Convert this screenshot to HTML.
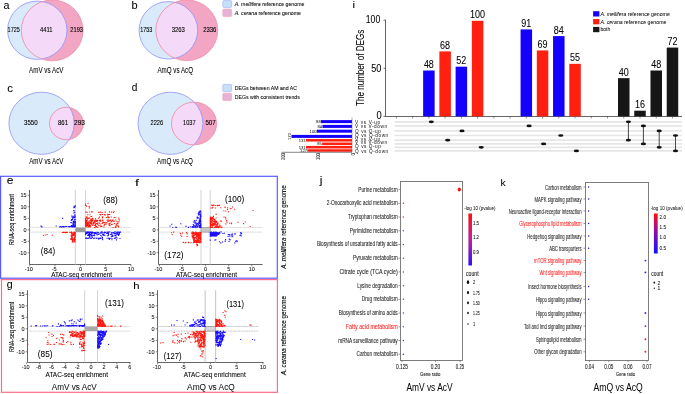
<!DOCTYPE html>
<html><head><meta charset="utf-8"><style>
html,body{margin:0;padding:0;background:#fff;}
svg{display:block;font-family:"Liberation Sans",sans-serif;will-change:transform;}
</style></head><body>
<svg width="685" height="394" viewBox="0 0 685 394">
<rect width="685" height="394" fill="#fff"/>
<clipPath id="ca"><ellipse cx="37.3" cy="30.25" rx="29.7" ry="29.15"/></clipPath>
<ellipse cx="37.3" cy="30.25" rx="29.7" ry="29.15" fill="#d9ebfb"/>
<ellipse cx="52.2" cy="30.4" rx="30.9" ry="30.4" fill="#f2a6c4"/>
<ellipse cx="52.2" cy="30.4" rx="30.9" ry="30.4" fill="#f4daf8" clip-path="url(#ca)"/>
<ellipse cx="37.3" cy="30.25" rx="29.7" ry="29.15" fill="none" stroke="#9090f8" stroke-width="0.8"/>
<ellipse cx="52.2" cy="30.4" rx="30.9" ry="30.4" fill="none" stroke="#f08ca4" stroke-width="0.8"/>
<clipPath id="cb"><ellipse cx="168.4" cy="30.3" rx="29.3" ry="28.7"/></clipPath>
<ellipse cx="168.4" cy="30.3" rx="29.3" ry="28.7" fill="#d9ebfb"/>
<ellipse cx="186.8" cy="30.3" rx="31.0" ry="30.3" fill="#f2a6c4"/>
<ellipse cx="186.8" cy="30.3" rx="31.0" ry="30.3" fill="#f4daf8" clip-path="url(#cb)"/>
<ellipse cx="168.4" cy="30.3" rx="29.3" ry="28.7" fill="none" stroke="#9090f8" stroke-width="0.8"/>
<ellipse cx="186.8" cy="30.3" rx="31.0" ry="30.3" fill="none" stroke="#f08ca4" stroke-width="0.8"/>
<clipPath id="cc"><ellipse cx="41.55" cy="123.3" rx="32.65" ry="31.1"/></clipPath>
<ellipse cx="41.55" cy="123.3" rx="32.65" ry="31.1" fill="#d9ebfb"/>
<ellipse cx="66.4" cy="123.5" rx="16.9" ry="16.25" fill="#f2a6c4"/>
<ellipse cx="66.4" cy="123.5" rx="16.9" ry="16.25" fill="#f4daf8" clip-path="url(#cc)"/>
<ellipse cx="41.55" cy="123.3" rx="32.65" ry="31.1" fill="none" stroke="#9090f8" stroke-width="0.8"/>
<ellipse cx="66.4" cy="123.5" rx="16.9" ry="16.25" fill="none" stroke="#f08ca4" stroke-width="0.8"/>
<clipPath id="cd"><ellipse cx="170.45" cy="123.3" rx="32.45" ry="31.1"/></clipPath>
<ellipse cx="170.45" cy="123.3" rx="32.45" ry="31.1" fill="#d9ebfb"/>
<ellipse cx="194.05" cy="123.5" rx="22.55" ry="21.4" fill="#f2a6c4"/>
<ellipse cx="194.05" cy="123.5" rx="22.55" ry="21.4" fill="#f4daf8" clip-path="url(#cd)"/>
<ellipse cx="170.45" cy="123.3" rx="32.45" ry="31.1" fill="none" stroke="#9090f8" stroke-width="0.8"/>
<ellipse cx="194.05" cy="123.5" rx="22.55" ry="21.4" fill="none" stroke="#f08ca4" stroke-width="0.8"/>
<text x="3.40" y="9.40" font-size="11.5" textLength="6.00" lengthAdjust="spacingAndGlyphs" fill="#000" stroke="#000" stroke-width="0.06" >a</text>
<text x="131.50" y="9.00" font-size="10" textLength="6.10" lengthAdjust="spacingAndGlyphs" fill="#000" stroke="#000" stroke-width="0.06" >b</text>
<text x="7.30" y="91.60" font-size="10.4" textLength="5.70" lengthAdjust="spacingAndGlyphs" fill="#000" stroke="#000" stroke-width="0.06" >c</text>
<text x="131.80" y="91.30" font-size="10" textLength="5.60" lengthAdjust="spacingAndGlyphs" fill="#000" stroke="#000" stroke-width="0.06" >d</text>
<text x="7.60" y="31.80" font-size="8.0" textLength="12.20" lengthAdjust="spacingAndGlyphs" fill="#000" stroke="#000" stroke-width="0.12" >1725</text>
<text x="39.90" y="31.80" font-size="8.0" textLength="12.60" lengthAdjust="spacingAndGlyphs" fill="#000" stroke="#000" stroke-width="0.12" >4411</text>
<text x="70.30" y="31.80" font-size="8.0" textLength="12.70" lengthAdjust="spacingAndGlyphs" fill="#000" stroke="#000" stroke-width="0.12" >2193</text>
<text x="140.20" y="31.90" font-size="8.0" textLength="12.20" lengthAdjust="spacingAndGlyphs" fill="#000" stroke="#000" stroke-width="0.12" >1753</text>
<text x="171.70" y="31.90" font-size="8.0" textLength="13.20" lengthAdjust="spacingAndGlyphs" fill="#000" stroke="#000" stroke-width="0.12" >3263</text>
<text x="203.20" y="31.90" font-size="8.0" textLength="13.20" lengthAdjust="spacingAndGlyphs" fill="#000" stroke="#000" stroke-width="0.12" >2336</text>
<text x="24.00" y="124.90" font-size="8.0" textLength="13.70" lengthAdjust="spacingAndGlyphs" fill="#000" stroke="#000" stroke-width="0.12" >3550</text>
<text x="58.00" y="124.90" font-size="8.0" textLength="10.00" lengthAdjust="spacingAndGlyphs" fill="#000" stroke="#000" stroke-width="0.12" >861</text>
<text x="74.00" y="124.90" font-size="8.0" textLength="11.00" lengthAdjust="spacingAndGlyphs" fill="#000" stroke="#000" stroke-width="0.12" >293</text>
<text x="150.50" y="124.90" font-size="8.0" textLength="12.50" lengthAdjust="spacingAndGlyphs" fill="#000" stroke="#000" stroke-width="0.12" >2226</text>
<text x="183.00" y="124.90" font-size="8.0" textLength="12.50" lengthAdjust="spacingAndGlyphs" fill="#000" stroke="#000" stroke-width="0.12" >1037</text>
<text x="205.40" y="124.90" font-size="8.0" textLength="10.30" lengthAdjust="spacingAndGlyphs" fill="#000" stroke="#000" stroke-width="0.12" >507</text>
<text x="29.00" y="73.00" font-size="9.0" textLength="34.50" lengthAdjust="spacingAndGlyphs" fill="#000" stroke="#000" stroke-width="0.06" >AmV vs AcV</text>
<text x="157.40" y="73.00" font-size="9.0" textLength="35.60" lengthAdjust="spacingAndGlyphs" fill="#000" stroke="#000" stroke-width="0.06" >AmQ vs AcQ</text>
<text x="29.20" y="164.20" font-size="9.0" textLength="34.30" lengthAdjust="spacingAndGlyphs" fill="#000" stroke="#000" stroke-width="0.06" >AmV vs AcV</text>
<text x="157.00" y="164.20" font-size="9.0" textLength="35.80" lengthAdjust="spacingAndGlyphs" fill="#000" stroke="#000" stroke-width="0.06" >AmQ vs AcQ</text>
<rect x="222.8" y="0.6" width="8.799999999999983" height="6.800000000000001" rx="1" fill="#c6e0f8" stroke="#a9b6f8" stroke-width="0.7"/>
<rect x="222.8" y="9.1" width="8.799999999999983" height="7.500000000000002" rx="1" fill="#e7b1d4" stroke="#f0a8c0" stroke-width="0.7"/>
<text x="234.70" y="6.30" font-size="6.2" textLength="69.70" lengthAdjust="spacingAndGlyphs" fill="#000" stroke="#000" stroke-width="0.07" ><tspan font-style="italic">A. mellifera</tspan> reference genome</text>
<text x="234.70" y="14.90" font-size="6.2" textLength="66.30" lengthAdjust="spacingAndGlyphs" fill="#000" stroke="#000" stroke-width="0.07" ><tspan font-style="italic">A. cerana</tspan> reference genome</text>
<rect x="222.8" y="84.4" width="8.799999999999983" height="7.199999999999989" rx="1" fill="#c6e0f8" stroke="#a9b6f8" stroke-width="0.7"/>
<rect x="222.8" y="93.3" width="8.799999999999983" height="7.1000000000000085" rx="1" fill="#e7b1d4" stroke="#f0a8c0" stroke-width="0.7"/>
<text x="234.70" y="89.60" font-size="6.2" textLength="62.30" lengthAdjust="spacingAndGlyphs" fill="#000" stroke="#000" stroke-width="0.07" >DEGs between AM and AC</text>
<text x="234.70" y="99.20" font-size="6.2" textLength="65.10" lengthAdjust="spacingAndGlyphs" fill="#000" stroke="#000" stroke-width="0.07" >DEGs with consistent trends</text>
<text x="352.50" y="7.50" font-size="9.4" textLength="2.60" lengthAdjust="spacingAndGlyphs" fill="#000" stroke="#000" stroke-width="0.06" >i</text>
<line x1="385.5" y1="19.8" x2="385.5" y2="116.4" stroke="#555" stroke-width="0.9"/>
<line x1="385.5" y1="116.5" x2="682" y2="116.5" stroke="#555" stroke-width="0.9"/>
<line x1="383.5" y1="116.40" x2="386" y2="116.40" stroke="#555" stroke-width="0.8"/>
<line x1="383.5" y1="68.30" x2="386" y2="68.30" stroke="#555" stroke-width="0.8"/>
<line x1="383.5" y1="20.20" x2="386" y2="20.20" stroke="#555" stroke-width="0.8"/>
<text x="365.80" y="23.40" font-size="10" textLength="14.40" lengthAdjust="spacingAndGlyphs" fill="#000" stroke="#000" stroke-width="0.06" >100</text>
<text x="371.30" y="71.80" font-size="10" textLength="10.10" lengthAdjust="spacingAndGlyphs" fill="#000" stroke="#000" stroke-width="0.06" >50</text>
<text x="376.40" y="118.60" font-size="10" textLength="5.20" lengthAdjust="spacingAndGlyphs" fill="#000" stroke="#000" stroke-width="0.06" >0</text>
<text transform="translate(363.60,106.00) rotate(-90)" x="0" y="0" font-size="10" textLength="76.30" lengthAdjust="spacingAndGlyphs" fill="#000" stroke="#000" stroke-width="0.06">The number of DEGs</text>
<line x1="396.40" y1="116.4" x2="396.40" y2="118.4" stroke="#555" stroke-width="0.7"/>
<line x1="412.64" y1="116.4" x2="412.64" y2="118.4" stroke="#555" stroke-width="0.7"/>
<line x1="428.88" y1="116.4" x2="428.88" y2="118.4" stroke="#555" stroke-width="0.7"/>
<line x1="445.12" y1="116.4" x2="445.12" y2="118.4" stroke="#555" stroke-width="0.7"/>
<line x1="461.36" y1="116.4" x2="461.36" y2="118.4" stroke="#555" stroke-width="0.7"/>
<line x1="477.60" y1="116.4" x2="477.60" y2="118.4" stroke="#555" stroke-width="0.7"/>
<line x1="493.84" y1="116.4" x2="493.84" y2="118.4" stroke="#555" stroke-width="0.7"/>
<line x1="510.08" y1="116.4" x2="510.08" y2="118.4" stroke="#555" stroke-width="0.7"/>
<line x1="526.32" y1="116.4" x2="526.32" y2="118.4" stroke="#555" stroke-width="0.7"/>
<line x1="542.56" y1="116.4" x2="542.56" y2="118.4" stroke="#555" stroke-width="0.7"/>
<line x1="558.80" y1="116.4" x2="558.80" y2="118.4" stroke="#555" stroke-width="0.7"/>
<line x1="575.04" y1="116.4" x2="575.04" y2="118.4" stroke="#555" stroke-width="0.7"/>
<line x1="591.28" y1="116.4" x2="591.28" y2="118.4" stroke="#555" stroke-width="0.7"/>
<line x1="607.52" y1="116.4" x2="607.52" y2="118.4" stroke="#555" stroke-width="0.7"/>
<line x1="623.76" y1="116.4" x2="623.76" y2="118.4" stroke="#555" stroke-width="0.7"/>
<line x1="640.00" y1="116.4" x2="640.00" y2="118.4" stroke="#555" stroke-width="0.7"/>
<line x1="656.24" y1="116.4" x2="656.24" y2="118.4" stroke="#555" stroke-width="0.7"/>
<line x1="672.48" y1="116.4" x2="672.48" y2="118.4" stroke="#555" stroke-width="0.7"/>
<rect x="423.13" y="70.51" width="11.5" height="45.89" fill="#1400ff"/>
<text x="423.88" y="68.11" font-size="10" textLength="10.00" lengthAdjust="spacingAndGlyphs" fill="#000" stroke="#000" stroke-width="0.06" >48</text>
<rect x="439.37" y="51.39" width="11.5" height="65.01" fill="#ff2010"/>
<text x="440.12" y="48.99" font-size="10" textLength="10.00" lengthAdjust="spacingAndGlyphs" fill="#000" stroke="#000" stroke-width="0.06" >68</text>
<rect x="455.61" y="66.69" width="11.5" height="49.71" fill="#1400ff"/>
<text x="456.36" y="64.29" font-size="10" textLength="10.00" lengthAdjust="spacingAndGlyphs" fill="#000" stroke="#000" stroke-width="0.06" >52</text>
<rect x="471.85" y="20.80" width="11.5" height="95.60" fill="#ff2010"/>
<text x="470.10" y="18.40" font-size="10" textLength="15.00" lengthAdjust="spacingAndGlyphs" fill="#000" stroke="#000" stroke-width="0.06" >100</text>
<rect x="520.57" y="29.40" width="11.5" height="87.00" fill="#1400ff"/>
<text x="521.32" y="27.00" font-size="10" textLength="10.00" lengthAdjust="spacingAndGlyphs" fill="#000" stroke="#000" stroke-width="0.06" >91</text>
<rect x="536.81" y="50.44" width="11.5" height="65.96" fill="#ff2010"/>
<text x="537.56" y="48.04" font-size="10" textLength="10.00" lengthAdjust="spacingAndGlyphs" fill="#000" stroke="#000" stroke-width="0.06" >69</text>
<rect x="553.05" y="36.10" width="11.5" height="80.30" fill="#1400ff"/>
<text x="553.80" y="33.70" font-size="10" textLength="10.00" lengthAdjust="spacingAndGlyphs" fill="#000" stroke="#000" stroke-width="0.06" >84</text>
<rect x="569.29" y="63.82" width="11.5" height="52.58" fill="#ff2010"/>
<text x="570.04" y="61.42" font-size="10" textLength="10.00" lengthAdjust="spacingAndGlyphs" fill="#000" stroke="#000" stroke-width="0.06" >55</text>
<rect x="618.01" y="78.16" width="11.5" height="38.24" fill="#161616"/>
<text x="618.76" y="75.76" font-size="10" textLength="10.00" lengthAdjust="spacingAndGlyphs" fill="#000" stroke="#000" stroke-width="0.06" >40</text>
<rect x="634.25" y="110.70" width="11.5" height="5.70" fill="#161616"/>
<text x="635.00" y="108.30" font-size="10" textLength="10.00" lengthAdjust="spacingAndGlyphs" fill="#000" stroke="#000" stroke-width="0.06" >16</text>
<rect x="650.49" y="70.51" width="11.5" height="45.89" fill="#161616"/>
<text x="651.24" y="68.11" font-size="10" textLength="10.00" lengthAdjust="spacingAndGlyphs" fill="#000" stroke="#000" stroke-width="0.06" >48</text>
<rect x="666.73" y="47.57" width="11.5" height="68.83" fill="#161616"/>
<text x="667.48" y="45.17" font-size="10" textLength="10.00" lengthAdjust="spacingAndGlyphs" fill="#000" stroke="#000" stroke-width="0.06" >72</text>
<rect x="593.1" y="11.20" width="6.3" height="5.3" fill="#1400ff"/>
<rect x="593.1" y="19.05" width="6.3" height="5.3" fill="#ff2010"/>
<rect x="593.1" y="26.90" width="6.3" height="5.3" fill="#161616"/>
<text x="600.40" y="15.90" font-size="5.4" textLength="69.40" lengthAdjust="spacingAndGlyphs" fill="#000" stroke="#000" stroke-width="0.03" ><tspan font-style="italic">A. mellifera</tspan> reference genome</text>
<text x="600.40" y="23.50" font-size="5.4" textLength="66.00" lengthAdjust="spacingAndGlyphs" fill="#000" stroke="#000" stroke-width="0.03" ><tspan font-style="italic">A. cerana</tspan> reference genome</text>
<text x="600.40" y="31.40" font-size="5.4" textLength="10.00" lengthAdjust="spacingAndGlyphs" fill="#000" stroke="#000" stroke-width="0.03" >both</text>
<line x1="394.5" y1="121.8" x2="682" y2="121.8" stroke="#e6e6e6" stroke-width="1.7"/>
<line x1="394.5" y1="125.9" x2="682" y2="125.9" stroke="#e6e6e6" stroke-width="1.7"/>
<line x1="394.5" y1="130.9" x2="682" y2="130.9" stroke="#e6e6e6" stroke-width="1.7"/>
<line x1="394.5" y1="135.5" x2="682" y2="135.5" stroke="#e6e6e6" stroke-width="1.7"/>
<line x1="394.5" y1="140.2" x2="682" y2="140.2" stroke="#e6e6e6" stroke-width="1.7"/>
<line x1="394.5" y1="143.9" x2="682" y2="143.9" stroke="#e6e6e6" stroke-width="1.7"/>
<line x1="394.5" y1="147.3" x2="682" y2="147.3" stroke="#e6e6e6" stroke-width="1.7"/>
<line x1="394.5" y1="150.9" x2="682" y2="150.9" stroke="#e6e6e6" stroke-width="1.7"/>
<ellipse cx="431.3" cy="121.8" rx="2.6" ry="1.35" fill="#111"/>
<ellipse cx="447.7" cy="140.2" rx="2.6" ry="1.35" fill="#111"/>
<ellipse cx="462.0" cy="130.9" rx="2.6" ry="1.35" fill="#111"/>
<ellipse cx="481.2" cy="147.3" rx="2.6" ry="1.35" fill="#111"/>
<ellipse cx="529.1" cy="125.9" rx="2.6" ry="1.35" fill="#111"/>
<ellipse cx="543.6" cy="143.9" rx="2.6" ry="1.35" fill="#111"/>
<ellipse cx="560.8" cy="135.5" rx="2.6" ry="1.35" fill="#111"/>
<ellipse cx="576.4" cy="150.9" rx="2.6" ry="1.35" fill="#111"/>
<line x1="628.4" y1="121.8" x2="628.4" y2="140.2" stroke="#333" stroke-width="0.9"/>
<ellipse cx="628.4" cy="121.8" rx="2.6" ry="1.35" fill="#111"/>
<ellipse cx="628.4" cy="140.2" rx="2.6" ry="1.35" fill="#111"/>
<line x1="643.4" y1="125.9" x2="643.4" y2="143.9" stroke="#333" stroke-width="0.9"/>
<ellipse cx="643.4" cy="125.9" rx="2.6" ry="1.35" fill="#111"/>
<ellipse cx="643.4" cy="143.9" rx="2.6" ry="1.35" fill="#111"/>
<line x1="659.2" y1="130.9" x2="659.2" y2="147.3" stroke="#333" stroke-width="0.9"/>
<ellipse cx="659.2" cy="130.9" rx="2.6" ry="1.35" fill="#111"/>
<ellipse cx="659.2" cy="147.3" rx="2.6" ry="1.35" fill="#111"/>
<line x1="675.5" y1="135.5" x2="675.5" y2="150.9" stroke="#333" stroke-width="0.9"/>
<ellipse cx="675.5" cy="135.5" rx="2.6" ry="1.35" fill="#111"/>
<ellipse cx="675.5" cy="150.9" rx="2.6" ry="1.35" fill="#111"/>
<rect x="321.02" y="120.10" width="30.98" height="3.0" fill="#1400ff"/>
<text x="316.12" y="123.20" font-size="4.4" textLength="4.60" lengthAdjust="spacingAndGlyphs" fill="#222" stroke="#222" stroke-width="0.03" >88</text>
<rect x="322.43" y="124.90" width="29.57" height="3.0" fill="#1400ff"/>
<text x="317.53" y="128.00" font-size="4.4" textLength="4.60" lengthAdjust="spacingAndGlyphs" fill="#222" stroke="#222" stroke-width="0.03" >84</text>
<rect x="316.80" y="129.70" width="35.20" height="3.0" fill="#1400ff"/>
<text x="309.60" y="132.80" font-size="4.4" textLength="6.90" lengthAdjust="spacingAndGlyphs" fill="#222" stroke="#222" stroke-width="0.03" >100</text>
<rect x="291.46" y="134.90" width="60.54" height="3.0" fill="#1400ff"/>
<text transform="translate(291.06,139.70) rotate(-90)" x="0" y="0" font-size="4.4" textLength="6.50" lengthAdjust="spacingAndGlyphs" fill="#222" stroke="#222" stroke-width="0.03">172</text>
<rect x="305.89" y="139.05" width="46.11" height="2.5" fill="#ff2010"/>
<text x="298.69" y="141.90" font-size="4.4" textLength="6.90" lengthAdjust="spacingAndGlyphs" fill="#222" stroke="#222" stroke-width="0.03" >131</text>
<rect x="322.08" y="142.55" width="29.92" height="2.5" fill="#ff2010"/>
<text x="317.18" y="145.40" font-size="4.4" textLength="4.60" lengthAdjust="spacingAndGlyphs" fill="#222" stroke="#222" stroke-width="0.03" >85</text>
<rect x="305.89" y="145.95" width="46.11" height="2.5" fill="#ff2010"/>
<text x="298.69" y="148.80" font-size="4.4" textLength="6.90" lengthAdjust="spacingAndGlyphs" fill="#222" stroke="#222" stroke-width="0.03" >131</text>
<rect x="307.30" y="149.25" width="44.70" height="2.5" fill="#ff2010"/>
<text x="300.10" y="152.10" font-size="4.4" textLength="6.90" lengthAdjust="spacingAndGlyphs" fill="#222" stroke="#222" stroke-width="0.03" >127</text>
<line x1="281.5" y1="152.3" x2="352" y2="152.3" stroke="#555" stroke-width="0.7"/>
<line x1="352" y1="117.5" x2="352" y2="152.3" stroke="#555" stroke-width="0.5"/>
<text transform="translate(284.50,160.10) rotate(-90)" x="0" y="0" font-size="4.6" textLength="6.90" lengthAdjust="spacingAndGlyphs" fill="#222" stroke="#222" stroke-width="0.03">200</text>
<text transform="translate(319.70,160.10) rotate(-90)" x="0" y="0" font-size="4.6" textLength="6.90" lengthAdjust="spacingAndGlyphs" fill="#222" stroke="#222" stroke-width="0.03">100</text>
<text transform="translate(354.90,155.50) rotate(-90)" x="0" y="0" font-size="4.6" textLength="2.30" lengthAdjust="spacingAndGlyphs" fill="#222" stroke="#222" stroke-width="0.03">0</text>
<text x="355.1" y="124.1" font-size="4.7" textLength="25.1" lengthAdjust="spacing" fill="#111">V vs V-up</text>
<text x="355.1" y="127.7" font-size="4.7" textLength="32.0" lengthAdjust="spacing" fill="#111">V vs V-down</text>
<text x="355.1" y="132.6" font-size="4.7" textLength="25.7" lengthAdjust="spacing" fill="#111">Q vs Q-up</text>
<text x="355.1" y="136.7" font-size="4.7" textLength="33.1" lengthAdjust="spacing" fill="#111">Q vs Q-down</text>
<text x="355.1" y="140.8" font-size="4.7" textLength="25.1" lengthAdjust="spacing" fill="#111">V vs V-up</text>
<text x="355.1" y="144.2" font-size="4.7" textLength="32.0" lengthAdjust="spacing" fill="#111">V vs V-down</text>
<text x="355.1" y="148.1" font-size="4.7" textLength="25.7" lengthAdjust="spacing" fill="#111">Q vs Q-up</text>
<text x="355.1" y="152.5" font-size="4.7" textLength="33.1" lengthAdjust="spacing" fill="#111">Q vs Q-down</text>
<rect x="0.6" y="176.3" width="276.7" height="101.9" fill="none" stroke="#5a5aff" stroke-width="1.2"/>
<rect x="1.5" y="279.6" width="275.9" height="112.7" fill="none" stroke="#ff6d88" stroke-width="1.2"/>
<text x="6.80" y="184.20" font-size="11" textLength="6.70" lengthAdjust="spacingAndGlyphs" fill="#000" stroke="#000" stroke-width="0.06" >e</text>
<text x="135.10" y="186.30" font-size="9.5" textLength="4.00" lengthAdjust="spacingAndGlyphs" fill="#000" stroke="#000" stroke-width="0.06" >f</text>
<text x="6.80" y="288.00" font-size="10.4" textLength="5.90" lengthAdjust="spacingAndGlyphs" fill="#000" stroke="#000" stroke-width="0.06" >g</text>
<text x="133.30" y="288.60" font-size="9.5" textLength="6.30" lengthAdjust="spacingAndGlyphs" fill="#000" stroke="#000" stroke-width="0.06" >h</text>
<line x1="29.5" y1="190.0" x2="29.5" y2="264.5" stroke="#555" stroke-width="0.9"/>
<line x1="29.5" y1="264.5" x2="131.0" y2="264.5" stroke="#555" stroke-width="0.9"/>
<line x1="27.7" y1="195.30" x2="29.5" y2="195.30" stroke="#555" stroke-width="0.7"/>
<text x="20.40" y="197.40" font-size="6.0" textLength="6.10" lengthAdjust="spacingAndGlyphs" fill="#111" stroke="#111" stroke-width="0.07" >15</text>
<line x1="27.7" y1="206.80" x2="29.5" y2="206.80" stroke="#555" stroke-width="0.7"/>
<text x="20.40" y="208.90" font-size="6.0" textLength="6.10" lengthAdjust="spacingAndGlyphs" fill="#111" stroke="#111" stroke-width="0.07" >10</text>
<line x1="27.7" y1="218.30" x2="29.5" y2="218.30" stroke="#555" stroke-width="0.7"/>
<text x="23.45" y="220.40" font-size="6.0" textLength="3.05" lengthAdjust="spacingAndGlyphs" fill="#111" stroke="#111" stroke-width="0.07" >5</text>
<line x1="27.7" y1="229.80" x2="29.5" y2="229.80" stroke="#555" stroke-width="0.7"/>
<text x="23.45" y="231.90" font-size="6.0" textLength="3.05" lengthAdjust="spacingAndGlyphs" fill="#111" stroke="#111" stroke-width="0.07" >0</text>
<line x1="27.7" y1="241.30" x2="29.5" y2="241.30" stroke="#555" stroke-width="0.7"/>
<text x="21.55" y="243.40" font-size="6.0" textLength="4.95" lengthAdjust="spacingAndGlyphs" fill="#111" stroke="#111" stroke-width="0.07" >-5</text>
<line x1="27.7" y1="252.80" x2="29.5" y2="252.80" stroke="#555" stroke-width="0.7"/>
<text x="18.50" y="254.90" font-size="6.0" textLength="8.00" lengthAdjust="spacingAndGlyphs" fill="#111" stroke="#111" stroke-width="0.07" >-10</text>
<line x1="29.80" y1="264.5" x2="29.80" y2="266.3" stroke="#555" stroke-width="0.7"/>
<text x="24.85" y="271.10" font-size="6.0" textLength="8.00" lengthAdjust="spacingAndGlyphs" fill="#111" stroke="#111" stroke-width="0.07" >-10</text>
<line x1="55.10" y1="264.5" x2="55.10" y2="266.3" stroke="#555" stroke-width="0.7"/>
<text x="51.68" y="271.10" font-size="6.0" textLength="4.95" lengthAdjust="spacingAndGlyphs" fill="#111" stroke="#111" stroke-width="0.07" >-5</text>
<line x1="80.40" y1="264.5" x2="80.40" y2="266.3" stroke="#555" stroke-width="0.7"/>
<text x="78.88" y="271.10" font-size="6.0" textLength="3.05" lengthAdjust="spacingAndGlyphs" fill="#111" stroke="#111" stroke-width="0.07" >0</text>
<line x1="105.70" y1="264.5" x2="105.70" y2="266.3" stroke="#555" stroke-width="0.7"/>
<text x="104.17" y="271.10" font-size="6.0" textLength="3.05" lengthAdjust="spacingAndGlyphs" fill="#111" stroke="#111" stroke-width="0.07" >5</text>
<line x1="131.00" y1="264.5" x2="131.00" y2="266.3" stroke="#555" stroke-width="0.7"/>
<text x="127.95" y="271.10" font-size="6.0" textLength="6.10" lengthAdjust="spacingAndGlyphs" fill="#111" stroke="#111" stroke-width="0.07" >10</text>
<line x1="75.34" y1="190.0" x2="75.34" y2="264.5" stroke="#cfcfcf" stroke-width="0.9"/>
<line x1="85.46" y1="190.0" x2="85.46" y2="264.5" stroke="#cfcfcf" stroke-width="0.9"/>
<line x1="29.5" y1="227.50" x2="131" y2="227.50" stroke="#cfcfcf" stroke-width="0.8" stroke-dasharray="2 0.6"/>
<line x1="29.5" y1="232.10" x2="131" y2="232.10" stroke="#cfcfcf" stroke-width="0.8" stroke-dasharray="2 0.6"/>
<rect x="75.34" y="227.50" width="10.12" height="4.60" fill="#9c9c9c" stroke="none" stroke-width="0.8"/>
<path fill="#ff1a10" d="M88.9 225.1h1.1v1.1h-1.1zM100.1 225.8h1.1v1.1h-1.1zM95.4 223.4h1.1v1.1h-1.1zM85.1 222.4h1.1v1.1h-1.1zM85.0 222.9h1.1v1.1h-1.1zM85.1 225.6h1.1v1.1h-1.1zM91.7 220.4h1.1v1.1h-1.1zM85.6 224.5h1.1v1.1h-1.1zM99.1 219.7h1.1v1.1h-1.1zM97.0 223.2h1.1v1.1h-1.1zM117.8 226.1h1.1v1.1h-1.1zM110.7 224.0h1.1v1.1h-1.1zM85.8 225.4h1.1v1.1h-1.1zM88.6 220.5h1.1v1.1h-1.1zM86.2 221.9h1.1v1.1h-1.1zM99.6 223.4h1.1v1.1h-1.1zM95.9 225.9h1.1v1.1h-1.1zM85.1 224.6h1.1v1.1h-1.1zM101.5 223.0h1.1v1.1h-1.1zM88.7 221.9h1.1v1.1h-1.1zM92.6 223.9h1.1v1.1h-1.1zM107.1 221.2h1.1v1.1h-1.1zM87.3 222.0h1.1v1.1h-1.1zM95.0 220.1h1.1v1.1h-1.1zM103.8 224.0h1.1v1.1h-1.1zM118.0 225.4h1.1v1.1h-1.1zM91.5 220.8h1.1v1.1h-1.1zM85.9 222.6h1.1v1.1h-1.1zM85.0 221.4h1.1v1.1h-1.1zM105.6 222.0h1.1v1.1h-1.1zM111.6 223.8h1.1v1.1h-1.1zM102.2 221.9h1.1v1.1h-1.1zM97.1 222.8h1.1v1.1h-1.1zM109.6 219.7h1.1v1.1h-1.1zM93.2 221.4h1.1v1.1h-1.1zM85.1 221.2h1.1v1.1h-1.1zM100.0 219.4h1.1v1.1h-1.1zM108.6 224.0h1.1v1.1h-1.1zM90.5 221.4h1.1v1.1h-1.1zM84.9 222.8h1.1v1.1h-1.1zM86.1 225.4h1.1v1.1h-1.1zM85.1 220.8h1.1v1.1h-1.1zM85.6 224.3h1.1v1.1h-1.1zM90.7 220.1h1.1v1.1h-1.1zM85.2 222.8h1.1v1.1h-1.1zM95.9 220.1h1.1v1.1h-1.1zM108.5 220.2h1.1v1.1h-1.1zM87.9 223.1h1.1v1.1h-1.1zM89.8 220.1h1.1v1.1h-1.1zM116.6 225.1h1.1v1.1h-1.1zM86.2 224.4h1.1v1.1h-1.1zM87.1 222.6h1.1v1.1h-1.1zM97.5 224.2h1.1v1.1h-1.1zM84.9 223.1h1.1v1.1h-1.1zM90.1 222.0h1.1v1.1h-1.1zM116.3 221.2h1.1v1.1h-1.1zM94.7 221.7h1.1v1.1h-1.1zM101.3 226.0h1.1v1.1h-1.1zM113.0 220.7h1.1v1.1h-1.1zM111.6 220.6h1.1v1.1h-1.1zM90.7 223.2h1.1v1.1h-1.1zM85.4 221.6h1.1v1.1h-1.1zM85.1 225.9h1.1v1.1h-1.1zM86.7 225.0h1.1v1.1h-1.1zM89.3 226.0h1.1v1.1h-1.1zM84.9 225.1h1.1v1.1h-1.1zM85.4 223.4h1.1v1.1h-1.1zM84.9 220.1h1.1v1.1h-1.1zM98.5 225.1h1.1v1.1h-1.1zM87.4 223.6h1.1v1.1h-1.1zM90.0 225.3h1.1v1.1h-1.1zM110.1 219.4h1.1v1.1h-1.1zM93.0 222.6h1.1v1.1h-1.1zM85.2 225.5h1.1v1.1h-1.1zM89.4 224.2h1.1v1.1h-1.1zM109.0 225.0h1.1v1.1h-1.1zM84.9 219.7h1.1v1.1h-1.1zM95.1 225.1h1.1v1.1h-1.1zM95.7 226.3h1.1v1.1h-1.1zM95.1 219.5h1.1v1.1h-1.1zM110.9 221.2h1.1v1.1h-1.1zM87.6 223.4h1.1v1.1h-1.1zM86.1 220.7h1.1v1.1h-1.1zM95.3 220.7h1.1v1.1h-1.1zM89.1 224.5h1.1v1.1h-1.1zM108.0 219.4h1.1v1.1h-1.1zM110.3 220.5h1.1v1.1h-1.1zM108.4 220.9h1.1v1.1h-1.1zM87.0 222.4h1.1v1.1h-1.1zM89.7 226.3h1.1v1.1h-1.1zM84.9 224.1h1.1v1.1h-1.1zM87.6 221.2h1.1v1.1h-1.1zM116.5 222.9h1.1v1.1h-1.1zM115.3 219.4h1.1v1.1h-1.1zM116.4 223.4h1.1v1.1h-1.1zM86.9 224.5h1.1v1.1h-1.1zM86.5 224.7h1.1v1.1h-1.1zM99.0 220.0h1.1v1.1h-1.1zM109.6 222.6h1.1v1.1h-1.1zM100.2 220.6h1.1v1.1h-1.1zM85.2 221.4h1.1v1.1h-1.1zM113.7 220.7h1.1v1.1h-1.1zM104.8 222.6h1.1v1.1h-1.1zM86.2 220.6h1.1v1.1h-1.1zM89.2 220.6h1.1v1.1h-1.1zM117.5 223.2h1.1v1.1h-1.1zM91.0 219.7h1.1v1.1h-1.1zM103.6 224.9h1.1v1.1h-1.1zM85.6 225.1h1.1v1.1h-1.1zM113.4 220.5h1.1v1.1h-1.1zM85.8 220.4h1.1v1.1h-1.1zM118.0 221.5h1.1v1.1h-1.1zM89.6 222.2h1.1v1.1h-1.1zM85.6 226.5h1.1v1.1h-1.1zM117.4 221.5h1.1v1.1h-1.1zM95.1 219.8h1.1v1.1h-1.1zM91.9 220.1h1.1v1.1h-1.1zM108.8 224.6h1.1v1.1h-1.1zM87.4 224.0h1.1v1.1h-1.1zM87.2 221.9h1.1v1.1h-1.1zM87.6 223.1h1.1v1.1h-1.1zM85.6 219.9h1.1v1.1h-1.1zM89.7 222.8h1.1v1.1h-1.1zM97.3 219.9h1.1v1.1h-1.1zM91.5 219.8h1.1v1.1h-1.1zM94.2 222.3h1.1v1.1h-1.1zM95.0 226.4h1.1v1.1h-1.1zM92.1 224.8h1.1v1.1h-1.1zM84.9 220.6h1.1v1.1h-1.1zM86.1 222.7h1.1v1.1h-1.1zM103.6 222.1h1.1v1.1h-1.1zM89.0 222.4h1.1v1.1h-1.1zM96.2 220.7h1.1v1.1h-1.1zM85.4 222.1h1.1v1.1h-1.1zM87.4 224.1h1.1v1.1h-1.1zM106.0 222.4h1.1v1.1h-1.1zM96.4 220.8h1.1v1.1h-1.1zM113.8 222.9h1.1v1.1h-1.1zM98.5 222.5h1.1v1.1h-1.1zM94.6 221.2h1.1v1.1h-1.1zM92.5 222.3h1.1v1.1h-1.1zM93.4 219.7h1.1v1.1h-1.1zM102.3 220.1h1.1v1.1h-1.1zM115.6 224.2h1.1v1.1h-1.1zM96.3 219.7h1.1v1.1h-1.1zM109.6 225.2h1.1v1.1h-1.1zM85.5 222.9h1.1v1.1h-1.1zM85.1 224.4h1.1v1.1h-1.1zM85.1 221.4h1.1v1.1h-1.1zM106.6 220.0h1.1v1.1h-1.1zM85.9 221.1h1.1v1.1h-1.1zM100.5 225.2h1.1v1.1h-1.1zM112.1 219.6h1.1v1.1h-1.1zM86.8 219.6h1.1v1.1h-1.1zM90.9 222.6h1.1v1.1h-1.1zM118.7 220.4h1.1v1.1h-1.1zM86.0 223.0h1.1v1.1h-1.1zM94.7 223.6h1.1v1.1h-1.1zM86.5 223.8h1.1v1.1h-1.1zM103.4 226.4h1.1v1.1h-1.1zM96.1 222.9h1.1v1.1h-1.1zM84.9 223.7h1.1v1.1h-1.1zM99.0 222.4h1.1v1.1h-1.1zM85.1 219.4h1.1v1.1h-1.1zM106.8 219.5h1.1v1.1h-1.1zM85.4 224.2h1.1v1.1h-1.1zM85.0 220.7h1.1v1.1h-1.1zM87.8 225.3h1.1v1.1h-1.1zM91.6 219.9h1.1v1.1h-1.1zM108.5 224.2h1.1v1.1h-1.1zM85.8 219.8h1.1v1.1h-1.1zM96.8 221.2h1.1v1.1h-1.1zM85.3 226.0h1.1v1.1h-1.1zM101.8 223.0h1.1v1.1h-1.1zM85.1 219.7h1.1v1.1h-1.1zM99.4 220.6h1.1v1.1h-1.1zM85.2 220.2h1.1v1.1h-1.1zM85.1 220.2h1.1v1.1h-1.1zM92.6 223.6h1.1v1.1h-1.1zM96.1 219.8h1.1v1.1h-1.1zM87.7 225.3h1.1v1.1h-1.1zM95.1 224.4h1.1v1.1h-1.1zM85.4 225.0h1.1v1.1h-1.1zM85.0 224.7h1.1v1.1h-1.1zM88.7 223.9h1.1v1.1h-1.1zM105.3 224.0h1.1v1.1h-1.1zM94.1 224.9h1.1v1.1h-1.1zM89.5 226.4h1.1v1.1h-1.1zM87.4 226.5h1.1v1.1h-1.1zM104.0 222.2h1.1v1.1h-1.1zM86.4 222.7h1.1v1.1h-1.1zM115.2 225.5h1.1v1.1h-1.1zM108.5 223.0h1.1v1.1h-1.1zM94.0 220.4h1.1v1.1h-1.1zM90.7 222.4h1.1v1.1h-1.1zM101.8 219.5h1.1v1.1h-1.1zM89.4 220.4h1.1v1.1h-1.1zM102.7 221.6h1.1v1.1h-1.1zM91.1 223.6h1.1v1.1h-1.1zM85.0 225.3h1.1v1.1h-1.1zM86.0 216.8h1.1v1.1h-1.1zM90.8 218.8h1.1v1.1h-1.1zM86.3 216.5h1.1v1.1h-1.1zM113.6 217.0h1.1v1.1h-1.1zM91.5 218.5h1.1v1.1h-1.1zM91.9 217.8h1.1v1.1h-1.1zM88.0 217.8h1.1v1.1h-1.1zM91.0 216.0h1.1v1.1h-1.1zM118.1 217.5h1.1v1.1h-1.1zM90.4 216.0h1.1v1.1h-1.1zM92.4 218.1h1.1v1.1h-1.1zM84.9 218.0h1.1v1.1h-1.1zM98.0 217.6h1.1v1.1h-1.1zM89.2 217.6h1.1v1.1h-1.1zM84.9 218.4h1.1v1.1h-1.1zM86.4 218.0h1.1v1.1h-1.1zM85.5 219.3h1.1v1.1h-1.1zM92.2 218.6h1.1v1.1h-1.1zM102.1 217.5h1.1v1.1h-1.1zM108.6 217.1h1.1v1.1h-1.1zM107.2 216.3h1.1v1.1h-1.1zM95.0 218.2h1.1v1.1h-1.1zM118.6 218.8h1.1v1.1h-1.1zM107.5 217.1h1.1v1.1h-1.1zM85.5 216.5h1.1v1.1h-1.1zM114.6 217.2h1.1v1.1h-1.1zM107.9 216.6h1.1v1.1h-1.1zM87.6 217.6h1.1v1.1h-1.1zM99.0 216.5h1.1v1.1h-1.1zM110.8 216.5h1.1v1.1h-1.1zM102.0 216.3h1.1v1.1h-1.1zM105.9 217.0h1.1v1.1h-1.1zM90.0 219.3h1.1v1.1h-1.1zM87.4 218.1h1.1v1.1h-1.1zM86.7 216.5h1.1v1.1h-1.1zM101.9 214.0h1.1v1.1h-1.1zM103.9 213.9h1.1v1.1h-1.1zM99.8 214.4h1.1v1.1h-1.1zM109.1 213.9h1.1v1.1h-1.1zM100.2 214.0h1.1v1.1h-1.1zM104.9 214.4h1.1v1.1h-1.1zM107.3 214.2h1.1v1.1h-1.1zM87.2 214.2h1.1v1.1h-1.1zM107.1 214.3h1.1v1.1h-1.1zM107.4 213.7h1.1v1.1h-1.1zM99.9 214.2h1.1v1.1h-1.1zM99.5 213.9h1.1v1.1h-1.1zM108.2 214.0h1.1v1.1h-1.1zM104.4 214.4h1.1v1.1h-1.1zM89.4 214.2h1.1v1.1h-1.1zM107.5 214.2h1.1v1.1h-1.1zM101.6 211.9h1.1v1.1h-1.1zM86.7 211.7h1.1v1.1h-1.1zM104.6 211.4h1.1v1.1h-1.1zM104.7 211.7h1.1v1.1h-1.1zM100.1 211.6h1.1v1.1h-1.1zM98.6 211.8h1.1v1.1h-1.1zM111.1 211.7h1.1v1.1h-1.1zM113.6 211.2h1.1v1.1h-1.1zM85.4 211.6h1.1v1.1h-1.1zM109.0 211.2h1.1v1.1h-1.1zM98.1 211.7h1.1v1.1h-1.1zM91.1 211.2h1.1v1.1h-1.1zM91.1 211.5h1.1v1.1h-1.1zM89.1 211.5h1.1v1.1h-1.1zM112.9 211.8h1.1v1.1h-1.1zM109.0 211.5h1.1v1.1h-1.1zM110.9 211.4h1.1v1.1h-1.1zM91.7 211.3h1.1v1.1h-1.1zM88.8 207.3h1.1v1.1h-1.1zM84.9 204.8h1.1v1.1h-1.1zM88.6 205.8h1.1v1.1h-1.1zM86.0 205.6h1.1v1.1h-1.1zM87.5 203.0h1.1v1.1h-1.1zM84.9 203.4h1.1v1.1h-1.1zM112.5 226.9h1.1v1.1h-1.1zM115.4 226.5h1.1v1.1h-1.1zM114.6 226.8h1.1v1.1h-1.1zM97.2 226.7h1.1v1.1h-1.1zM117.8 226.5h1.1v1.1h-1.1zM96.8 226.7h1.1v1.1h-1.1zM94.0 226.9h1.1v1.1h-1.1zM88.3 226.4h1.1v1.1h-1.1zM71.2 239.1h1.1v1.1h-1.1zM72.4 239.3h1.1v1.1h-1.1zM72.4 233.1h1.1v1.1h-1.1zM74.6 231.9h1.1v1.1h-1.1zM71.7 232.5h1.1v1.1h-1.1zM73.9 234.4h1.1v1.1h-1.1zM74.8 232.9h1.1v1.1h-1.1zM74.0 237.8h1.1v1.1h-1.1zM73.7 233.4h1.1v1.1h-1.1zM70.5 235.3h1.1v1.1h-1.1zM71.2 236.6h1.1v1.1h-1.1zM74.8 234.3h1.1v1.1h-1.1zM73.4 238.6h1.1v1.1h-1.1zM73.8 237.7h1.1v1.1h-1.1zM72.9 232.6h1.1v1.1h-1.1zM71.1 231.8h1.1v1.1h-1.1zM71.3 232.3h1.1v1.1h-1.1zM74.8 232.5h1.1v1.1h-1.1zM71.7 241.6h1.1v1.1h-1.1zM74.8 235.1h1.1v1.1h-1.1zM73.1 238.9h1.1v1.1h-1.1zM74.4 235.1h1.1v1.1h-1.1zM73.8 239.4h1.1v1.1h-1.1zM74.1 241.0h1.1v1.1h-1.1zM74.0 232.6h1.1v1.1h-1.1zM72.0 235.2h1.1v1.1h-1.1zM74.6 236.8h1.1v1.1h-1.1zM74.7 238.8h1.1v1.1h-1.1zM72.0 238.8h1.1v1.1h-1.1zM72.4 233.7h1.1v1.1h-1.1zM73.5 234.1h1.1v1.1h-1.1zM70.9 231.8h1.1v1.1h-1.1zM70.9 231.6h1.1v1.1h-1.1zM74.3 232.9h1.1v1.1h-1.1zM70.9 235.2h1.1v1.1h-1.1zM73.6 240.2h1.1v1.1h-1.1zM74.2 234.8h1.1v1.1h-1.1zM72.9 238.3h1.1v1.1h-1.1zM71.7 236.9h1.1v1.1h-1.1zM73.7 233.5h1.1v1.1h-1.1zM74.5 239.6h1.1v1.1h-1.1zM72.2 238.2h1.1v1.1h-1.1zM74.4 234.6h1.1v1.1h-1.1zM71.6 236.1h1.1v1.1h-1.1zM74.5 234.8h1.1v1.1h-1.1zM71.0 232.8h1.1v1.1h-1.1zM74.3 233.3h1.1v1.1h-1.1zM72.0 239.6h1.1v1.1h-1.1zM74.5 232.2h1.1v1.1h-1.1zM74.1 233.5h1.1v1.1h-1.1zM73.0 232.2h1.1v1.1h-1.1zM73.8 232.4h1.1v1.1h-1.1zM70.4 238.0h1.1v1.1h-1.1zM74.6 241.3h1.1v1.1h-1.1zM74.6 234.0h1.1v1.1h-1.1zM70.3 238.9h1.1v1.1h-1.1zM71.8 234.5h1.1v1.1h-1.1zM74.3 236.8h1.1v1.1h-1.1zM74.6 232.5h1.1v1.1h-1.1zM73.6 231.6h1.1v1.1h-1.1zM73.5 238.8h1.1v1.1h-1.1zM72.1 235.2h1.1v1.1h-1.1zM72.4 234.8h1.1v1.1h-1.1zM74.5 236.4h1.1v1.1h-1.1zM73.5 238.2h1.1v1.1h-1.1zM70.8 234.5h1.1v1.1h-1.1zM72.7 238.3h1.1v1.1h-1.1zM73.4 232.7h1.1v1.1h-1.1zM71.9 240.1h1.1v1.1h-1.1zM71.6 237.6h1.1v1.1h-1.1zM71.1 237.3h1.1v1.1h-1.1zM72.3 234.7h1.1v1.1h-1.1zM73.9 236.7h1.1v1.1h-1.1zM74.6 234.4h1.1v1.1h-1.1zM71.6 237.8h1.1v1.1h-1.1zM72.4 232.8h1.1v1.1h-1.1zM73.4 234.7h1.1v1.1h-1.1zM72.4 234.3h1.1v1.1h-1.1zM72.2 240.8h1.1v1.1h-1.1zM74.4 237.0h1.1v1.1h-1.1zM71.6 234.1h1.1v1.1h-1.1zM73.1 241.5h1.1v1.1h-1.1zM74.7 235.7h1.1v1.1h-1.1zM74.4 238.7h1.1v1.1h-1.1zM70.6 235.4h1.1v1.1h-1.1zM62.6 231.9h1.1v1.1h-1.1zM66.8 231.8h1.1v1.1h-1.1zM66.6 231.8h1.1v1.1h-1.1zM69.6 231.9h1.1v1.1h-1.1zM65.6 231.7h1.1v1.1h-1.1zM63.7 231.8h1.1v1.1h-1.1zM65.4 231.8h1.1v1.1h-1.1zM62.8 231.7h1.1v1.1h-1.1zM65.1 232.1h1.1v1.1h-1.1zM64.3 231.9h1.1v1.1h-1.1zM61.8 231.9h1.1v1.1h-1.1zM65.7 231.8h1.1v1.1h-1.1zM65.0 232.0h1.1v1.1h-1.1zM63.8 231.8h1.1v1.1h-1.1zM70.7 231.9h1.1v1.1h-1.1zM63.7 231.8h1.1v1.1h-1.1zM65.4 232.0h1.1v1.1h-1.1zM62.9 231.8h1.1v1.1h-1.1zM69.4 231.8h1.1v1.1h-1.1zM66.1 231.9h1.1v1.1h-1.1zM42.8 234.9h1.1v1.1h-1.1zM44.7 234.4h1.1v1.1h-1.1zM51.8 234.7h1.1v1.1h-1.1zM46.5 233.9h1.1v1.1h-1.1z"/>
<path fill="#1a10ff" d="M90.3 234.9h1.1v1.1h-1.1zM89.3 232.1h1.1v1.1h-1.1zM97.8 231.9h1.1v1.1h-1.1zM93.0 235.0h1.1v1.1h-1.1zM114.4 234.4h1.1v1.1h-1.1zM102.7 234.8h1.1v1.1h-1.1zM117.2 233.2h1.1v1.1h-1.1zM106.5 231.4h1.1v1.1h-1.1zM107.1 232.8h1.1v1.1h-1.1zM108.0 233.6h1.1v1.1h-1.1zM90.3 231.4h1.1v1.1h-1.1zM116.5 231.6h1.1v1.1h-1.1zM96.4 232.4h1.1v1.1h-1.1zM90.7 234.0h1.1v1.1h-1.1zM119.1 232.1h1.1v1.1h-1.1zM103.7 232.2h1.1v1.1h-1.1zM99.6 232.6h1.1v1.1h-1.1zM87.3 231.8h1.1v1.1h-1.1zM88.3 234.8h1.1v1.1h-1.1zM97.3 232.0h1.1v1.1h-1.1zM115.5 235.2h1.1v1.1h-1.1zM95.6 231.7h1.1v1.1h-1.1zM87.9 231.5h1.1v1.1h-1.1zM92.0 231.5h1.1v1.1h-1.1zM89.1 232.1h1.1v1.1h-1.1zM100.1 234.7h1.1v1.1h-1.1zM107.9 232.7h1.1v1.1h-1.1zM94.3 233.1h1.1v1.1h-1.1zM93.1 232.4h1.1v1.1h-1.1zM85.5 232.2h1.1v1.1h-1.1zM118.6 231.6h1.1v1.1h-1.1zM97.6 233.6h1.1v1.1h-1.1zM113.3 231.9h1.1v1.1h-1.1zM89.9 232.1h1.1v1.1h-1.1zM93.9 232.8h1.1v1.1h-1.1zM117.9 234.5h1.1v1.1h-1.1zM113.8 231.4h1.1v1.1h-1.1zM85.1 233.9h1.1v1.1h-1.1zM114.9 232.9h1.1v1.1h-1.1zM100.8 231.3h1.1v1.1h-1.1zM93.6 234.9h1.1v1.1h-1.1zM111.5 234.6h1.1v1.1h-1.1zM118.9 232.1h1.1v1.1h-1.1zM86.2 231.7h1.1v1.1h-1.1zM98.3 233.8h1.1v1.1h-1.1zM117.3 234.0h1.1v1.1h-1.1zM103.4 234.2h1.1v1.1h-1.1zM95.9 233.2h1.1v1.1h-1.1zM85.2 234.2h1.1v1.1h-1.1zM88.9 234.9h1.1v1.1h-1.1zM103.3 232.3h1.1v1.1h-1.1zM86.5 232.1h1.1v1.1h-1.1zM102.9 233.9h1.1v1.1h-1.1zM86.2 231.5h1.1v1.1h-1.1zM98.4 233.4h1.1v1.1h-1.1zM93.5 232.0h1.1v1.1h-1.1zM101.4 231.3h1.1v1.1h-1.1zM90.8 232.9h1.1v1.1h-1.1zM118.2 233.6h1.1v1.1h-1.1zM114.3 232.9h1.1v1.1h-1.1zM88.9 232.1h1.1v1.1h-1.1zM118.3 233.9h1.1v1.1h-1.1zM90.9 231.4h1.1v1.1h-1.1zM97.4 233.8h1.1v1.1h-1.1zM94.6 232.1h1.1v1.1h-1.1zM104.2 234.9h1.1v1.1h-1.1zM88.7 231.4h1.1v1.1h-1.1zM91.9 232.7h1.1v1.1h-1.1zM104.9 231.9h1.1v1.1h-1.1zM110.1 234.0h1.1v1.1h-1.1zM97.6 231.9h1.1v1.1h-1.1zM118.7 232.3h1.1v1.1h-1.1zM111.2 232.0h1.1v1.1h-1.1zM88.6 234.1h1.1v1.1h-1.1zM90.6 235.0h1.1v1.1h-1.1zM97.3 231.8h1.1v1.1h-1.1zM88.6 232.7h1.1v1.1h-1.1zM104.1 235.0h1.1v1.1h-1.1zM86.9 232.6h1.1v1.1h-1.1zM88.4 235.1h1.1v1.1h-1.1zM86.8 231.4h1.1v1.1h-1.1zM85.4 232.6h1.1v1.1h-1.1zM115.1 234.7h1.1v1.1h-1.1zM107.1 235.2h1.1v1.1h-1.1zM116.8 232.4h1.1v1.1h-1.1zM87.7 234.9h1.1v1.1h-1.1zM107.7 231.4h1.1v1.1h-1.1zM104.1 232.5h1.1v1.1h-1.1zM93.0 232.4h1.1v1.1h-1.1zM87.4 231.3h1.1v1.1h-1.1zM90.2 232.4h1.1v1.1h-1.1zM118.0 231.6h1.1v1.1h-1.1zM118.4 231.9h1.1v1.1h-1.1zM92.5 234.4h1.1v1.1h-1.1zM111.3 232.7h1.1v1.1h-1.1zM85.3 232.9h1.1v1.1h-1.1zM93.0 234.9h1.1v1.1h-1.1zM87.9 232.5h1.1v1.1h-1.1zM115.0 231.4h1.1v1.1h-1.1zM94.2 234.4h1.1v1.1h-1.1zM108.7 231.4h1.1v1.1h-1.1zM85.1 231.5h1.1v1.1h-1.1zM116.2 232.1h1.1v1.1h-1.1zM107.8 234.8h1.1v1.1h-1.1zM91.9 232.1h1.1v1.1h-1.1zM118.1 233.5h1.1v1.1h-1.1zM89.7 233.9h1.1v1.1h-1.1zM91.2 232.2h1.1v1.1h-1.1zM84.9 234.1h1.1v1.1h-1.1zM116.0 233.6h1.1v1.1h-1.1zM117.4 231.4h1.1v1.1h-1.1zM88.9 232.9h1.1v1.1h-1.1zM118.1 235.0h1.1v1.1h-1.1zM93.4 232.1h1.1v1.1h-1.1zM94.9 233.0h1.1v1.1h-1.1zM116.6 231.8h1.1v1.1h-1.1zM110.4 234.0h1.1v1.1h-1.1zM111.3 234.2h1.1v1.1h-1.1zM101.7 232.3h1.1v1.1h-1.1zM91.3 232.5h1.1v1.1h-1.1zM109.4 231.5h1.1v1.1h-1.1zM88.0 234.1h1.1v1.1h-1.1zM89.3 231.5h1.1v1.1h-1.1zM85.1 233.2h1.1v1.1h-1.1zM91.5 235.1h1.1v1.1h-1.1zM114.3 235.2h1.1v1.1h-1.1zM89.7 231.5h1.1v1.1h-1.1zM86.0 233.0h1.1v1.1h-1.1zM106.1 232.8h1.1v1.1h-1.1zM88.9 232.7h1.1v1.1h-1.1zM102.2 233.8h1.1v1.1h-1.1zM107.8 234.5h1.1v1.1h-1.1zM104.1 231.6h1.1v1.1h-1.1zM112.2 232.2h1.1v1.1h-1.1zM100.0 232.5h1.1v1.1h-1.1zM107.4 231.9h1.1v1.1h-1.1zM89.3 232.0h1.1v1.1h-1.1zM87.0 234.7h1.1v1.1h-1.1zM100.5 232.3h1.1v1.1h-1.1zM93.7 235.2h1.1v1.1h-1.1zM97.7 232.0h1.1v1.1h-1.1zM110.7 233.7h1.1v1.1h-1.1zM119.9 231.6h1.1v1.1h-1.1zM96.5 234.4h1.1v1.1h-1.1zM112.2 234.8h1.1v1.1h-1.1zM85.2 232.2h1.1v1.1h-1.1zM86.4 231.9h1.1v1.1h-1.1zM118.9 233.4h1.1v1.1h-1.1zM116.7 232.5h1.1v1.1h-1.1zM113.5 232.8h1.1v1.1h-1.1zM94.4 237.6h1.1v1.1h-1.1zM119.4 238.0h1.1v1.1h-1.1zM106.6 237.7h1.1v1.1h-1.1zM92.8 237.9h1.1v1.1h-1.1zM90.1 238.0h1.1v1.1h-1.1zM94.2 237.7h1.1v1.1h-1.1zM108.7 238.0h1.1v1.1h-1.1zM85.3 237.9h1.1v1.1h-1.1zM109.6 238.0h1.1v1.1h-1.1zM96.3 238.0h1.1v1.1h-1.1zM113.9 237.7h1.1v1.1h-1.1zM87.2 238.0h1.1v1.1h-1.1zM99.3 237.7h1.1v1.1h-1.1zM108.2 238.0h1.1v1.1h-1.1zM90.9 237.6h1.1v1.1h-1.1zM99.8 237.9h1.1v1.1h-1.1zM96.1 237.4h1.1v1.1h-1.1zM96.3 237.7h1.1v1.1h-1.1zM97.9 237.8h1.1v1.1h-1.1zM116.4 237.4h1.1v1.1h-1.1zM98.2 238.0h1.1v1.1h-1.1zM111.4 238.0h1.1v1.1h-1.1zM85.1 237.5h1.1v1.1h-1.1zM100.3 237.5h1.1v1.1h-1.1zM99.7 237.5h1.1v1.1h-1.1zM101.7 238.0h1.1v1.1h-1.1zM85.5 237.7h1.1v1.1h-1.1zM108.3 237.5h1.1v1.1h-1.1zM88.2 237.7h1.1v1.1h-1.1zM98.4 237.8h1.1v1.1h-1.1zM89.7 236.4h1.1v1.1h-1.1zM102.1 239.1h1.1v1.1h-1.1zM88.5 237.3h1.1v1.1h-1.1zM111.4 239.2h1.1v1.1h-1.1zM91.4 235.8h1.1v1.1h-1.1zM115.9 239.3h1.1v1.1h-1.1zM100.8 235.5h1.1v1.1h-1.1zM115.4 236.8h1.1v1.1h-1.1zM114.6 237.8h1.1v1.1h-1.1zM112.0 235.9h1.1v1.1h-1.1zM110.8 236.1h1.1v1.1h-1.1zM98.2 238.7h1.1v1.1h-1.1zM112.2 236.0h1.1v1.1h-1.1zM92.1 236.9h1.1v1.1h-1.1zM101.9 236.8h1.1v1.1h-1.1zM89.0 236.3h1.1v1.1h-1.1zM108.8 238.9h1.1v1.1h-1.1zM86.3 237.6h1.1v1.1h-1.1zM71.8 226.4h1.1v1.1h-1.1zM71.3 226.1h1.1v1.1h-1.1zM72.7 222.2h1.1v1.1h-1.1zM72.5 224.8h1.1v1.1h-1.1zM73.6 221.8h1.1v1.1h-1.1zM73.5 220.8h1.1v1.1h-1.1zM73.4 223.5h1.1v1.1h-1.1zM74.8 221.4h1.1v1.1h-1.1zM73.2 225.4h1.1v1.1h-1.1zM71.8 219.1h1.1v1.1h-1.1zM73.4 225.8h1.1v1.1h-1.1zM73.3 226.2h1.1v1.1h-1.1zM74.6 223.6h1.1v1.1h-1.1zM74.7 223.5h1.1v1.1h-1.1zM73.1 226.4h1.1v1.1h-1.1zM72.5 226.3h1.1v1.1h-1.1zM71.9 219.1h1.1v1.1h-1.1zM73.1 226.4h1.1v1.1h-1.1zM73.2 224.2h1.1v1.1h-1.1zM70.6 226.0h1.1v1.1h-1.1zM71.2 215.5h1.1v1.1h-1.1zM71.9 218.5h1.1v1.1h-1.1zM74.4 215.8h1.1v1.1h-1.1zM73.2 216.2h1.1v1.1h-1.1zM70.8 225.9h1.1v1.1h-1.1zM71.6 216.7h1.1v1.1h-1.1zM74.7 224.4h1.1v1.1h-1.1zM71.8 225.9h1.1v1.1h-1.1zM70.9 225.1h1.1v1.1h-1.1zM71.4 226.0h1.1v1.1h-1.1zM73.2 216.8h1.1v1.1h-1.1zM74.4 225.2h1.1v1.1h-1.1zM73.2 224.7h1.1v1.1h-1.1zM74.8 225.8h1.1v1.1h-1.1zM74.5 216.6h1.1v1.1h-1.1zM72.2 217.2h1.1v1.1h-1.1zM74.5 219.0h1.1v1.1h-1.1zM74.6 222.5h1.1v1.1h-1.1zM72.5 224.3h1.1v1.1h-1.1zM71.1 222.2h1.1v1.1h-1.1zM72.8 217.5h1.1v1.1h-1.1zM74.6 215.6h1.1v1.1h-1.1zM72.5 224.0h1.1v1.1h-1.1zM71.5 225.2h1.1v1.1h-1.1zM70.3 221.9h1.1v1.1h-1.1zM73.8 219.3h1.1v1.1h-1.1zM73.5 225.8h1.1v1.1h-1.1zM71.9 226.4h1.1v1.1h-1.1zM71.4 225.3h1.1v1.1h-1.1zM72.5 215.7h1.1v1.1h-1.1zM72.7 220.8h1.1v1.1h-1.1zM74.0 226.5h1.1v1.1h-1.1zM74.8 226.0h1.1v1.1h-1.1zM72.6 223.6h1.1v1.1h-1.1zM73.1 217.2h1.1v1.1h-1.1zM74.6 225.5h1.1v1.1h-1.1zM72.4 226.5h1.1v1.1h-1.1zM74.8 224.4h1.1v1.1h-1.1zM74.6 224.4h1.1v1.1h-1.1zM74.3 221.8h1.1v1.1h-1.1zM72.7 225.6h1.1v1.1h-1.1zM72.5 223.1h1.1v1.1h-1.1zM74.6 216.5h1.1v1.1h-1.1zM74.2 226.0h1.1v1.1h-1.1zM74.7 221.1h1.1v1.1h-1.1zM71.1 219.0h1.1v1.1h-1.1zM73.6 225.2h1.1v1.1h-1.1zM74.8 221.0h1.1v1.1h-1.1zM72.9 224.4h1.1v1.1h-1.1zM72.4 223.5h1.1v1.1h-1.1zM70.7 219.8h1.1v1.1h-1.1zM74.2 217.1h1.1v1.1h-1.1zM74.7 222.5h1.1v1.1h-1.1zM73.6 225.4h1.1v1.1h-1.1zM74.7 219.1h1.1v1.1h-1.1zM74.8 222.2h1.1v1.1h-1.1zM70.6 226.0h1.1v1.1h-1.1zM74.4 221.5h1.1v1.1h-1.1zM73.1 221.1h1.1v1.1h-1.1zM71.4 225.8h1.1v1.1h-1.1zM74.2 212.0h1.1v1.1h-1.1zM74.7 205.2h1.1v1.1h-1.1zM73.2 207.2h1.1v1.1h-1.1zM74.8 205.7h1.1v1.1h-1.1zM73.3 210.1h1.1v1.1h-1.1zM73.3 210.2h1.1v1.1h-1.1zM74.3 214.2h1.1v1.1h-1.1zM74.3 215.0h1.1v1.1h-1.1zM74.1 206.8h1.1v1.1h-1.1zM73.4 205.7h1.1v1.1h-1.1zM73.3 212.4h1.1v1.1h-1.1zM73.7 210.4h1.1v1.1h-1.1zM71.4 226.1h1.1v1.1h-1.1zM62.9 226.1h1.1v1.1h-1.1zM74.2 226.3h1.1v1.1h-1.1zM72.8 226.4h1.1v1.1h-1.1zM62.8 226.3h1.1v1.1h-1.1zM70.6 225.9h1.1v1.1h-1.1zM70.7 226.2h1.1v1.1h-1.1zM72.8 226.2h1.1v1.1h-1.1zM62.5 226.0h1.1v1.1h-1.1zM68.8 226.1h1.1v1.1h-1.1zM69.4 225.9h1.1v1.1h-1.1zM66.2 226.0h1.1v1.1h-1.1zM69.9 226.0h1.1v1.1h-1.1zM65.7 226.0h1.1v1.1h-1.1zM67.8 226.2h1.1v1.1h-1.1zM62.0 226.1h1.1v1.1h-1.1zM59.9 226.0h1.1v1.1h-1.1zM60.9 226.4h1.1v1.1h-1.1zM60.3 225.9h1.1v1.1h-1.1zM64.2 226.3h1.1v1.1h-1.1zM59.1 226.4h1.1v1.1h-1.1zM69.8 226.1h1.1v1.1h-1.1zM69.9 226.0h1.1v1.1h-1.1zM59.7 226.1h1.1v1.1h-1.1zM64.5 226.0h1.1v1.1h-1.1zM71.9 226.0h1.1v1.1h-1.1zM40.5 225.6h1.1v1.1h-1.1zM55.6 225.5h1.1v1.1h-1.1zM41.3 226.2h1.1v1.1h-1.1zM41.4 226.3h1.1v1.1h-1.1zM62.1 217.8h1.1v1.1h-1.1z"/>
<line x1="158.5" y1="190.0" x2="158.5" y2="264.5" stroke="#555" stroke-width="0.9"/>
<line x1="158.5" y1="264.5" x2="262.6" y2="264.5" stroke="#555" stroke-width="0.9"/>
<line x1="156.7" y1="195.30" x2="158.5" y2="195.30" stroke="#555" stroke-width="0.7"/>
<text x="149.40" y="197.40" font-size="6.0" textLength="6.10" lengthAdjust="spacingAndGlyphs" fill="#111" stroke="#111" stroke-width="0.07" >15</text>
<line x1="156.7" y1="206.80" x2="158.5" y2="206.80" stroke="#555" stroke-width="0.7"/>
<text x="149.40" y="208.90" font-size="6.0" textLength="6.10" lengthAdjust="spacingAndGlyphs" fill="#111" stroke="#111" stroke-width="0.07" >10</text>
<line x1="156.7" y1="218.30" x2="158.5" y2="218.30" stroke="#555" stroke-width="0.7"/>
<text x="152.45" y="220.40" font-size="6.0" textLength="3.05" lengthAdjust="spacingAndGlyphs" fill="#111" stroke="#111" stroke-width="0.07" >5</text>
<line x1="156.7" y1="229.80" x2="158.5" y2="229.80" stroke="#555" stroke-width="0.7"/>
<text x="152.45" y="231.90" font-size="6.0" textLength="3.05" lengthAdjust="spacingAndGlyphs" fill="#111" stroke="#111" stroke-width="0.07" >0</text>
<line x1="156.7" y1="241.30" x2="158.5" y2="241.30" stroke="#555" stroke-width="0.7"/>
<text x="150.55" y="243.40" font-size="6.0" textLength="4.95" lengthAdjust="spacingAndGlyphs" fill="#111" stroke="#111" stroke-width="0.07" >-5</text>
<line x1="156.7" y1="252.80" x2="158.5" y2="252.80" stroke="#555" stroke-width="0.7"/>
<text x="147.50" y="254.90" font-size="6.0" textLength="8.00" lengthAdjust="spacingAndGlyphs" fill="#111" stroke="#111" stroke-width="0.07" >-10</text>
<line x1="159.40" y1="264.5" x2="159.40" y2="266.3" stroke="#555" stroke-width="0.7"/>
<text x="154.45" y="271.10" font-size="6.0" textLength="8.00" lengthAdjust="spacingAndGlyphs" fill="#111" stroke="#111" stroke-width="0.07" >-10</text>
<line x1="182.50" y1="264.5" x2="182.50" y2="266.3" stroke="#555" stroke-width="0.7"/>
<text x="179.07" y="271.10" font-size="6.0" textLength="4.95" lengthAdjust="spacingAndGlyphs" fill="#111" stroke="#111" stroke-width="0.07" >-5</text>
<line x1="205.60" y1="264.5" x2="205.60" y2="266.3" stroke="#555" stroke-width="0.7"/>
<text x="204.07" y="271.10" font-size="6.0" textLength="3.05" lengthAdjust="spacingAndGlyphs" fill="#111" stroke="#111" stroke-width="0.07" >0</text>
<line x1="228.70" y1="264.5" x2="228.70" y2="266.3" stroke="#555" stroke-width="0.7"/>
<text x="227.17" y="271.10" font-size="6.0" textLength="3.05" lengthAdjust="spacingAndGlyphs" fill="#111" stroke="#111" stroke-width="0.07" >5</text>
<line x1="251.80" y1="264.5" x2="251.80" y2="266.3" stroke="#555" stroke-width="0.7"/>
<text x="248.75" y="271.10" font-size="6.0" textLength="6.10" lengthAdjust="spacingAndGlyphs" fill="#111" stroke="#111" stroke-width="0.07" >10</text>
<line x1="200.98" y1="190.0" x2="200.98" y2="264.5" stroke="#cfcfcf" stroke-width="0.9"/>
<line x1="210.22" y1="190.0" x2="210.22" y2="264.5" stroke="#cfcfcf" stroke-width="0.9"/>
<line x1="158.5" y1="227.50" x2="262.6" y2="227.50" stroke="#cfcfcf" stroke-width="0.8" stroke-dasharray="2 0.6"/>
<line x1="158.5" y1="232.10" x2="262.6" y2="232.10" stroke="#cfcfcf" stroke-width="0.8" stroke-dasharray="2 0.6"/>
<rect x="200.98" y="227.50" width="9.24" height="4.60" fill="#c8c8c8" stroke="#9c9c9c" stroke-width="0.8"/>
<path fill="#ff1a10" d="M209.9 222.1h1.1v1.1h-1.1zM210.4 218.6h1.1v1.1h-1.1zM210.1 218.4h1.1v1.1h-1.1zM210.5 224.0h1.1v1.1h-1.1zM210.1 223.5h1.1v1.1h-1.1zM216.3 226.9h1.1v1.1h-1.1zM210.5 224.9h1.1v1.1h-1.1zM212.4 224.7h1.1v1.1h-1.1zM213.7 223.4h1.1v1.1h-1.1zM210.8 220.8h1.1v1.1h-1.1zM212.6 217.3h1.1v1.1h-1.1zM218.1 226.7h1.1v1.1h-1.1zM212.3 217.6h1.1v1.1h-1.1zM217.8 226.1h1.1v1.1h-1.1zM209.7 221.1h1.1v1.1h-1.1zM220.6 226.9h1.1v1.1h-1.1zM210.2 220.8h1.1v1.1h-1.1zM210.0 226.4h1.1v1.1h-1.1zM216.4 225.4h1.1v1.1h-1.1zM210.0 224.3h1.1v1.1h-1.1zM212.4 217.7h1.1v1.1h-1.1zM218.7 225.9h1.1v1.1h-1.1zM214.3 221.4h1.1v1.1h-1.1zM215.1 220.7h1.1v1.1h-1.1zM213.6 219.2h1.1v1.1h-1.1zM215.3 225.7h1.1v1.1h-1.1zM214.4 222.3h1.1v1.1h-1.1zM216.8 223.3h1.1v1.1h-1.1zM210.4 222.0h1.1v1.1h-1.1zM210.0 225.3h1.1v1.1h-1.1zM209.7 222.7h1.1v1.1h-1.1zM209.9 223.0h1.1v1.1h-1.1zM212.1 222.7h1.1v1.1h-1.1zM215.8 222.2h1.1v1.1h-1.1zM218.5 226.9h1.1v1.1h-1.1zM212.7 223.0h1.1v1.1h-1.1zM214.6 220.7h1.1v1.1h-1.1zM211.7 224.0h1.1v1.1h-1.1zM209.7 216.9h1.1v1.1h-1.1zM212.8 221.1h1.1v1.1h-1.1zM214.6 226.8h1.1v1.1h-1.1zM215.4 220.5h1.1v1.1h-1.1zM219.2 224.4h1.1v1.1h-1.1zM211.9 222.5h1.1v1.1h-1.1zM209.7 217.8h1.1v1.1h-1.1zM212.3 220.1h1.1v1.1h-1.1zM217.2 224.4h1.1v1.1h-1.1zM212.2 224.1h1.1v1.1h-1.1zM214.7 222.4h1.1v1.1h-1.1zM212.1 225.6h1.1v1.1h-1.1zM212.8 223.5h1.1v1.1h-1.1zM210.2 218.7h1.1v1.1h-1.1zM210.6 218.7h1.1v1.1h-1.1zM210.5 222.6h1.1v1.1h-1.1zM217.6 222.6h1.1v1.1h-1.1zM214.2 220.9h1.1v1.1h-1.1zM210.9 224.4h1.1v1.1h-1.1zM213.5 224.7h1.1v1.1h-1.1zM214.2 221.1h1.1v1.1h-1.1zM216.3 226.8h1.1v1.1h-1.1zM211.1 217.9h1.1v1.1h-1.1zM211.0 226.7h1.1v1.1h-1.1zM210.3 226.9h1.1v1.1h-1.1zM211.3 217.4h1.1v1.1h-1.1zM214.1 220.8h1.1v1.1h-1.1zM211.3 217.6h1.1v1.1h-1.1zM212.8 221.3h1.1v1.1h-1.1zM212.2 220.3h1.1v1.1h-1.1zM210.1 220.5h1.1v1.1h-1.1zM211.3 220.7h1.1v1.1h-1.1zM209.8 219.5h1.1v1.1h-1.1zM209.7 225.8h1.1v1.1h-1.1zM214.4 219.4h1.1v1.1h-1.1zM210.8 220.8h1.1v1.1h-1.1zM212.9 218.7h1.1v1.1h-1.1zM210.3 221.9h1.1v1.1h-1.1zM211.8 224.7h1.1v1.1h-1.1zM211.9 224.6h1.1v1.1h-1.1zM215.8 221.0h1.1v1.1h-1.1zM213.9 226.7h1.1v1.1h-1.1zM209.9 226.8h1.1v1.1h-1.1zM211.6 218.9h1.1v1.1h-1.1zM210.6 217.5h1.1v1.1h-1.1zM211.8 226.9h1.1v1.1h-1.1zM216.3 221.6h1.1v1.1h-1.1zM210.5 216.6h1.1v1.1h-1.1zM209.8 223.6h1.1v1.1h-1.1zM210.1 221.0h1.1v1.1h-1.1zM209.7 226.0h1.1v1.1h-1.1zM215.7 226.9h1.1v1.1h-1.1zM220.4 226.3h1.1v1.1h-1.1zM218.7 226.5h1.1v1.1h-1.1zM209.7 226.2h1.1v1.1h-1.1zM210.1 220.1h1.1v1.1h-1.1zM210.0 219.9h1.1v1.1h-1.1zM217.1 226.7h1.1v1.1h-1.1zM214.4 220.1h1.1v1.1h-1.1zM209.7 219.9h1.1v1.1h-1.1zM213.5 221.2h1.1v1.1h-1.1zM217.4 223.1h1.1v1.1h-1.1zM219.5 225.2h1.1v1.1h-1.1zM209.7 220.1h1.1v1.1h-1.1zM215.2 226.9h1.1v1.1h-1.1zM209.7 218.8h1.1v1.1h-1.1zM215.4 224.6h1.1v1.1h-1.1zM218.2 225.9h1.1v1.1h-1.1zM209.7 222.8h1.1v1.1h-1.1zM213.2 224.1h1.1v1.1h-1.1zM214.1 223.3h1.1v1.1h-1.1zM217.2 226.1h1.1v1.1h-1.1zM214.0 224.1h1.1v1.1h-1.1zM211.1 221.2h1.1v1.1h-1.1zM215.8 223.9h1.1v1.1h-1.1zM212.0 217.1h1.1v1.1h-1.1zM210.5 221.9h1.1v1.1h-1.1zM220.9 226.7h1.1v1.1h-1.1zM214.2 220.3h1.1v1.1h-1.1zM213.7 224.4h1.1v1.1h-1.1zM212.0 216.7h1.1v1.1h-1.1zM210.6 221.5h1.1v1.1h-1.1zM217.0 223.4h1.1v1.1h-1.1zM214.5 224.0h1.1v1.1h-1.1zM215.7 221.5h1.1v1.1h-1.1zM210.2 218.9h1.1v1.1h-1.1zM210.8 226.9h1.1v1.1h-1.1zM213.1 223.5h1.1v1.1h-1.1zM213.8 218.8h1.1v1.1h-1.1zM218.2 226.8h1.1v1.1h-1.1zM213.6 218.9h1.1v1.1h-1.1zM210.4 221.8h1.1v1.1h-1.1zM212.9 218.4h1.1v1.1h-1.1zM215.2 220.5h1.1v1.1h-1.1zM209.8 224.3h1.1v1.1h-1.1zM214.9 222.0h1.1v1.1h-1.1zM216.2 225.6h1.1v1.1h-1.1zM209.9 217.3h1.1v1.1h-1.1zM213.3 221.4h1.1v1.1h-1.1zM210.2 223.0h1.1v1.1h-1.1zM215.9 225.2h1.1v1.1h-1.1zM211.0 219.1h1.1v1.1h-1.1zM217.6 226.5h1.1v1.1h-1.1zM210.1 219.4h1.1v1.1h-1.1zM215.9 221.7h1.1v1.1h-1.1zM211.0 217.9h1.1v1.1h-1.1zM213.0 222.9h1.1v1.1h-1.1zM210.2 225.7h1.1v1.1h-1.1zM215.5 225.8h1.1v1.1h-1.1zM213.1 224.1h1.1v1.1h-1.1zM212.5 223.7h1.1v1.1h-1.1zM209.7 226.1h1.1v1.1h-1.1zM210.2 216.4h1.1v1.1h-1.1zM214.7 226.4h1.1v1.1h-1.1zM209.9 219.2h1.1v1.1h-1.1zM210.8 221.5h1.1v1.1h-1.1zM209.7 222.4h1.1v1.1h-1.1zM221.4 226.8h1.1v1.1h-1.1zM210.9 218.2h1.1v1.1h-1.1zM210.4 221.9h1.1v1.1h-1.1zM210.9 219.3h1.1v1.1h-1.1zM211.9 217.1h1.1v1.1h-1.1zM214.4 218.8h1.1v1.1h-1.1zM209.7 225.2h1.1v1.1h-1.1zM210.2 225.6h1.1v1.1h-1.1zM209.7 226.5h1.1v1.1h-1.1zM215.7 222.0h1.1v1.1h-1.1zM220.3 207.2h1.1v1.1h-1.1zM230.7 222.4h1.1v1.1h-1.1zM223.5 216.6h1.1v1.1h-1.1zM212.4 207.0h1.1v1.1h-1.1zM215.6 213.8h1.1v1.1h-1.1zM224.5 207.0h1.1v1.1h-1.1zM225.1 216.7h1.1v1.1h-1.1zM220.0 220.7h1.1v1.1h-1.1zM232.0 206.4h1.1v1.1h-1.1zM214.8 222.8h1.1v1.1h-1.1zM215.6 217.4h1.1v1.1h-1.1zM230.5 207.9h1.1v1.1h-1.1zM229.0 222.7h1.1v1.1h-1.1zM227.8 211.3h1.1v1.1h-1.1zM224.6 206.5h1.1v1.1h-1.1zM211.0 221.0h1.1v1.1h-1.1zM227.1 207.3h1.1v1.1h-1.1zM225.3 218.3h1.1v1.1h-1.1zM223.3 210.4h1.1v1.1h-1.1zM212.1 217.9h1.1v1.1h-1.1zM215.6 221.4h1.1v1.1h-1.1zM220.8 220.6h1.1v1.1h-1.1zM215.2 221.0h1.1v1.1h-1.1zM225.3 223.3h1.1v1.1h-1.1zM226.2 220.1h1.1v1.1h-1.1zM210.5 207.5h1.1v1.1h-1.1zM214.8 207.4h1.1v1.1h-1.1zM229.7 208.2h1.1v1.1h-1.1zM212.9 215.8h1.1v1.1h-1.1zM211.9 207.5h1.1v1.1h-1.1zM219.0 204.8h1.1v1.1h-1.1zM214.7 205.0h1.1v1.1h-1.1zM218.8 204.9h1.1v1.1h-1.1zM216.6 205.1h1.1v1.1h-1.1zM212.1 205.2h1.1v1.1h-1.1zM217.6 204.8h1.1v1.1h-1.1zM211.3 204.6h1.1v1.1h-1.1zM212.6 204.9h1.1v1.1h-1.1zM211.4 205.0h1.1v1.1h-1.1zM219.0 205.0h1.1v1.1h-1.1zM211.5 204.9h1.1v1.1h-1.1zM213.2 204.6h1.1v1.1h-1.1zM226.9 208.9h1.1v1.1h-1.1zM225.2 210.5h1.1v1.1h-1.1zM243.0 223.1h1.1v1.1h-1.1zM237.4 221.7h1.1v1.1h-1.1zM231.0 223.2h1.1v1.1h-1.1zM234.1 208.7h1.1v1.1h-1.1zM252.6 209.9h1.1v1.1h-1.1zM226.4 221.6h1.1v1.1h-1.1zM249.6 225.9h1.1v1.1h-1.1zM244.7 221.5h1.1v1.1h-1.1zM200.4 232.1h1.1v1.1h-1.1zM195.4 241.6h1.1v1.1h-1.1zM193.7 232.2h1.1v1.1h-1.1zM196.8 241.4h1.1v1.1h-1.1zM196.2 232.4h1.1v1.1h-1.1zM199.2 235.6h1.1v1.1h-1.1zM200.4 236.7h1.1v1.1h-1.1zM196.1 240.8h1.1v1.1h-1.1zM192.7 237.6h1.1v1.1h-1.1zM198.9 237.9h1.1v1.1h-1.1zM199.5 233.7h1.1v1.1h-1.1zM193.0 231.7h1.1v1.1h-1.1zM198.7 239.9h1.1v1.1h-1.1zM194.8 233.1h1.1v1.1h-1.1zM193.5 240.0h1.1v1.1h-1.1zM193.2 233.0h1.1v1.1h-1.1zM195.1 239.8h1.1v1.1h-1.1zM199.2 234.5h1.1v1.1h-1.1zM198.5 239.7h1.1v1.1h-1.1zM196.0 234.9h1.1v1.1h-1.1zM193.1 234.9h1.1v1.1h-1.1zM200.2 233.6h1.1v1.1h-1.1zM195.5 237.0h1.1v1.1h-1.1zM195.4 239.7h1.1v1.1h-1.1zM193.5 240.6h1.1v1.1h-1.1zM196.6 236.2h1.1v1.1h-1.1zM198.1 232.9h1.1v1.1h-1.1zM200.0 237.1h1.1v1.1h-1.1zM199.5 238.3h1.1v1.1h-1.1zM191.8 235.7h1.1v1.1h-1.1zM200.2 232.3h1.1v1.1h-1.1zM199.2 235.6h1.1v1.1h-1.1zM200.4 238.6h1.1v1.1h-1.1zM194.1 239.9h1.1v1.1h-1.1zM197.6 239.3h1.1v1.1h-1.1zM194.7 234.1h1.1v1.1h-1.1zM197.3 236.4h1.1v1.1h-1.1zM197.0 234.6h1.1v1.1h-1.1zM193.9 238.0h1.1v1.1h-1.1zM199.6 240.6h1.1v1.1h-1.1zM196.9 234.2h1.1v1.1h-1.1zM198.0 236.9h1.1v1.1h-1.1zM199.9 233.2h1.1v1.1h-1.1zM196.8 234.5h1.1v1.1h-1.1zM194.0 241.4h1.1v1.1h-1.1zM193.1 240.2h1.1v1.1h-1.1zM196.4 241.2h1.1v1.1h-1.1zM200.2 239.6h1.1v1.1h-1.1zM195.9 238.1h1.1v1.1h-1.1zM195.6 234.2h1.1v1.1h-1.1zM197.4 241.1h1.1v1.1h-1.1zM198.5 237.8h1.1v1.1h-1.1zM192.5 234.7h1.1v1.1h-1.1zM199.1 231.7h1.1v1.1h-1.1zM197.3 238.2h1.1v1.1h-1.1zM194.4 232.2h1.1v1.1h-1.1zM195.7 235.0h1.1v1.1h-1.1zM196.2 235.4h1.1v1.1h-1.1zM197.6 236.9h1.1v1.1h-1.1zM199.2 232.5h1.1v1.1h-1.1zM196.8 240.5h1.1v1.1h-1.1zM192.2 232.5h1.1v1.1h-1.1zM199.9 233.8h1.1v1.1h-1.1zM198.8 236.6h1.1v1.1h-1.1zM196.1 236.2h1.1v1.1h-1.1zM195.5 233.5h1.1v1.1h-1.1zM196.0 232.5h1.1v1.1h-1.1zM200.0 237.2h1.1v1.1h-1.1zM200.0 235.3h1.1v1.1h-1.1zM192.9 235.6h1.1v1.1h-1.1zM194.7 236.8h1.1v1.1h-1.1zM199.8 239.0h1.1v1.1h-1.1zM195.6 241.6h1.1v1.1h-1.1zM192.5 232.4h1.1v1.1h-1.1zM199.3 235.2h1.1v1.1h-1.1zM196.8 241.2h1.1v1.1h-1.1zM199.7 239.2h1.1v1.1h-1.1zM200.2 239.2h1.1v1.1h-1.1zM197.5 233.6h1.1v1.1h-1.1zM195.0 231.7h1.1v1.1h-1.1zM198.2 233.4h1.1v1.1h-1.1zM197.5 238.5h1.1v1.1h-1.1zM196.2 240.4h1.1v1.1h-1.1zM196.6 240.3h1.1v1.1h-1.1zM194.2 240.8h1.1v1.1h-1.1zM193.6 233.0h1.1v1.1h-1.1zM193.8 234.7h1.1v1.1h-1.1zM193.9 238.2h1.1v1.1h-1.1zM197.4 232.6h1.1v1.1h-1.1zM192.9 238.8h1.1v1.1h-1.1zM200.2 238.6h1.1v1.1h-1.1zM199.9 237.4h1.1v1.1h-1.1zM193.8 236.8h1.1v1.1h-1.1zM191.4 232.5h1.1v1.1h-1.1zM198.8 238.1h1.1v1.1h-1.1zM196.8 233.2h1.1v1.1h-1.1zM196.4 239.9h1.1v1.1h-1.1zM200.3 232.5h1.1v1.1h-1.1zM192.9 232.4h1.1v1.1h-1.1zM195.7 233.1h1.1v1.1h-1.1zM194.4 234.1h1.1v1.1h-1.1zM199.5 235.0h1.1v1.1h-1.1zM196.8 240.3h1.1v1.1h-1.1zM194.1 238.3h1.1v1.1h-1.1zM200.4 241.1h1.1v1.1h-1.1zM199.5 234.7h1.1v1.1h-1.1zM193.0 236.3h1.1v1.1h-1.1zM200.3 239.5h1.1v1.1h-1.1zM192.8 233.1h1.1v1.1h-1.1zM197.8 238.2h1.1v1.1h-1.1zM199.5 236.0h1.1v1.1h-1.1zM197.9 240.0h1.1v1.1h-1.1zM196.3 240.3h1.1v1.1h-1.1zM197.8 232.1h1.1v1.1h-1.1zM192.0 233.4h1.1v1.1h-1.1zM200.2 237.2h1.1v1.1h-1.1zM197.6 233.0h1.1v1.1h-1.1zM195.9 235.9h1.1v1.1h-1.1zM197.8 235.1h1.1v1.1h-1.1zM195.2 231.6h1.1v1.1h-1.1zM200.3 234.6h1.1v1.1h-1.1zM191.7 235.9h1.1v1.1h-1.1zM199.4 231.9h1.1v1.1h-1.1zM198.7 238.1h1.1v1.1h-1.1zM196.3 234.0h1.1v1.1h-1.1zM195.6 233.9h1.1v1.1h-1.1zM192.2 236.6h1.1v1.1h-1.1zM200.3 241.6h1.1v1.1h-1.1zM194.2 236.9h1.1v1.1h-1.1zM194.9 240.3h1.1v1.1h-1.1zM195.6 237.7h1.1v1.1h-1.1zM198.4 234.9h1.1v1.1h-1.1zM193.8 239.4h1.1v1.1h-1.1zM195.8 241.0h1.1v1.1h-1.1zM193.7 234.3h1.1v1.1h-1.1zM196.9 238.8h1.1v1.1h-1.1zM198.1 237.7h1.1v1.1h-1.1zM197.5 236.8h1.1v1.1h-1.1zM197.7 232.0h1.1v1.1h-1.1zM191.3 234.5h1.1v1.1h-1.1zM197.8 236.1h1.1v1.1h-1.1zM198.8 233.7h1.1v1.1h-1.1zM199.6 234.7h1.1v1.1h-1.1zM191.8 231.6h1.1v1.1h-1.1zM197.1 235.8h1.1v1.1h-1.1zM198.4 237.0h1.1v1.1h-1.1zM200.1 233.0h1.1v1.1h-1.1zM198.2 234.3h1.1v1.1h-1.1zM196.5 238.7h1.1v1.1h-1.1zM198.4 241.0h1.1v1.1h-1.1zM196.6 240.8h1.1v1.1h-1.1zM199.2 232.2h1.1v1.1h-1.1zM192.1 237.1h1.1v1.1h-1.1zM193.7 234.8h1.1v1.1h-1.1zM192.9 235.5h1.1v1.1h-1.1zM196.2 232.1h1.1v1.1h-1.1zM198.8 240.6h1.1v1.1h-1.1zM200.3 233.8h1.1v1.1h-1.1zM198.4 232.9h1.1v1.1h-1.1zM199.1 238.4h1.1v1.1h-1.1zM199.1 235.2h1.1v1.1h-1.1zM193.4 237.4h1.1v1.1h-1.1zM199.3 237.8h1.1v1.1h-1.1zM192.8 238.8h1.1v1.1h-1.1zM200.0 237.3h1.1v1.1h-1.1zM196.9 241.6h1.1v1.1h-1.1zM188.3 242.2h1.1v1.1h-1.1zM185.4 241.9h1.1v1.1h-1.1zM198.1 241.8h1.1v1.1h-1.1zM199.0 242.1h1.1v1.1h-1.1zM188.0 241.7h1.1v1.1h-1.1zM193.9 242.0h1.1v1.1h-1.1zM194.5 242.0h1.1v1.1h-1.1zM183.0 242.0h1.1v1.1h-1.1zM182.8 241.8h1.1v1.1h-1.1zM188.1 241.9h1.1v1.1h-1.1zM193.0 242.1h1.1v1.1h-1.1zM190.5 242.2h1.1v1.1h-1.1zM199.0 241.9h1.1v1.1h-1.1zM200.2 242.2h1.1v1.1h-1.1zM193.3 241.7h1.1v1.1h-1.1zM188.0 242.2h1.1v1.1h-1.1zM184.8 242.1h1.1v1.1h-1.1zM196.1 242.2h1.1v1.1h-1.1zM197.0 242.0h1.1v1.1h-1.1zM197.1 244.7h1.1v1.1h-1.1zM197.0 244.9h1.1v1.1h-1.1zM196.8 244.0h1.1v1.1h-1.1zM196.3 243.8h1.1v1.1h-1.1zM196.4 245.2h1.1v1.1h-1.1zM186.5 233.0h1.1v1.1h-1.1zM186.5 236.0h1.1v1.1h-1.1zM179.8 232.8h1.1v1.1h-1.1zM181.3 235.9h1.1v1.1h-1.1zM173.1 231.6h1.1v1.1h-1.1zM180.3 234.6h1.1v1.1h-1.1zM186.5 233.2h1.1v1.1h-1.1zM191.0 232.6h1.1v1.1h-1.1zM186.1 232.0h1.1v1.1h-1.1zM171.0 232.2h1.1v1.1h-1.1zM171.7 233.9h1.1v1.1h-1.1zM181.9 232.4h1.1v1.1h-1.1z"/>
<path fill="#1a10ff" d="M209.7 235.6h1.1v1.1h-1.1zM211.7 234.9h1.1v1.1h-1.1zM209.7 232.1h1.1v1.1h-1.1zM213.1 235.0h1.1v1.1h-1.1zM213.5 232.3h1.1v1.1h-1.1zM210.8 235.3h1.1v1.1h-1.1zM210.5 233.9h1.1v1.1h-1.1zM217.2 232.3h1.1v1.1h-1.1zM210.8 234.5h1.1v1.1h-1.1zM210.2 231.9h1.1v1.1h-1.1zM213.3 234.1h1.1v1.1h-1.1zM211.2 232.7h1.1v1.1h-1.1zM215.2 234.1h1.1v1.1h-1.1zM213.6 234.9h1.1v1.1h-1.1zM210.1 232.4h1.1v1.1h-1.1zM212.3 234.6h1.1v1.1h-1.1zM209.9 234.5h1.1v1.1h-1.1zM211.7 234.9h1.1v1.1h-1.1zM215.8 235.0h1.1v1.1h-1.1zM209.7 233.6h1.1v1.1h-1.1zM212.6 235.3h1.1v1.1h-1.1zM211.1 235.2h1.1v1.1h-1.1zM217.9 232.3h1.1v1.1h-1.1zM210.7 233.1h1.1v1.1h-1.1zM214.7 233.1h1.1v1.1h-1.1zM214.7 231.6h1.1v1.1h-1.1zM213.8 233.4h1.1v1.1h-1.1zM216.7 232.0h1.1v1.1h-1.1zM215.9 234.9h1.1v1.1h-1.1zM216.1 232.9h1.1v1.1h-1.1zM216.3 233.1h1.1v1.1h-1.1zM218.9 231.8h1.1v1.1h-1.1zM212.6 235.5h1.1v1.1h-1.1zM213.8 233.7h1.1v1.1h-1.1zM209.8 233.8h1.1v1.1h-1.1zM210.8 235.6h1.1v1.1h-1.1zM210.3 232.3h1.1v1.1h-1.1zM217.5 232.6h1.1v1.1h-1.1zM210.3 231.7h1.1v1.1h-1.1zM210.8 234.4h1.1v1.1h-1.1zM215.6 231.6h1.1v1.1h-1.1zM213.6 233.9h1.1v1.1h-1.1zM210.2 234.5h1.1v1.1h-1.1zM214.5 235.1h1.1v1.1h-1.1zM210.6 231.7h1.1v1.1h-1.1zM213.6 233.6h1.1v1.1h-1.1zM210.5 232.7h1.1v1.1h-1.1zM210.5 233.2h1.1v1.1h-1.1zM216.7 234.0h1.1v1.1h-1.1zM215.0 232.2h1.1v1.1h-1.1zM210.6 234.6h1.1v1.1h-1.1zM216.5 235.0h1.1v1.1h-1.1zM213.0 233.2h1.1v1.1h-1.1zM213.1 235.0h1.1v1.1h-1.1zM218.3 233.2h1.1v1.1h-1.1zM211.8 234.8h1.1v1.1h-1.1zM212.4 232.5h1.1v1.1h-1.1zM218.6 233.4h1.1v1.1h-1.1zM216.4 234.9h1.1v1.1h-1.1zM215.8 234.9h1.1v1.1h-1.1zM214.6 231.8h1.1v1.1h-1.1zM216.0 235.5h1.1v1.1h-1.1zM213.2 232.6h1.1v1.1h-1.1zM212.1 234.2h1.1v1.1h-1.1zM210.0 233.7h1.1v1.1h-1.1zM213.7 233.3h1.1v1.1h-1.1zM210.7 231.6h1.1v1.1h-1.1zM214.7 235.6h1.1v1.1h-1.1zM213.7 235.4h1.1v1.1h-1.1zM216.1 234.9h1.1v1.1h-1.1zM209.8 235.2h1.1v1.1h-1.1zM211.4 234.2h1.1v1.1h-1.1zM211.4 234.4h1.1v1.1h-1.1zM217.6 233.8h1.1v1.1h-1.1zM211.3 234.1h1.1v1.1h-1.1zM212.9 233.7h1.1v1.1h-1.1zM211.2 235.5h1.1v1.1h-1.1zM215.4 232.8h1.1v1.1h-1.1zM215.3 232.0h1.1v1.1h-1.1zM212.7 235.5h1.1v1.1h-1.1zM213.6 232.7h1.1v1.1h-1.1zM210.6 233.8h1.1v1.1h-1.1zM210.6 232.1h1.1v1.1h-1.1zM213.0 232.8h1.1v1.1h-1.1zM211.5 232.7h1.1v1.1h-1.1zM214.8 231.9h1.1v1.1h-1.1zM213.7 235.0h1.1v1.1h-1.1zM214.8 233.9h1.1v1.1h-1.1zM216.4 232.4h1.1v1.1h-1.1zM214.1 233.5h1.1v1.1h-1.1zM213.0 234.1h1.1v1.1h-1.1zM211.4 232.8h1.1v1.1h-1.1zM214.2 232.5h1.1v1.1h-1.1zM214.6 233.1h1.1v1.1h-1.1zM212.8 231.6h1.1v1.1h-1.1zM211.0 235.1h1.1v1.1h-1.1zM213.3 233.9h1.1v1.1h-1.1zM219.3 232.7h1.1v1.1h-1.1zM216.8 232.8h1.1v1.1h-1.1zM210.1 232.2h1.1v1.1h-1.1zM212.4 235.2h1.1v1.1h-1.1zM213.1 231.8h1.1v1.1h-1.1zM216.0 233.4h1.1v1.1h-1.1zM211.4 232.0h1.1v1.1h-1.1zM214.4 235.5h1.1v1.1h-1.1zM212.5 232.2h1.1v1.1h-1.1zM215.6 233.0h1.1v1.1h-1.1zM216.5 234.1h1.1v1.1h-1.1zM213.0 234.9h1.1v1.1h-1.1zM215.1 234.6h1.1v1.1h-1.1zM212.8 234.7h1.1v1.1h-1.1zM214.7 234.8h1.1v1.1h-1.1zM210.3 235.3h1.1v1.1h-1.1zM209.7 235.2h1.1v1.1h-1.1zM213.7 234.7h1.1v1.1h-1.1zM218.2 233.6h1.1v1.1h-1.1zM212.7 233.9h1.1v1.1h-1.1zM216.1 234.8h1.1v1.1h-1.1zM212.3 234.1h1.1v1.1h-1.1zM213.2 233.4h1.1v1.1h-1.1zM211.5 234.5h1.1v1.1h-1.1zM214.3 233.2h1.1v1.1h-1.1zM212.1 233.1h1.1v1.1h-1.1zM215.9 234.8h1.1v1.1h-1.1zM213.0 233.6h1.1v1.1h-1.1zM212.1 232.3h1.1v1.1h-1.1zM215.1 232.2h1.1v1.1h-1.1zM210.1 234.0h1.1v1.1h-1.1zM211.5 235.4h1.1v1.1h-1.1zM215.6 235.0h1.1v1.1h-1.1zM240.2 232.1h1.1v1.1h-1.1zM229.2 235.7h1.1v1.1h-1.1zM220.5 231.3h1.1v1.1h-1.1zM232.0 233.6h1.1v1.1h-1.1zM239.4 235.0h1.1v1.1h-1.1zM231.5 236.1h1.1v1.1h-1.1zM231.1 233.7h1.1v1.1h-1.1zM234.5 233.1h1.1v1.1h-1.1zM227.7 234.1h1.1v1.1h-1.1zM227.6 235.9h1.1v1.1h-1.1zM234.4 233.7h1.1v1.1h-1.1zM222.4 233.0h1.1v1.1h-1.1zM228.6 233.9h1.1v1.1h-1.1zM232.2 235.5h1.1v1.1h-1.1zM240.3 233.6h1.1v1.1h-1.1zM229.4 234.3h1.1v1.1h-1.1zM241.0 232.8h1.1v1.1h-1.1zM231.3 235.2h1.1v1.1h-1.1zM223.8 232.7h1.1v1.1h-1.1zM240.6 235.3h1.1v1.1h-1.1zM225.1 238.9h1.1v1.1h-1.1zM236.5 241.1h1.1v1.1h-1.1zM234.3 242.3h1.1v1.1h-1.1zM236.3 240.1h1.1v1.1h-1.1zM214.4 239.6h1.1v1.1h-1.1zM225.0 240.4h1.1v1.1h-1.1zM215.3 239.2h1.1v1.1h-1.1zM228.6 240.8h1.1v1.1h-1.1zM220.3 242.3h1.1v1.1h-1.1zM228.8 238.6h1.1v1.1h-1.1zM222.0 241.5h1.1v1.1h-1.1zM218.9 241.2h1.1v1.1h-1.1zM209.8 239.6h1.1v1.1h-1.1zM235.0 240.7h1.1v1.1h-1.1zM229.7 239.2h1.1v1.1h-1.1zM224.6 240.6h1.1v1.1h-1.1zM196.1 225.3h1.1v1.1h-1.1zM193.3 221.3h1.1v1.1h-1.1zM198.9 220.5h1.1v1.1h-1.1zM200.0 226.6h1.1v1.1h-1.1zM200.3 216.3h1.1v1.1h-1.1zM200.0 226.7h1.1v1.1h-1.1zM195.2 221.5h1.1v1.1h-1.1zM195.9 219.7h1.1v1.1h-1.1zM200.4 226.8h1.1v1.1h-1.1zM199.7 216.0h1.1v1.1h-1.1zM199.5 217.4h1.1v1.1h-1.1zM199.4 226.2h1.1v1.1h-1.1zM192.4 226.7h1.1v1.1h-1.1zM199.3 220.3h1.1v1.1h-1.1zM198.9 222.8h1.1v1.1h-1.1zM192.5 226.9h1.1v1.1h-1.1zM194.1 220.3h1.1v1.1h-1.1zM196.9 223.0h1.1v1.1h-1.1zM200.4 225.5h1.1v1.1h-1.1zM198.2 211.6h1.1v1.1h-1.1zM193.1 224.8h1.1v1.1h-1.1zM199.9 214.8h1.1v1.1h-1.1zM194.3 219.9h1.1v1.1h-1.1zM193.6 222.0h1.1v1.1h-1.1zM198.6 225.6h1.1v1.1h-1.1zM200.0 217.3h1.1v1.1h-1.1zM193.4 224.8h1.1v1.1h-1.1zM195.3 222.2h1.1v1.1h-1.1zM200.0 225.6h1.1v1.1h-1.1zM199.9 224.2h1.1v1.1h-1.1zM200.1 210.4h1.1v1.1h-1.1zM200.3 220.8h1.1v1.1h-1.1zM199.0 221.3h1.1v1.1h-1.1zM200.4 223.5h1.1v1.1h-1.1zM193.6 226.5h1.1v1.1h-1.1zM199.7 224.3h1.1v1.1h-1.1zM199.3 226.1h1.1v1.1h-1.1zM200.4 225.6h1.1v1.1h-1.1zM199.5 218.6h1.1v1.1h-1.1zM195.2 226.3h1.1v1.1h-1.1zM199.4 226.7h1.1v1.1h-1.1zM200.3 214.3h1.1v1.1h-1.1zM194.6 222.9h1.1v1.1h-1.1zM200.2 215.1h1.1v1.1h-1.1zM195.5 224.3h1.1v1.1h-1.1zM192.7 223.9h1.1v1.1h-1.1zM191.9 225.9h1.1v1.1h-1.1zM199.8 221.8h1.1v1.1h-1.1zM200.2 222.8h1.1v1.1h-1.1zM199.9 217.6h1.1v1.1h-1.1zM199.1 212.5h1.1v1.1h-1.1zM199.7 224.1h1.1v1.1h-1.1zM200.0 219.8h1.1v1.1h-1.1zM200.3 213.3h1.1v1.1h-1.1zM197.8 221.7h1.1v1.1h-1.1zM194.7 225.3h1.1v1.1h-1.1zM196.4 223.8h1.1v1.1h-1.1zM199.5 220.6h1.1v1.1h-1.1zM200.3 223.7h1.1v1.1h-1.1zM193.3 226.2h1.1v1.1h-1.1zM196.1 224.7h1.1v1.1h-1.1zM196.8 226.6h1.1v1.1h-1.1zM197.8 224.2h1.1v1.1h-1.1zM200.3 225.0h1.1v1.1h-1.1zM199.7 224.8h1.1v1.1h-1.1zM195.0 226.5h1.1v1.1h-1.1zM198.5 225.2h1.1v1.1h-1.1zM198.4 212.2h1.1v1.1h-1.1zM197.7 213.0h1.1v1.1h-1.1zM199.4 226.5h1.1v1.1h-1.1zM195.4 226.9h1.1v1.1h-1.1zM199.4 218.6h1.1v1.1h-1.1zM196.4 223.4h1.1v1.1h-1.1zM199.9 217.8h1.1v1.1h-1.1zM199.8 214.0h1.1v1.1h-1.1zM200.1 219.4h1.1v1.1h-1.1zM192.3 226.6h1.1v1.1h-1.1zM197.5 216.9h1.1v1.1h-1.1zM200.4 226.9h1.1v1.1h-1.1zM199.8 226.3h1.1v1.1h-1.1zM198.7 224.9h1.1v1.1h-1.1zM199.1 226.9h1.1v1.1h-1.1zM200.1 219.2h1.1v1.1h-1.1zM198.9 214.2h1.1v1.1h-1.1zM199.9 217.4h1.1v1.1h-1.1zM196.2 223.0h1.1v1.1h-1.1zM200.4 224.3h1.1v1.1h-1.1zM197.8 214.3h1.1v1.1h-1.1zM200.4 225.1h1.1v1.1h-1.1zM198.8 213.8h1.1v1.1h-1.1zM199.5 226.9h1.1v1.1h-1.1zM194.0 226.6h1.1v1.1h-1.1zM192.5 225.9h1.1v1.1h-1.1zM200.4 216.5h1.1v1.1h-1.1zM199.3 217.9h1.1v1.1h-1.1zM196.7 216.6h1.1v1.1h-1.1zM200.3 225.2h1.1v1.1h-1.1zM199.8 211.1h1.1v1.1h-1.1zM198.9 211.6h1.1v1.1h-1.1zM196.6 216.8h1.1v1.1h-1.1zM198.8 219.4h1.1v1.1h-1.1zM195.2 226.9h1.1v1.1h-1.1zM197.9 223.2h1.1v1.1h-1.1zM200.3 211.7h1.1v1.1h-1.1zM200.4 216.2h1.1v1.1h-1.1zM196.6 217.7h1.1v1.1h-1.1zM197.2 225.4h1.1v1.1h-1.1zM199.3 210.4h1.1v1.1h-1.1zM199.8 221.1h1.1v1.1h-1.1zM198.7 226.8h1.1v1.1h-1.1zM199.9 223.4h1.1v1.1h-1.1zM200.1 224.8h1.1v1.1h-1.1zM197.6 217.6h1.1v1.1h-1.1zM199.6 225.6h1.1v1.1h-1.1zM198.6 221.6h1.1v1.1h-1.1zM191.4 226.5h1.1v1.1h-1.1zM189.7 226.2h1.1v1.1h-1.1zM171.3 223.7h1.1v1.1h-1.1zM185.5 225.8h1.1v1.1h-1.1zM180.2 223.2h1.1v1.1h-1.1zM187.9 226.8h1.1v1.1h-1.1zM172.2 226.9h1.1v1.1h-1.1zM169.6 225.5h1.1v1.1h-1.1zM175.1 226.7h1.1v1.1h-1.1zM175.8 226.8h1.1v1.1h-1.1z"/>
<line x1="27.5" y1="290.2" x2="27.5" y2="362.5" stroke="#555" stroke-width="0.9"/>
<line x1="27.5" y1="362.5" x2="130.4" y2="362.5" stroke="#555" stroke-width="0.9"/>
<line x1="25.7" y1="294.30" x2="27.5" y2="294.30" stroke="#555" stroke-width="0.7"/>
<text x="18.40" y="296.40" font-size="6.0" textLength="6.10" lengthAdjust="spacingAndGlyphs" fill="#111" stroke="#111" stroke-width="0.07" >15</text>
<line x1="25.7" y1="305.80" x2="27.5" y2="305.80" stroke="#555" stroke-width="0.7"/>
<text x="18.40" y="307.90" font-size="6.0" textLength="6.10" lengthAdjust="spacingAndGlyphs" fill="#111" stroke="#111" stroke-width="0.07" >10</text>
<line x1="25.7" y1="317.30" x2="27.5" y2="317.30" stroke="#555" stroke-width="0.7"/>
<text x="21.45" y="319.40" font-size="6.0" textLength="3.05" lengthAdjust="spacingAndGlyphs" fill="#111" stroke="#111" stroke-width="0.07" >5</text>
<line x1="25.7" y1="328.80" x2="27.5" y2="328.80" stroke="#555" stroke-width="0.7"/>
<text x="21.45" y="330.90" font-size="6.0" textLength="3.05" lengthAdjust="spacingAndGlyphs" fill="#111" stroke="#111" stroke-width="0.07" >0</text>
<line x1="25.7" y1="340.30" x2="27.5" y2="340.30" stroke="#555" stroke-width="0.7"/>
<text x="19.55" y="342.40" font-size="6.0" textLength="4.95" lengthAdjust="spacingAndGlyphs" fill="#111" stroke="#111" stroke-width="0.07" >-5</text>
<line x1="25.7" y1="351.80" x2="27.5" y2="351.80" stroke="#555" stroke-width="0.7"/>
<text x="16.50" y="353.90" font-size="6.0" textLength="8.00" lengthAdjust="spacingAndGlyphs" fill="#111" stroke="#111" stroke-width="0.07" >-10</text>
<line x1="26.60" y1="362.5" x2="26.60" y2="364.3" stroke="#555" stroke-width="0.7"/>
<text x="21.65" y="369.10" font-size="6.0" textLength="8.00" lengthAdjust="spacingAndGlyphs" fill="#111" stroke="#111" stroke-width="0.07" >-10</text>
<line x1="39.50" y1="362.5" x2="39.50" y2="364.3" stroke="#555" stroke-width="0.7"/>
<text x="36.07" y="369.10" font-size="6.0" textLength="4.95" lengthAdjust="spacingAndGlyphs" fill="#111" stroke="#111" stroke-width="0.07" >-8</text>
<line x1="52.40" y1="362.5" x2="52.40" y2="364.3" stroke="#555" stroke-width="0.7"/>
<text x="48.97" y="369.10" font-size="6.0" textLength="4.95" lengthAdjust="spacingAndGlyphs" fill="#111" stroke="#111" stroke-width="0.07" >-6</text>
<line x1="65.30" y1="362.5" x2="65.30" y2="364.3" stroke="#555" stroke-width="0.7"/>
<text x="61.88" y="369.10" font-size="6.0" textLength="4.95" lengthAdjust="spacingAndGlyphs" fill="#111" stroke="#111" stroke-width="0.07" >-4</text>
<line x1="78.20" y1="362.5" x2="78.20" y2="364.3" stroke="#555" stroke-width="0.7"/>
<text x="74.77" y="369.10" font-size="6.0" textLength="4.95" lengthAdjust="spacingAndGlyphs" fill="#111" stroke="#111" stroke-width="0.07" >-2</text>
<line x1="91.10" y1="362.5" x2="91.10" y2="364.3" stroke="#555" stroke-width="0.7"/>
<text x="89.57" y="369.10" font-size="6.0" textLength="3.05" lengthAdjust="spacingAndGlyphs" fill="#111" stroke="#111" stroke-width="0.07" >0</text>
<line x1="104.00" y1="362.5" x2="104.00" y2="364.3" stroke="#555" stroke-width="0.7"/>
<text x="102.47" y="369.10" font-size="6.0" textLength="3.05" lengthAdjust="spacingAndGlyphs" fill="#111" stroke="#111" stroke-width="0.07" >2</text>
<line x1="116.90" y1="362.5" x2="116.90" y2="364.3" stroke="#555" stroke-width="0.7"/>
<text x="115.37" y="369.10" font-size="6.0" textLength="3.05" lengthAdjust="spacingAndGlyphs" fill="#111" stroke="#111" stroke-width="0.07" >4</text>
<line x1="129.80" y1="362.5" x2="129.80" y2="364.3" stroke="#555" stroke-width="0.7"/>
<text x="128.28" y="369.10" font-size="6.0" textLength="3.05" lengthAdjust="spacingAndGlyphs" fill="#111" stroke="#111" stroke-width="0.07" >6</text>
<line x1="84.65" y1="290.2" x2="84.65" y2="362.5" stroke="#cfcfcf" stroke-width="0.9"/>
<line x1="97.55" y1="290.2" x2="97.55" y2="362.5" stroke="#cfcfcf" stroke-width="0.9"/>
<line x1="27.5" y1="326.50" x2="130.4" y2="326.50" stroke="#cfcfcf" stroke-width="0.8" stroke-dasharray="2 0.6"/>
<line x1="27.5" y1="331.10" x2="130.4" y2="331.10" stroke="#cfcfcf" stroke-width="0.8" stroke-dasharray="2 0.6"/>
<rect x="84.65" y="326.50" width="12.90" height="4.60" fill="#a8a8a8" stroke="none" stroke-width="0.8"/>
<path fill="#ff1a10" d="M98.2 318.8h1.1v1.1h-1.1zM97.9 325.4h1.1v1.1h-1.1zM102.1 320.8h1.1v1.1h-1.1zM97.1 325.3h1.1v1.1h-1.1zM97.9 320.4h1.1v1.1h-1.1zM98.7 318.3h1.1v1.1h-1.1zM98.5 321.8h1.1v1.1h-1.1zM98.9 320.2h1.1v1.1h-1.1zM103.6 324.3h1.1v1.1h-1.1zM102.5 325.6h1.1v1.1h-1.1zM101.7 325.8h1.1v1.1h-1.1zM103.0 323.8h1.1v1.1h-1.1zM100.9 325.8h1.1v1.1h-1.1zM103.4 323.7h1.1v1.1h-1.1zM99.5 318.7h1.1v1.1h-1.1zM98.3 325.0h1.1v1.1h-1.1zM99.6 324.7h1.1v1.1h-1.1zM98.0 324.9h1.1v1.1h-1.1zM100.1 320.6h1.1v1.1h-1.1zM104.6 324.5h1.1v1.1h-1.1zM100.8 325.0h1.1v1.1h-1.1zM103.7 325.4h1.1v1.1h-1.1zM97.9 319.5h1.1v1.1h-1.1zM101.3 320.7h1.1v1.1h-1.1zM98.8 324.6h1.1v1.1h-1.1zM102.9 323.1h1.1v1.1h-1.1zM101.9 325.3h1.1v1.1h-1.1zM99.3 322.1h1.1v1.1h-1.1zM102.5 322.3h1.1v1.1h-1.1zM103.7 325.1h1.1v1.1h-1.1zM102.3 324.1h1.1v1.1h-1.1zM97.5 319.6h1.1v1.1h-1.1zM101.9 319.6h1.1v1.1h-1.1zM97.1 324.5h1.1v1.1h-1.1zM104.9 325.6h1.1v1.1h-1.1zM104.4 325.9h1.1v1.1h-1.1zM102.4 325.4h1.1v1.1h-1.1zM97.8 325.6h1.1v1.1h-1.1zM97.3 321.4h1.1v1.1h-1.1zM103.7 324.2h1.1v1.1h-1.1zM101.9 321.0h1.1v1.1h-1.1zM97.1 318.4h1.1v1.1h-1.1zM102.8 324.9h1.1v1.1h-1.1zM97.1 321.3h1.1v1.1h-1.1zM98.0 322.9h1.1v1.1h-1.1zM97.4 323.5h1.1v1.1h-1.1zM105.3 325.9h1.1v1.1h-1.1zM103.4 324.4h1.1v1.1h-1.1zM100.2 325.5h1.1v1.1h-1.1zM99.7 325.5h1.1v1.1h-1.1zM101.9 325.2h1.1v1.1h-1.1zM102.5 325.4h1.1v1.1h-1.1zM97.4 323.0h1.1v1.1h-1.1zM100.0 324.1h1.1v1.1h-1.1zM98.2 319.0h1.1v1.1h-1.1zM104.6 325.0h1.1v1.1h-1.1zM100.2 319.4h1.1v1.1h-1.1zM97.8 324.7h1.1v1.1h-1.1zM97.2 324.7h1.1v1.1h-1.1zM100.5 325.9h1.1v1.1h-1.1zM100.4 323.7h1.1v1.1h-1.1zM97.0 324.1h1.1v1.1h-1.1zM100.4 321.3h1.1v1.1h-1.1zM100.0 322.6h1.1v1.1h-1.1zM102.8 321.3h1.1v1.1h-1.1zM100.2 319.5h1.1v1.1h-1.1zM98.6 323.8h1.1v1.1h-1.1zM103.9 323.6h1.1v1.1h-1.1zM99.1 323.9h1.1v1.1h-1.1zM97.6 323.7h1.1v1.1h-1.1zM97.0 318.1h1.1v1.1h-1.1zM102.7 322.1h1.1v1.1h-1.1zM101.1 324.8h1.1v1.1h-1.1zM98.1 324.0h1.1v1.1h-1.1zM97.5 325.1h1.1v1.1h-1.1zM100.7 319.8h1.1v1.1h-1.1zM97.1 319.1h1.1v1.1h-1.1zM98.4 321.3h1.1v1.1h-1.1zM99.8 321.7h1.1v1.1h-1.1zM104.3 324.4h1.1v1.1h-1.1zM102.7 325.9h1.1v1.1h-1.1zM99.1 319.7h1.1v1.1h-1.1zM103.3 322.2h1.1v1.1h-1.1zM101.3 324.9h1.1v1.1h-1.1zM98.6 320.8h1.1v1.1h-1.1zM98.7 321.1h1.1v1.1h-1.1zM100.5 322.8h1.1v1.1h-1.1zM98.4 321.4h1.1v1.1h-1.1zM99.8 321.9h1.1v1.1h-1.1zM101.2 325.0h1.1v1.1h-1.1zM103.8 324.7h1.1v1.1h-1.1zM101.5 323.2h1.1v1.1h-1.1zM99.6 322.8h1.1v1.1h-1.1zM97.6 325.0h1.1v1.1h-1.1zM99.0 318.9h1.1v1.1h-1.1zM99.9 322.8h1.1v1.1h-1.1zM97.8 320.1h1.1v1.1h-1.1zM103.2 325.3h1.1v1.1h-1.1zM100.9 323.3h1.1v1.1h-1.1zM101.5 320.0h1.1v1.1h-1.1zM97.1 319.5h1.1v1.1h-1.1zM102.7 323.9h1.1v1.1h-1.1zM97.3 320.0h1.1v1.1h-1.1zM98.3 325.4h1.1v1.1h-1.1zM99.1 325.6h1.1v1.1h-1.1zM99.3 320.2h1.1v1.1h-1.1zM97.3 323.4h1.1v1.1h-1.1zM104.2 323.8h1.1v1.1h-1.1zM99.1 321.3h1.1v1.1h-1.1zM102.1 323.2h1.1v1.1h-1.1zM97.5 320.6h1.1v1.1h-1.1zM98.6 321.4h1.1v1.1h-1.1zM98.0 322.8h1.1v1.1h-1.1zM98.8 324.0h1.1v1.1h-1.1zM97.0 323.9h1.1v1.1h-1.1zM100.8 325.1h1.1v1.1h-1.1zM97.9 325.8h1.1v1.1h-1.1zM98.1 321.0h1.1v1.1h-1.1zM98.2 324.3h1.1v1.1h-1.1zM97.2 319.9h1.1v1.1h-1.1zM102.1 321.8h1.1v1.1h-1.1zM99.6 325.1h1.1v1.1h-1.1zM99.9 320.3h1.1v1.1h-1.1zM97.1 324.0h1.1v1.1h-1.1zM98.9 323.5h1.1v1.1h-1.1zM98.2 321.1h1.1v1.1h-1.1zM101.1 323.7h1.1v1.1h-1.1zM98.4 320.1h1.1v1.1h-1.1zM100.6 323.9h1.1v1.1h-1.1zM97.5 318.9h1.1v1.1h-1.1zM99.8 318.4h1.1v1.1h-1.1zM101.3 324.0h1.1v1.1h-1.1zM97.2 324.3h1.1v1.1h-1.1zM98.6 320.7h1.1v1.1h-1.1zM99.7 322.8h1.1v1.1h-1.1zM100.3 319.2h1.1v1.1h-1.1zM101.2 325.9h1.1v1.1h-1.1zM99.6 323.3h1.1v1.1h-1.1zM98.6 319.8h1.1v1.1h-1.1zM102.9 323.2h1.1v1.1h-1.1zM99.8 323.5h1.1v1.1h-1.1zM102.2 322.9h1.1v1.1h-1.1zM101.1 321.5h1.1v1.1h-1.1zM97.1 323.8h1.1v1.1h-1.1zM99.8 321.4h1.1v1.1h-1.1zM100.9 320.5h1.1v1.1h-1.1zM98.1 325.6h1.1v1.1h-1.1zM103.4 325.7h1.1v1.1h-1.1zM97.3 325.6h1.1v1.1h-1.1zM99.6 320.7h1.1v1.1h-1.1zM97.3 316.0h1.1v1.1h-1.1zM100.7 316.7h1.1v1.1h-1.1zM97.3 316.0h1.1v1.1h-1.1zM99.2 316.3h1.1v1.1h-1.1zM102.2 315.5h1.1v1.1h-1.1zM101.5 317.9h1.1v1.1h-1.1zM98.7 316.6h1.1v1.1h-1.1zM97.0 314.9h1.1v1.1h-1.1zM110.9 325.6h1.1v1.1h-1.1zM111.5 325.6h1.1v1.1h-1.1zM120.0 325.5h1.1v1.1h-1.1zM114.6 325.5h1.1v1.1h-1.1zM107.5 325.6h1.1v1.1h-1.1zM120.1 325.4h1.1v1.1h-1.1zM119.9 325.6h1.1v1.1h-1.1zM109.8 325.7h1.1v1.1h-1.1zM76.8 334.4h1.1v1.1h-1.1zM84.0 333.2h1.1v1.1h-1.1zM84.0 334.9h1.1v1.1h-1.1zM81.3 333.4h1.1v1.1h-1.1zM76.8 334.6h1.1v1.1h-1.1zM76.9 332.0h1.1v1.1h-1.1zM80.7 334.7h1.1v1.1h-1.1zM70.6 331.4h1.1v1.1h-1.1zM84.0 334.1h1.1v1.1h-1.1zM68.9 332.0h1.1v1.1h-1.1zM81.2 331.9h1.1v1.1h-1.1zM75.1 335.3h1.1v1.1h-1.1zM76.2 334.3h1.1v1.1h-1.1zM83.9 330.8h1.1v1.1h-1.1zM76.1 336.4h1.1v1.1h-1.1zM84.0 330.8h1.1v1.1h-1.1zM70.4 332.0h1.1v1.1h-1.1zM76.4 331.9h1.1v1.1h-1.1zM78.7 336.1h1.1v1.1h-1.1zM83.0 336.0h1.1v1.1h-1.1zM84.1 331.5h1.1v1.1h-1.1zM83.9 335.1h1.1v1.1h-1.1zM77.7 336.4h1.1v1.1h-1.1zM73.3 331.7h1.1v1.1h-1.1zM79.3 331.5h1.1v1.1h-1.1zM73.6 331.2h1.1v1.1h-1.1zM73.6 335.9h1.1v1.1h-1.1zM71.6 330.6h1.1v1.1h-1.1zM74.3 333.9h1.1v1.1h-1.1zM78.1 333.6h1.1v1.1h-1.1zM74.9 334.1h1.1v1.1h-1.1zM84.0 331.0h1.1v1.1h-1.1zM82.6 333.8h1.1v1.1h-1.1zM84.1 332.9h1.1v1.1h-1.1zM84.1 335.0h1.1v1.1h-1.1zM75.5 335.5h1.1v1.1h-1.1zM83.8 333.3h1.1v1.1h-1.1zM83.3 334.4h1.1v1.1h-1.1zM83.8 333.1h1.1v1.1h-1.1zM80.1 336.4h1.1v1.1h-1.1zM83.9 332.7h1.1v1.1h-1.1zM74.3 334.9h1.1v1.1h-1.1zM83.9 335.6h1.1v1.1h-1.1zM82.4 332.7h1.1v1.1h-1.1zM83.7 335.1h1.1v1.1h-1.1zM70.9 334.2h1.1v1.1h-1.1zM84.1 335.1h1.1v1.1h-1.1zM83.8 331.0h1.1v1.1h-1.1zM78.8 334.7h1.1v1.1h-1.1zM80.7 333.7h1.1v1.1h-1.1zM78.0 333.0h1.1v1.1h-1.1zM72.6 334.4h1.1v1.1h-1.1zM75.4 334.9h1.1v1.1h-1.1zM75.3 336.0h1.1v1.1h-1.1zM84.1 334.8h1.1v1.1h-1.1zM74.1 334.6h1.1v1.1h-1.1zM72.5 333.1h1.1v1.1h-1.1zM69.8 331.6h1.1v1.1h-1.1zM76.3 333.2h1.1v1.1h-1.1zM82.3 332.1h1.1v1.1h-1.1zM82.1 332.6h1.1v1.1h-1.1zM80.3 331.1h1.1v1.1h-1.1zM78.6 336.4h1.1v1.1h-1.1zM76.7 336.1h1.1v1.1h-1.1zM71.7 335.6h1.1v1.1h-1.1zM82.8 335.1h1.1v1.1h-1.1zM80.9 332.0h1.1v1.1h-1.1zM82.9 330.7h1.1v1.1h-1.1zM73.5 335.8h1.1v1.1h-1.1zM74.6 332.5h1.1v1.1h-1.1zM73.7 335.2h1.1v1.1h-1.1zM80.0 335.3h1.1v1.1h-1.1zM72.6 331.2h1.1v1.1h-1.1zM77.5 332.4h1.1v1.1h-1.1zM79.2 332.7h1.1v1.1h-1.1zM83.7 336.3h1.1v1.1h-1.1zM77.6 333.7h1.1v1.1h-1.1zM71.6 333.8h1.1v1.1h-1.1zM71.6 333.0h1.1v1.1h-1.1zM71.6 334.7h1.1v1.1h-1.1zM83.1 331.1h1.1v1.1h-1.1zM71.3 332.3h1.1v1.1h-1.1zM82.6 330.6h1.1v1.1h-1.1zM71.2 334.8h1.1v1.1h-1.1zM80.5 331.6h1.1v1.1h-1.1zM77.3 334.7h1.1v1.1h-1.1zM76.3 335.0h1.1v1.1h-1.1zM82.8 332.0h1.1v1.1h-1.1zM75.5 330.7h1.1v1.1h-1.1zM82.7 331.8h1.1v1.1h-1.1zM78.7 336.3h1.1v1.1h-1.1zM77.6 334.1h1.1v1.1h-1.1zM77.0 334.1h1.1v1.1h-1.1zM84.0 332.4h1.1v1.1h-1.1zM84.1 331.0h1.1v1.1h-1.1zM83.7 332.7h1.1v1.1h-1.1zM79.6 331.2h1.1v1.1h-1.1zM78.0 336.3h1.1v1.1h-1.1zM74.5 332.2h1.1v1.1h-1.1zM83.8 331.6h1.1v1.1h-1.1zM81.1 332.4h1.1v1.1h-1.1zM81.0 334.7h1.1v1.1h-1.1zM83.9 334.9h1.1v1.1h-1.1zM82.3 336.1h1.1v1.1h-1.1zM84.1 335.5h1.1v1.1h-1.1zM83.2 335.5h1.1v1.1h-1.1zM75.7 335.7h1.1v1.1h-1.1zM82.8 334.6h1.1v1.1h-1.1zM83.3 330.6h1.1v1.1h-1.1zM83.7 336.0h1.1v1.1h-1.1zM78.9 334.5h1.1v1.1h-1.1zM83.5 334.5h1.1v1.1h-1.1zM83.9 331.4h1.1v1.1h-1.1zM82.0 336.4h1.1v1.1h-1.1zM79.2 334.5h1.1v1.1h-1.1zM84.0 331.9h1.1v1.1h-1.1zM71.6 330.6h1.1v1.1h-1.1zM69.0 331.3h1.1v1.1h-1.1zM75.8 332.7h1.1v1.1h-1.1zM73.6 331.4h1.1v1.1h-1.1zM81.6 332.1h1.1v1.1h-1.1zM83.8 333.7h1.1v1.1h-1.1zM73.8 332.0h1.1v1.1h-1.1zM81.4 332.3h1.1v1.1h-1.1zM83.2 335.1h1.1v1.1h-1.1zM83.1 331.7h1.1v1.1h-1.1zM81.7 332.8h1.1v1.1h-1.1zM80.6 334.4h1.1v1.1h-1.1zM84.0 335.8h1.1v1.1h-1.1zM74.4 334.5h1.1v1.1h-1.1zM84.1 332.0h1.1v1.1h-1.1zM83.8 333.2h1.1v1.1h-1.1zM76.3 333.3h1.1v1.1h-1.1zM83.8 331.1h1.1v1.1h-1.1zM83.5 333.4h1.1v1.1h-1.1zM80.5 331.9h1.1v1.1h-1.1zM84.0 331.3h1.1v1.1h-1.1zM80.3 332.7h1.1v1.1h-1.1zM79.9 336.2h1.1v1.1h-1.1zM83.0 331.0h1.1v1.1h-1.1zM79.5 335.0h1.1v1.1h-1.1zM72.5 335.8h1.1v1.1h-1.1zM83.9 335.7h1.1v1.1h-1.1zM80.3 336.2h1.1v1.1h-1.1zM83.5 332.0h1.1v1.1h-1.1zM83.3 335.7h1.1v1.1h-1.1zM82.6 331.0h1.1v1.1h-1.1zM81.1 336.1h1.1v1.1h-1.1zM84.0 334.9h1.1v1.1h-1.1zM82.3 333.3h1.1v1.1h-1.1zM83.0 345.6h1.1v1.1h-1.1zM82.2 337.6h1.1v1.1h-1.1zM79.0 342.9h1.1v1.1h-1.1zM83.2 336.0h1.1v1.1h-1.1zM80.7 343.4h1.1v1.1h-1.1zM84.0 342.8h1.1v1.1h-1.1zM80.3 343.7h1.1v1.1h-1.1zM82.9 343.2h1.1v1.1h-1.1zM81.0 345.4h1.1v1.1h-1.1zM83.4 347.7h1.1v1.1h-1.1zM79.2 346.7h1.1v1.1h-1.1zM79.7 341.3h1.1v1.1h-1.1zM79.4 338.5h1.1v1.1h-1.1zM82.9 344.6h1.1v1.1h-1.1zM79.4 337.0h1.1v1.1h-1.1zM83.0 336.4h1.1v1.1h-1.1zM81.8 337.9h1.1v1.1h-1.1zM83.1 346.9h1.1v1.1h-1.1zM81.1 349.7h1.1v1.1h-1.1zM82.0 345.8h1.1v1.1h-1.1zM84.0 349.8h1.1v1.1h-1.1zM82.9 342.9h1.1v1.1h-1.1zM81.5 349.8h1.1v1.1h-1.1zM81.6 350.4h1.1v1.1h-1.1zM80.9 339.0h1.1v1.1h-1.1zM79.8 338.8h1.1v1.1h-1.1zM78.9 342.6h1.1v1.1h-1.1zM82.9 350.0h1.1v1.1h-1.1zM82.4 341.8h1.1v1.1h-1.1zM82.3 345.7h1.1v1.1h-1.1zM84.0 341.3h1.1v1.1h-1.1zM83.3 348.0h1.1v1.1h-1.1zM84.1 344.8h1.1v1.1h-1.1zM82.8 342.5h1.1v1.1h-1.1zM81.2 346.3h1.1v1.1h-1.1zM83.4 339.4h1.1v1.1h-1.1zM83.5 350.0h1.1v1.1h-1.1zM83.3 337.9h1.1v1.1h-1.1zM81.4 344.4h1.1v1.1h-1.1zM79.5 336.7h1.1v1.1h-1.1zM51.4 333.6h1.1v1.1h-1.1zM60.5 336.9h1.1v1.1h-1.1zM56.0 341.9h1.1v1.1h-1.1zM62.5 341.6h1.1v1.1h-1.1zM70.1 334.8h1.1v1.1h-1.1zM69.7 336.4h1.1v1.1h-1.1zM46.7 342.2h1.1v1.1h-1.1zM48.1 331.9h1.1v1.1h-1.1zM52.9 335.0h1.1v1.1h-1.1zM70.3 341.7h1.1v1.1h-1.1zM56.2 337.8h1.1v1.1h-1.1zM67.3 341.0h1.1v1.1h-1.1zM62.3 337.6h1.1v1.1h-1.1zM48.4 334.5h1.1v1.1h-1.1zM62.4 338.4h1.1v1.1h-1.1zM66.1 342.0h1.1v1.1h-1.1zM70.2 333.9h1.1v1.1h-1.1zM47.4 342.0h1.1v1.1h-1.1zM60.1 333.8h1.1v1.1h-1.1zM63.3 334.6h1.1v1.1h-1.1zM51.5 335.9h1.1v1.1h-1.1zM58.9 339.5h1.1v1.1h-1.1zM47.3 340.2h1.1v1.1h-1.1zM61.5 337.1h1.1v1.1h-1.1zM62.7 340.9h1.1v1.1h-1.1zM45.6 337.2h1.1v1.1h-1.1zM62.9 339.9h1.1v1.1h-1.1zM62.1 333.8h1.1v1.1h-1.1zM81.3 343.5h1.1v1.1h-1.1zM54.1 343.7h1.1v1.1h-1.1zM81.2 343.9h1.1v1.1h-1.1zM60.7 343.3h1.1v1.1h-1.1zM79.1 343.8h1.1v1.1h-1.1zM72.9 343.8h1.1v1.1h-1.1zM70.2 343.5h1.1v1.1h-1.1zM50.2 343.9h1.1v1.1h-1.1zM53.4 343.8h1.1v1.1h-1.1zM46.7 343.9h1.1v1.1h-1.1zM60.6 343.7h1.1v1.1h-1.1zM48.3 343.6h1.1v1.1h-1.1zM80.7 343.6h1.1v1.1h-1.1zM58.7 343.5h1.1v1.1h-1.1zM61.8 343.9h1.1v1.1h-1.1zM63.4 344.0h1.1v1.1h-1.1zM70.7 343.9h1.1v1.1h-1.1zM59.2 343.3h1.1v1.1h-1.1zM27.3 343.7h1.1v1.1h-1.1z"/>
<path fill="#1a10ff" d="M98.8 337.3h1.1v1.1h-1.1zM99.8 336.0h1.1v1.1h-1.1zM98.6 338.2h1.1v1.1h-1.1zM97.5 342.9h1.1v1.1h-1.1zM98.1 345.8h1.1v1.1h-1.1zM99.1 330.7h1.1v1.1h-1.1zM99.0 337.3h1.1v1.1h-1.1zM98.4 337.9h1.1v1.1h-1.1zM103.3 333.0h1.1v1.1h-1.1zM102.4 333.3h1.1v1.1h-1.1zM98.9 343.0h1.1v1.1h-1.1zM103.6 335.8h1.1v1.1h-1.1zM103.1 335.7h1.1v1.1h-1.1zM100.2 330.8h1.1v1.1h-1.1zM97.1 339.4h1.1v1.1h-1.1zM97.1 344.4h1.1v1.1h-1.1zM97.6 338.5h1.1v1.1h-1.1zM98.1 345.8h1.1v1.1h-1.1zM98.5 342.9h1.1v1.1h-1.1zM100.1 340.1h1.1v1.1h-1.1zM98.1 333.3h1.1v1.1h-1.1zM97.3 343.8h1.1v1.1h-1.1zM97.3 345.7h1.1v1.1h-1.1zM97.4 331.1h1.1v1.1h-1.1zM100.7 342.5h1.1v1.1h-1.1zM101.3 335.2h1.1v1.1h-1.1zM104.6 332.8h1.1v1.1h-1.1zM97.4 340.3h1.1v1.1h-1.1zM103.0 330.8h1.1v1.1h-1.1zM104.6 330.7h1.1v1.1h-1.1zM98.3 333.3h1.1v1.1h-1.1zM98.4 338.2h1.1v1.1h-1.1zM97.5 337.8h1.1v1.1h-1.1zM97.6 345.6h1.1v1.1h-1.1zM97.3 343.9h1.1v1.1h-1.1zM100.7 342.9h1.1v1.1h-1.1zM97.1 334.8h1.1v1.1h-1.1zM101.3 334.6h1.1v1.1h-1.1zM101.0 332.4h1.1v1.1h-1.1zM100.5 331.0h1.1v1.1h-1.1zM98.5 341.3h1.1v1.1h-1.1zM97.3 340.2h1.1v1.1h-1.1zM97.2 343.6h1.1v1.1h-1.1zM99.4 345.9h1.1v1.1h-1.1zM97.9 346.3h1.1v1.1h-1.1zM99.1 333.3h1.1v1.1h-1.1zM98.7 341.8h1.1v1.1h-1.1zM97.1 346.0h1.1v1.1h-1.1zM102.7 336.4h1.1v1.1h-1.1zM99.6 338.5h1.1v1.1h-1.1zM97.7 331.0h1.1v1.1h-1.1zM104.3 333.0h1.1v1.1h-1.1zM97.5 344.0h1.1v1.1h-1.1zM97.0 345.9h1.1v1.1h-1.1zM102.6 338.5h1.1v1.1h-1.1zM104.4 334.0h1.1v1.1h-1.1zM97.1 339.7h1.1v1.1h-1.1zM99.9 333.9h1.1v1.1h-1.1zM102.9 332.7h1.1v1.1h-1.1zM103.6 331.9h1.1v1.1h-1.1zM97.3 333.4h1.1v1.1h-1.1zM97.3 337.8h1.1v1.1h-1.1zM101.6 337.6h1.1v1.1h-1.1zM99.2 338.5h1.1v1.1h-1.1zM101.0 330.7h1.1v1.1h-1.1zM102.3 331.1h1.1v1.1h-1.1zM101.6 331.4h1.1v1.1h-1.1zM99.2 334.2h1.1v1.1h-1.1zM97.5 339.9h1.1v1.1h-1.1zM105.4 331.8h1.1v1.1h-1.1zM103.5 333.8h1.1v1.1h-1.1zM98.1 344.6h1.1v1.1h-1.1zM97.4 331.5h1.1v1.1h-1.1zM97.2 344.8h1.1v1.1h-1.1zM100.0 336.6h1.1v1.1h-1.1zM100.5 331.2h1.1v1.1h-1.1zM101.1 331.7h1.1v1.1h-1.1zM98.8 336.8h1.1v1.1h-1.1zM99.8 332.1h1.1v1.1h-1.1zM97.6 332.1h1.1v1.1h-1.1zM104.3 332.6h1.1v1.1h-1.1zM102.8 336.7h1.1v1.1h-1.1zM106.0 330.6h1.1v1.1h-1.1zM102.1 336.4h1.1v1.1h-1.1zM100.8 338.0h1.1v1.1h-1.1zM103.0 332.4h1.1v1.1h-1.1zM98.6 331.6h1.1v1.1h-1.1zM99.9 330.6h1.1v1.1h-1.1zM98.3 337.0h1.1v1.1h-1.1zM97.1 345.0h1.1v1.1h-1.1zM97.9 338.1h1.1v1.1h-1.1zM101.3 338.5h1.1v1.1h-1.1zM97.1 340.9h1.1v1.1h-1.1zM101.5 332.7h1.1v1.1h-1.1zM97.0 347.4h1.1v1.1h-1.1zM100.5 338.9h1.1v1.1h-1.1zM97.9 343.2h1.1v1.1h-1.1zM98.3 343.1h1.1v1.1h-1.1zM97.0 345.8h1.1v1.1h-1.1zM97.7 346.3h1.1v1.1h-1.1zM97.3 335.0h1.1v1.1h-1.1zM102.8 332.6h1.1v1.1h-1.1zM97.4 340.2h1.1v1.1h-1.1zM97.6 334.0h1.1v1.1h-1.1zM98.2 332.1h1.1v1.1h-1.1zM104.9 333.8h1.1v1.1h-1.1zM98.1 347.7h1.1v1.1h-1.1zM99.8 336.3h1.1v1.1h-1.1zM100.5 342.4h1.1v1.1h-1.1zM99.4 341.8h1.1v1.1h-1.1zM101.9 332.1h1.1v1.1h-1.1zM99.4 344.0h1.1v1.1h-1.1zM103.1 331.0h1.1v1.1h-1.1zM97.7 334.1h1.1v1.1h-1.1zM98.1 346.9h1.1v1.1h-1.1zM97.3 341.7h1.1v1.1h-1.1zM100.2 343.6h1.1v1.1h-1.1zM98.8 345.4h1.1v1.1h-1.1zM99.6 343.7h1.1v1.1h-1.1zM99.0 338.4h1.1v1.1h-1.1zM99.6 343.5h1.1v1.1h-1.1zM97.6 344.6h1.1v1.1h-1.1zM97.8 346.8h1.1v1.1h-1.1zM97.1 346.4h1.1v1.1h-1.1zM98.3 347.0h1.1v1.1h-1.1zM103.9 332.7h1.1v1.1h-1.1zM98.1 332.5h1.1v1.1h-1.1zM98.1 335.9h1.1v1.1h-1.1zM103.0 336.5h1.1v1.1h-1.1zM100.2 340.3h1.1v1.1h-1.1zM102.6 334.8h1.1v1.1h-1.1zM99.4 342.7h1.1v1.1h-1.1zM98.7 346.3h1.1v1.1h-1.1zM97.3 335.0h1.1v1.1h-1.1zM101.2 339.6h1.1v1.1h-1.1zM101.1 334.0h1.1v1.1h-1.1zM99.5 343.7h1.1v1.1h-1.1zM100.8 330.6h1.1v1.1h-1.1zM97.6 330.6h1.1v1.1h-1.1zM98.2 343.2h1.1v1.1h-1.1zM99.1 338.7h1.1v1.1h-1.1zM98.1 333.9h1.1v1.1h-1.1zM103.4 334.2h1.1v1.1h-1.1zM98.1 339.0h1.1v1.1h-1.1zM98.7 331.0h1.1v1.1h-1.1zM98.7 340.7h1.1v1.1h-1.1zM101.0 339.8h1.1v1.1h-1.1zM102.7 331.3h1.1v1.1h-1.1zM104.5 330.7h1.1v1.1h-1.1zM98.7 331.9h1.1v1.1h-1.1zM97.5 346.7h1.1v1.1h-1.1zM104.6 332.4h1.1v1.1h-1.1zM102.0 338.8h1.1v1.1h-1.1zM100.1 334.8h1.1v1.1h-1.1zM97.8 346.7h1.1v1.1h-1.1zM97.2 347.5h1.1v1.1h-1.1zM97.3 343.6h1.1v1.1h-1.1zM97.0 337.2h1.1v1.1h-1.1zM105.4 331.8h1.1v1.1h-1.1zM102.4 335.8h1.1v1.1h-1.1zM99.2 332.7h1.1v1.1h-1.1zM101.4 331.1h1.1v1.1h-1.1zM98.3 344.4h1.1v1.1h-1.1zM104.1 334.5h1.1v1.1h-1.1zM98.6 345.1h1.1v1.1h-1.1zM102.1 330.9h1.1v1.1h-1.1zM103.8 335.7h1.1v1.1h-1.1zM101.6 334.3h1.1v1.1h-1.1zM98.6 339.2h1.1v1.1h-1.1zM101.0 337.1h1.1v1.1h-1.1zM98.0 345.5h1.1v1.1h-1.1zM104.6 334.3h1.1v1.1h-1.1zM104.6 330.8h1.1v1.1h-1.1zM99.4 340.3h1.1v1.1h-1.1zM102.0 335.7h1.1v1.1h-1.1zM98.8 345.1h1.1v1.1h-1.1zM97.1 341.8h1.1v1.1h-1.1zM97.6 333.7h1.1v1.1h-1.1zM98.7 346.6h1.1v1.1h-1.1zM101.6 331.5h1.1v1.1h-1.1zM97.1 338.1h1.1v1.1h-1.1zM102.2 334.8h1.1v1.1h-1.1zM98.0 339.4h1.1v1.1h-1.1zM97.8 342.0h1.1v1.1h-1.1zM99.1 337.5h1.1v1.1h-1.1zM98.0 347.2h1.1v1.1h-1.1zM99.2 343.0h1.1v1.1h-1.1zM104.4 334.6h1.1v1.1h-1.1zM99.9 340.9h1.1v1.1h-1.1zM97.8 333.1h1.1v1.1h-1.1zM101.7 338.1h1.1v1.1h-1.1zM98.0 342.7h1.1v1.1h-1.1zM100.9 331.5h1.1v1.1h-1.1zM97.3 344.7h1.1v1.1h-1.1zM97.4 341.5h1.1v1.1h-1.1zM97.2 333.6h1.1v1.1h-1.1zM99.4 333.4h1.1v1.1h-1.1zM98.8 347.0h1.1v1.1h-1.1zM99.0 331.9h1.1v1.1h-1.1zM97.3 346.4h1.1v1.1h-1.1zM99.8 333.7h1.1v1.1h-1.1zM98.6 331.2h1.1v1.1h-1.1zM99.2 334.8h1.1v1.1h-1.1zM97.3 346.9h1.1v1.1h-1.1zM104.9 332.1h1.1v1.1h-1.1zM102.7 335.8h1.1v1.1h-1.1zM101.0 339.3h1.1v1.1h-1.1zM97.7 333.6h1.1v1.1h-1.1zM98.6 341.9h1.1v1.1h-1.1zM100.7 337.8h1.1v1.1h-1.1zM108.0 343.9h1.1v1.1h-1.1zM68.6 325.4h1.1v1.1h-1.1zM79.9 325.0h1.1v1.1h-1.1zM75.9 325.4h1.1v1.1h-1.1zM72.9 325.4h1.1v1.1h-1.1zM67.9 325.6h1.1v1.1h-1.1zM65.8 325.2h1.1v1.1h-1.1zM80.1 325.0h1.1v1.1h-1.1zM81.7 325.4h1.1v1.1h-1.1zM83.9 325.2h1.1v1.1h-1.1zM68.6 325.1h1.1v1.1h-1.1zM78.9 325.0h1.1v1.1h-1.1zM83.6 325.4h1.1v1.1h-1.1zM72.4 324.9h1.1v1.1h-1.1zM72.7 325.1h1.1v1.1h-1.1zM67.8 325.3h1.1v1.1h-1.1zM61.0 325.1h1.1v1.1h-1.1zM80.4 325.3h1.1v1.1h-1.1zM66.6 325.4h1.1v1.1h-1.1zM82.9 325.0h1.1v1.1h-1.1zM75.8 325.2h1.1v1.1h-1.1zM71.6 325.0h1.1v1.1h-1.1zM83.4 325.4h1.1v1.1h-1.1zM83.9 325.3h1.1v1.1h-1.1zM76.6 325.0h1.1v1.1h-1.1zM71.6 325.2h1.1v1.1h-1.1zM79.1 325.2h1.1v1.1h-1.1zM81.6 325.0h1.1v1.1h-1.1zM67.3 325.0h1.1v1.1h-1.1zM83.2 325.1h1.1v1.1h-1.1zM68.6 325.3h1.1v1.1h-1.1zM62.8 325.0h1.1v1.1h-1.1zM69.0 325.0h1.1v1.1h-1.1zM72.3 325.0h1.1v1.1h-1.1zM83.4 325.1h1.1v1.1h-1.1zM70.4 325.2h1.1v1.1h-1.1zM81.6 325.6h1.1v1.1h-1.1zM73.7 325.0h1.1v1.1h-1.1zM81.6 325.5h1.1v1.1h-1.1zM82.4 325.5h1.1v1.1h-1.1zM71.3 324.9h1.1v1.1h-1.1zM66.8 325.4h1.1v1.1h-1.1zM70.5 325.6h1.1v1.1h-1.1zM65.3 325.4h1.1v1.1h-1.1zM84.1 325.2h1.1v1.1h-1.1zM83.4 325.4h1.1v1.1h-1.1zM83.9 325.3h1.1v1.1h-1.1zM75.2 325.0h1.1v1.1h-1.1zM84.0 325.0h1.1v1.1h-1.1zM83.6 325.5h1.1v1.1h-1.1zM72.9 325.4h1.1v1.1h-1.1zM80.6 325.2h1.1v1.1h-1.1zM82.4 325.1h1.1v1.1h-1.1zM82.6 325.0h1.1v1.1h-1.1zM66.5 325.2h1.1v1.1h-1.1zM84.1 325.1h1.1v1.1h-1.1zM84.1 325.3h1.1v1.1h-1.1zM78.6 325.6h1.1v1.1h-1.1zM72.9 325.1h1.1v1.1h-1.1zM74.3 325.3h1.1v1.1h-1.1zM76.4 325.2h1.1v1.1h-1.1zM36.1 325.1h1.1v1.1h-1.1zM61.4 325.1h1.1v1.1h-1.1zM60.3 325.3h1.1v1.1h-1.1zM61.1 325.5h1.1v1.1h-1.1zM44.3 325.4h1.1v1.1h-1.1zM43.6 325.2h1.1v1.1h-1.1zM51.9 325.3h1.1v1.1h-1.1zM39.9 325.4h1.1v1.1h-1.1zM41.9 325.4h1.1v1.1h-1.1zM35.0 325.2h1.1v1.1h-1.1zM45.6 325.3h1.1v1.1h-1.1zM35.1 325.2h1.1v1.1h-1.1zM35.1 325.4h1.1v1.1h-1.1zM47.1 325.2h1.1v1.1h-1.1zM60.6 325.1h1.1v1.1h-1.1zM59.8 325.1h1.1v1.1h-1.1zM52.4 325.2h1.1v1.1h-1.1zM30.7 325.4h1.1v1.1h-1.1zM58.6 325.9h1.1v1.1h-1.1zM73.6 321.1h1.1v1.1h-1.1zM78.4 324.8h1.1v1.1h-1.1zM69.2 325.3h1.1v1.1h-1.1zM81.6 318.5h1.1v1.1h-1.1zM82.1 325.9h1.1v1.1h-1.1zM60.1 324.2h1.1v1.1h-1.1zM78.3 320.4h1.1v1.1h-1.1zM83.2 325.6h1.1v1.1h-1.1zM63.3 325.4h1.1v1.1h-1.1zM57.9 323.3h1.1v1.1h-1.1zM71.6 319.3h1.1v1.1h-1.1zM64.7 323.3h1.1v1.1h-1.1zM83.2 325.5h1.1v1.1h-1.1zM75.6 322.6h1.1v1.1h-1.1zM80.7 325.1h1.1v1.1h-1.1zM56.5 325.9h1.1v1.1h-1.1zM63.8 321.2h1.1v1.1h-1.1zM79.7 318.6h1.1v1.1h-1.1zM79.4 321.0h1.1v1.1h-1.1zM68.8 320.3h1.1v1.1h-1.1zM84.1 325.5h1.1v1.1h-1.1zM71.2 325.1h1.1v1.1h-1.1zM84.1 324.0h1.1v1.1h-1.1zM70.6 320.1h1.1v1.1h-1.1zM83.9 323.4h1.1v1.1h-1.1zM77.3 319.5h1.1v1.1h-1.1zM78.9 325.8h1.1v1.1h-1.1zM64.4 322.0h1.1v1.1h-1.1zM71.2 323.2h1.1v1.1h-1.1zM80.9 325.1h1.1v1.1h-1.1zM80.2 319.3h1.1v1.1h-1.1zM70.5 325.6h1.1v1.1h-1.1zM81.7 325.5h1.1v1.1h-1.1zM72.7 323.4h1.1v1.1h-1.1z"/>
<line x1="157.5" y1="290.2" x2="157.5" y2="362.5" stroke="#555" stroke-width="0.9"/>
<line x1="157.5" y1="362.5" x2="263.4" y2="362.5" stroke="#555" stroke-width="0.9"/>
<line x1="155.7" y1="294.30" x2="157.5" y2="294.30" stroke="#555" stroke-width="0.7"/>
<text x="148.40" y="296.40" font-size="6.0" textLength="6.10" lengthAdjust="spacingAndGlyphs" fill="#111" stroke="#111" stroke-width="0.07" >15</text>
<line x1="155.7" y1="305.80" x2="157.5" y2="305.80" stroke="#555" stroke-width="0.7"/>
<text x="148.40" y="307.90" font-size="6.0" textLength="6.10" lengthAdjust="spacingAndGlyphs" fill="#111" stroke="#111" stroke-width="0.07" >10</text>
<line x1="155.7" y1="317.30" x2="157.5" y2="317.30" stroke="#555" stroke-width="0.7"/>
<text x="151.45" y="319.40" font-size="6.0" textLength="3.05" lengthAdjust="spacingAndGlyphs" fill="#111" stroke="#111" stroke-width="0.07" >5</text>
<line x1="155.7" y1="328.80" x2="157.5" y2="328.80" stroke="#555" stroke-width="0.7"/>
<text x="151.45" y="330.90" font-size="6.0" textLength="3.05" lengthAdjust="spacingAndGlyphs" fill="#111" stroke="#111" stroke-width="0.07" >0</text>
<line x1="155.7" y1="340.30" x2="157.5" y2="340.30" stroke="#555" stroke-width="0.7"/>
<text x="149.55" y="342.40" font-size="6.0" textLength="4.95" lengthAdjust="spacingAndGlyphs" fill="#111" stroke="#111" stroke-width="0.07" >-5</text>
<line x1="155.7" y1="351.80" x2="157.5" y2="351.80" stroke="#555" stroke-width="0.7"/>
<text x="146.50" y="353.90" font-size="6.0" textLength="8.00" lengthAdjust="spacingAndGlyphs" fill="#111" stroke="#111" stroke-width="0.07" >-10</text>
<line x1="157.80" y1="362.5" x2="157.80" y2="364.3" stroke="#555" stroke-width="0.7"/>
<text x="152.85" y="369.10" font-size="6.0" textLength="8.00" lengthAdjust="spacingAndGlyphs" fill="#111" stroke="#111" stroke-width="0.07" >-10</text>
<line x1="184.10" y1="362.5" x2="184.10" y2="364.3" stroke="#555" stroke-width="0.7"/>
<text x="180.68" y="369.10" font-size="6.0" textLength="4.95" lengthAdjust="spacingAndGlyphs" fill="#111" stroke="#111" stroke-width="0.07" >-5</text>
<line x1="210.40" y1="362.5" x2="210.40" y2="364.3" stroke="#555" stroke-width="0.7"/>
<text x="208.88" y="369.10" font-size="6.0" textLength="3.05" lengthAdjust="spacingAndGlyphs" fill="#111" stroke="#111" stroke-width="0.07" >0</text>
<line x1="236.70" y1="362.5" x2="236.70" y2="364.3" stroke="#555" stroke-width="0.7"/>
<text x="235.17" y="369.10" font-size="6.0" textLength="3.05" lengthAdjust="spacingAndGlyphs" fill="#111" stroke="#111" stroke-width="0.07" >5</text>
<line x1="263.00" y1="362.5" x2="263.00" y2="364.3" stroke="#555" stroke-width="0.7"/>
<text x="259.95" y="369.10" font-size="6.0" textLength="6.10" lengthAdjust="spacingAndGlyphs" fill="#111" stroke="#111" stroke-width="0.07" >10</text>
<line x1="205.14" y1="290.2" x2="205.14" y2="362.5" stroke="#bcbcbc" stroke-width="0.9"/>
<line x1="215.66" y1="290.2" x2="215.66" y2="362.5" stroke="#bcbcbc" stroke-width="0.9"/>
<line x1="157.5" y1="326.50" x2="258.4" y2="326.50" stroke="#bcbcbc" stroke-width="0.8" stroke-dasharray="2 0.6"/>
<line x1="157.5" y1="331.10" x2="258.4" y2="331.10" stroke="#bcbcbc" stroke-width="0.8" stroke-dasharray="2 0.6"/>
<rect x="205.14" y="326.50" width="10.52" height="4.60" fill="#d8d8d8" stroke="#9a9a9a" stroke-width="0.8"/>
<path fill="#ff1a10" d="M219.6 320.6h1.1v1.1h-1.1zM218.4 321.6h1.1v1.1h-1.1zM221.1 321.1h1.1v1.1h-1.1zM221.4 324.9h1.1v1.1h-1.1zM216.1 324.2h1.1v1.1h-1.1zM217.6 320.1h1.1v1.1h-1.1zM219.4 319.9h1.1v1.1h-1.1zM215.6 322.1h1.1v1.1h-1.1zM219.0 325.9h1.1v1.1h-1.1zM215.9 320.9h1.1v1.1h-1.1zM215.1 325.6h1.1v1.1h-1.1zM220.6 325.1h1.1v1.1h-1.1zM216.1 325.9h1.1v1.1h-1.1zM220.5 324.5h1.1v1.1h-1.1zM215.1 318.7h1.1v1.1h-1.1zM224.1 325.4h1.1v1.1h-1.1zM215.3 318.9h1.1v1.1h-1.1zM218.2 324.0h1.1v1.1h-1.1zM217.3 324.1h1.1v1.1h-1.1zM216.0 322.9h1.1v1.1h-1.1zM215.3 325.7h1.1v1.1h-1.1zM215.3 325.1h1.1v1.1h-1.1zM219.0 321.8h1.1v1.1h-1.1zM221.5 324.5h1.1v1.1h-1.1zM216.2 320.9h1.1v1.1h-1.1zM215.7 322.8h1.1v1.1h-1.1zM217.0 319.2h1.1v1.1h-1.1zM215.6 325.7h1.1v1.1h-1.1zM216.5 321.2h1.1v1.1h-1.1zM215.7 321.0h1.1v1.1h-1.1zM219.1 320.3h1.1v1.1h-1.1zM219.4 325.5h1.1v1.1h-1.1zM220.7 324.9h1.1v1.1h-1.1zM219.0 320.3h1.1v1.1h-1.1zM215.3 324.7h1.1v1.1h-1.1zM217.8 321.5h1.1v1.1h-1.1zM215.8 325.3h1.1v1.1h-1.1zM215.3 322.1h1.1v1.1h-1.1zM215.8 321.7h1.1v1.1h-1.1zM217.5 324.5h1.1v1.1h-1.1zM219.6 322.5h1.1v1.1h-1.1zM221.3 325.8h1.1v1.1h-1.1zM216.4 324.7h1.1v1.1h-1.1zM218.9 321.6h1.1v1.1h-1.1zM221.0 321.8h1.1v1.1h-1.1zM216.6 324.9h1.1v1.1h-1.1zM215.9 321.5h1.1v1.1h-1.1zM216.0 325.1h1.1v1.1h-1.1zM219.5 320.6h1.1v1.1h-1.1zM221.0 321.0h1.1v1.1h-1.1zM216.0 320.4h1.1v1.1h-1.1zM220.4 324.1h1.1v1.1h-1.1zM219.8 325.7h1.1v1.1h-1.1zM215.2 325.5h1.1v1.1h-1.1zM215.5 322.6h1.1v1.1h-1.1zM218.9 319.2h1.1v1.1h-1.1zM215.7 323.0h1.1v1.1h-1.1zM218.5 325.4h1.1v1.1h-1.1zM216.6 322.6h1.1v1.1h-1.1zM217.4 321.0h1.1v1.1h-1.1zM215.3 320.5h1.1v1.1h-1.1zM217.4 325.6h1.1v1.1h-1.1zM216.0 322.9h1.1v1.1h-1.1zM215.7 321.4h1.1v1.1h-1.1zM217.8 324.1h1.1v1.1h-1.1zM219.3 321.1h1.1v1.1h-1.1zM217.5 323.7h1.1v1.1h-1.1zM219.4 319.2h1.1v1.1h-1.1zM215.3 321.8h1.1v1.1h-1.1zM219.0 323.1h1.1v1.1h-1.1zM215.2 324.4h1.1v1.1h-1.1zM218.8 318.8h1.1v1.1h-1.1zM218.0 325.3h1.1v1.1h-1.1zM216.1 321.8h1.1v1.1h-1.1zM221.6 325.7h1.1v1.1h-1.1zM216.7 320.6h1.1v1.1h-1.1zM217.4 325.6h1.1v1.1h-1.1zM224.7 325.5h1.1v1.1h-1.1zM216.5 325.7h1.1v1.1h-1.1zM215.4 320.6h1.1v1.1h-1.1zM215.3 325.4h1.1v1.1h-1.1zM218.7 325.1h1.1v1.1h-1.1zM215.4 320.0h1.1v1.1h-1.1zM221.5 325.0h1.1v1.1h-1.1zM216.6 323.3h1.1v1.1h-1.1zM216.1 325.4h1.1v1.1h-1.1zM215.3 318.8h1.1v1.1h-1.1zM220.8 324.5h1.1v1.1h-1.1zM219.4 319.5h1.1v1.1h-1.1zM222.5 323.0h1.1v1.1h-1.1zM216.1 321.9h1.1v1.1h-1.1zM219.8 323.0h1.1v1.1h-1.1zM215.3 320.9h1.1v1.1h-1.1zM224.1 324.9h1.1v1.1h-1.1zM222.4 325.4h1.1v1.1h-1.1zM216.1 323.9h1.1v1.1h-1.1zM217.9 324.5h1.1v1.1h-1.1zM215.3 318.7h1.1v1.1h-1.1zM216.0 319.9h1.1v1.1h-1.1zM221.2 325.1h1.1v1.1h-1.1zM215.7 323.9h1.1v1.1h-1.1zM221.2 323.4h1.1v1.1h-1.1zM217.3 319.8h1.1v1.1h-1.1zM221.9 325.9h1.1v1.1h-1.1zM221.1 321.9h1.1v1.1h-1.1zM215.9 319.0h1.1v1.1h-1.1zM219.0 319.9h1.1v1.1h-1.1zM217.0 324.4h1.1v1.1h-1.1zM216.7 323.7h1.1v1.1h-1.1zM215.4 323.7h1.1v1.1h-1.1zM223.2 324.7h1.1v1.1h-1.1zM219.2 323.4h1.1v1.1h-1.1zM218.3 319.6h1.1v1.1h-1.1zM223.3 324.6h1.1v1.1h-1.1zM220.7 320.3h1.1v1.1h-1.1zM219.1 320.9h1.1v1.1h-1.1zM215.7 320.2h1.1v1.1h-1.1zM216.5 321.5h1.1v1.1h-1.1zM215.3 320.0h1.1v1.1h-1.1zM216.4 322.4h1.1v1.1h-1.1zM224.2 314.8h1.1v1.1h-1.1zM224.4 310.3h1.1v1.1h-1.1zM224.8 316.7h1.1v1.1h-1.1zM225.5 311.2h1.1v1.1h-1.1zM222.6 312.0h1.1v1.1h-1.1zM249.4 324.4h1.1v1.1h-1.1zM250.5 324.6h1.1v1.1h-1.1zM202.8 335.8h1.1v1.1h-1.1zM203.2 341.8h1.1v1.1h-1.1zM203.3 343.1h1.1v1.1h-1.1zM199.5 331.3h1.1v1.1h-1.1zM201.8 335.2h1.1v1.1h-1.1zM203.3 341.9h1.1v1.1h-1.1zM197.0 340.1h1.1v1.1h-1.1zM200.0 336.3h1.1v1.1h-1.1zM200.7 345.1h1.1v1.1h-1.1zM204.2 332.3h1.1v1.1h-1.1zM201.4 331.2h1.1v1.1h-1.1zM197.0 331.2h1.1v1.1h-1.1zM202.1 335.8h1.1v1.1h-1.1zM194.7 337.3h1.1v1.1h-1.1zM203.5 333.1h1.1v1.1h-1.1zM201.8 334.0h1.1v1.1h-1.1zM199.7 344.8h1.1v1.1h-1.1zM203.5 335.9h1.1v1.1h-1.1zM203.7 330.8h1.1v1.1h-1.1zM199.9 343.5h1.1v1.1h-1.1zM197.5 332.0h1.1v1.1h-1.1zM199.0 331.0h1.1v1.1h-1.1zM204.0 334.4h1.1v1.1h-1.1zM198.7 341.5h1.1v1.1h-1.1zM203.5 337.3h1.1v1.1h-1.1zM201.3 340.1h1.1v1.1h-1.1zM204.2 340.0h1.1v1.1h-1.1zM204.6 344.6h1.1v1.1h-1.1zM200.7 332.8h1.1v1.1h-1.1zM204.0 332.5h1.1v1.1h-1.1zM195.2 340.4h1.1v1.1h-1.1zM202.4 334.4h1.1v1.1h-1.1zM203.2 340.1h1.1v1.1h-1.1zM197.5 335.5h1.1v1.1h-1.1zM203.6 335.9h1.1v1.1h-1.1zM198.5 331.1h1.1v1.1h-1.1zM198.4 346.5h1.1v1.1h-1.1zM199.1 331.4h1.1v1.1h-1.1zM203.3 336.9h1.1v1.1h-1.1zM200.7 340.1h1.1v1.1h-1.1zM202.9 342.8h1.1v1.1h-1.1zM198.9 345.3h1.1v1.1h-1.1zM203.7 336.6h1.1v1.1h-1.1zM203.8 336.8h1.1v1.1h-1.1zM198.6 340.4h1.1v1.1h-1.1zM194.6 338.4h1.1v1.1h-1.1zM195.8 330.8h1.1v1.1h-1.1zM204.1 342.6h1.1v1.1h-1.1zM204.3 334.2h1.1v1.1h-1.1zM197.8 338.5h1.1v1.1h-1.1zM197.1 334.6h1.1v1.1h-1.1zM197.0 334.9h1.1v1.1h-1.1zM192.6 333.6h1.1v1.1h-1.1zM204.6 336.1h1.1v1.1h-1.1zM195.8 331.3h1.1v1.1h-1.1zM200.1 343.9h1.1v1.1h-1.1zM193.7 332.0h1.1v1.1h-1.1zM204.0 341.0h1.1v1.1h-1.1zM197.6 335.1h1.1v1.1h-1.1zM204.4 330.6h1.1v1.1h-1.1zM194.6 334.7h1.1v1.1h-1.1zM203.0 346.6h1.1v1.1h-1.1zM199.0 344.8h1.1v1.1h-1.1zM200.6 343.9h1.1v1.1h-1.1zM200.6 346.0h1.1v1.1h-1.1zM201.1 345.6h1.1v1.1h-1.1zM199.1 332.5h1.1v1.1h-1.1zM201.9 336.8h1.1v1.1h-1.1zM199.7 335.0h1.1v1.1h-1.1zM203.1 338.6h1.1v1.1h-1.1zM199.5 333.6h1.1v1.1h-1.1zM201.1 337.2h1.1v1.1h-1.1zM203.5 340.0h1.1v1.1h-1.1zM202.6 337.6h1.1v1.1h-1.1zM199.0 342.0h1.1v1.1h-1.1zM200.9 342.2h1.1v1.1h-1.1zM193.2 333.2h1.1v1.1h-1.1zM201.6 337.3h1.1v1.1h-1.1zM200.8 333.8h1.1v1.1h-1.1zM197.4 340.8h1.1v1.1h-1.1zM197.3 336.8h1.1v1.1h-1.1zM200.0 332.7h1.1v1.1h-1.1zM202.0 334.8h1.1v1.1h-1.1zM196.4 334.8h1.1v1.1h-1.1zM203.4 341.3h1.1v1.1h-1.1zM195.4 333.0h1.1v1.1h-1.1zM198.7 339.8h1.1v1.1h-1.1zM198.4 339.5h1.1v1.1h-1.1zM204.3 333.5h1.1v1.1h-1.1zM204.5 334.8h1.1v1.1h-1.1zM201.5 345.9h1.1v1.1h-1.1zM195.4 340.1h1.1v1.1h-1.1zM203.3 342.7h1.1v1.1h-1.1zM203.9 334.5h1.1v1.1h-1.1zM198.8 342.5h1.1v1.1h-1.1zM201.6 336.9h1.1v1.1h-1.1zM199.7 333.5h1.1v1.1h-1.1zM196.6 340.9h1.1v1.1h-1.1zM197.8 343.6h1.1v1.1h-1.1zM200.9 336.1h1.1v1.1h-1.1zM192.8 334.1h1.1v1.1h-1.1zM203.4 332.3h1.1v1.1h-1.1zM193.5 333.6h1.1v1.1h-1.1zM202.7 343.6h1.1v1.1h-1.1zM197.6 343.6h1.1v1.1h-1.1zM203.3 335.9h1.1v1.1h-1.1zM202.1 342.1h1.1v1.1h-1.1zM193.0 331.6h1.1v1.1h-1.1zM201.2 336.1h1.1v1.1h-1.1zM202.9 338.8h1.1v1.1h-1.1zM200.6 330.7h1.1v1.1h-1.1zM204.6 335.1h1.1v1.1h-1.1zM196.3 335.0h1.1v1.1h-1.1zM197.3 334.4h1.1v1.1h-1.1zM203.5 339.3h1.1v1.1h-1.1zM196.4 330.7h1.1v1.1h-1.1zM202.5 339.0h1.1v1.1h-1.1zM194.1 332.5h1.1v1.1h-1.1zM203.4 344.8h1.1v1.1h-1.1zM199.6 338.6h1.1v1.1h-1.1zM204.4 334.2h1.1v1.1h-1.1zM197.8 334.3h1.1v1.1h-1.1zM200.4 338.9h1.1v1.1h-1.1zM202.8 331.6h1.1v1.1h-1.1zM200.7 334.1h1.1v1.1h-1.1zM194.2 334.9h1.1v1.1h-1.1zM191.6 331.5h1.1v1.1h-1.1zM194.3 333.1h1.1v1.1h-1.1zM198.3 333.1h1.1v1.1h-1.1zM204.4 335.1h1.1v1.1h-1.1zM198.1 342.5h1.1v1.1h-1.1zM195.6 333.5h1.1v1.1h-1.1zM193.7 336.7h1.1v1.1h-1.1zM200.7 330.9h1.1v1.1h-1.1zM197.7 332.9h1.1v1.1h-1.1zM197.6 342.2h1.1v1.1h-1.1zM201.5 337.9h1.1v1.1h-1.1zM204.1 342.6h1.1v1.1h-1.1zM196.0 333.3h1.1v1.1h-1.1zM193.4 336.1h1.1v1.1h-1.1zM199.7 331.3h1.1v1.1h-1.1zM204.6 332.7h1.1v1.1h-1.1zM204.0 331.3h1.1v1.1h-1.1zM200.6 335.0h1.1v1.1h-1.1zM202.4 337.2h1.1v1.1h-1.1zM200.6 340.7h1.1v1.1h-1.1zM203.9 346.3h1.1v1.1h-1.1zM200.3 337.3h1.1v1.1h-1.1zM194.9 335.0h1.1v1.1h-1.1zM193.8 332.7h1.1v1.1h-1.1zM201.7 334.8h1.1v1.1h-1.1zM199.8 339.1h1.1v1.1h-1.1zM204.1 333.7h1.1v1.1h-1.1zM202.6 345.7h1.1v1.1h-1.1zM196.9 331.5h1.1v1.1h-1.1zM202.1 337.6h1.1v1.1h-1.1zM194.9 334.3h1.1v1.1h-1.1zM200.7 334.5h1.1v1.1h-1.1zM202.7 345.8h1.1v1.1h-1.1zM203.5 335.5h1.1v1.1h-1.1zM198.9 340.0h1.1v1.1h-1.1zM201.1 336.2h1.1v1.1h-1.1zM195.3 333.0h1.1v1.1h-1.1zM195.8 336.4h1.1v1.1h-1.1zM196.7 335.0h1.1v1.1h-1.1zM202.7 330.7h1.1v1.1h-1.1zM200.2 345.8h1.1v1.1h-1.1zM200.7 340.2h1.1v1.1h-1.1zM203.2 336.6h1.1v1.1h-1.1zM197.2 332.2h1.1v1.1h-1.1zM203.0 340.6h1.1v1.1h-1.1zM203.9 339.6h1.1v1.1h-1.1zM203.6 339.1h1.1v1.1h-1.1zM202.2 337.3h1.1v1.1h-1.1zM203.8 338.0h1.1v1.1h-1.1zM198.7 336.8h1.1v1.1h-1.1zM201.7 331.7h1.1v1.1h-1.1zM200.2 340.3h1.1v1.1h-1.1zM197.3 339.1h1.1v1.1h-1.1zM203.1 338.3h1.1v1.1h-1.1zM195.7 336.1h1.1v1.1h-1.1zM197.4 338.2h1.1v1.1h-1.1zM200.4 334.9h1.1v1.1h-1.1zM199.1 346.0h1.1v1.1h-1.1zM204.1 339.8h1.1v1.1h-1.1zM204.5 339.1h1.1v1.1h-1.1zM197.4 345.3h1.1v1.1h-1.1zM202.9 341.2h1.1v1.1h-1.1zM203.7 343.5h1.1v1.1h-1.1zM201.0 343.1h1.1v1.1h-1.1zM172.4 341.9h1.1v1.1h-1.1zM182.9 341.1h1.1v1.1h-1.1zM189.0 337.5h1.1v1.1h-1.1zM193.3 333.5h1.1v1.1h-1.1zM194.2 335.1h1.1v1.1h-1.1zM172.6 335.1h1.1v1.1h-1.1zM173.6 331.9h1.1v1.1h-1.1zM187.4 332.5h1.1v1.1h-1.1zM175.9 334.6h1.1v1.1h-1.1zM178.9 342.2h1.1v1.1h-1.1zM194.4 341.6h1.1v1.1h-1.1zM196.4 336.4h1.1v1.1h-1.1zM191.7 334.4h1.1v1.1h-1.1zM194.9 340.9h1.1v1.1h-1.1zM190.1 333.8h1.1v1.1h-1.1zM174.2 342.3h1.1v1.1h-1.1zM185.6 338.5h1.1v1.1h-1.1zM193.3 332.8h1.1v1.1h-1.1zM189.3 336.7h1.1v1.1h-1.1zM191.4 336.6h1.1v1.1h-1.1zM176.8 342.7h1.1v1.1h-1.1zM178.9 340.1h1.1v1.1h-1.1zM192.5 334.0h1.1v1.1h-1.1zM189.2 335.8h1.1v1.1h-1.1zM177.5 333.7h1.1v1.1h-1.1zM195.6 335.5h1.1v1.1h-1.1zM184.6 337.1h1.1v1.1h-1.1zM172.6 340.2h1.1v1.1h-1.1zM190.4 341.7h1.1v1.1h-1.1zM180.8 333.6h1.1v1.1h-1.1zM180.6 339.9h1.1v1.1h-1.1zM188.2 336.0h1.1v1.1h-1.1zM184.9 332.9h1.1v1.1h-1.1zM194.7 336.8h1.1v1.1h-1.1zM184.5 340.6h1.1v1.1h-1.1zM176.9 339.8h1.1v1.1h-1.1zM180.7 340.9h1.1v1.1h-1.1zM174.3 334.4h1.1v1.1h-1.1zM187.7 336.9h1.1v1.1h-1.1zM181.3 338.1h1.1v1.1h-1.1zM177.4 336.3h1.1v1.1h-1.1zM172.0 340.7h1.1v1.1h-1.1zM178.3 341.1h1.1v1.1h-1.1zM185.6 338.3h1.1v1.1h-1.1zM187.5 332.5h1.1v1.1h-1.1zM200.2 348.4h1.1v1.1h-1.1zM199.8 355.2h1.1v1.1h-1.1zM200.5 355.6h1.1v1.1h-1.1zM201.4 353.6h1.1v1.1h-1.1zM199.5 347.0h1.1v1.1h-1.1zM202.6 350.0h1.1v1.1h-1.1zM201.1 346.4h1.1v1.1h-1.1zM202.2 356.3h1.1v1.1h-1.1zM201.6 346.4h1.1v1.1h-1.1zM202.3 352.3h1.1v1.1h-1.1zM202.3 350.9h1.1v1.1h-1.1zM201.0 350.4h1.1v1.1h-1.1zM162.5 342.1h1.1v1.1h-1.1zM160.0 342.4h1.1v1.1h-1.1z"/>
<path fill="#1a10ff" d="M221.5 334.7h1.1v1.1h-1.1zM220.2 341.9h1.1v1.1h-1.1zM217.2 332.9h1.1v1.1h-1.1zM215.5 333.4h1.1v1.1h-1.1zM215.2 334.5h1.1v1.1h-1.1zM215.9 342.1h1.1v1.1h-1.1zM215.3 331.2h1.1v1.1h-1.1zM215.8 341.1h1.1v1.1h-1.1zM217.4 336.6h1.1v1.1h-1.1zM220.8 342.2h1.1v1.1h-1.1zM219.9 334.3h1.1v1.1h-1.1zM217.0 343.8h1.1v1.1h-1.1zM218.6 343.9h1.1v1.1h-1.1zM222.6 334.3h1.1v1.1h-1.1zM215.4 338.3h1.1v1.1h-1.1zM220.9 338.6h1.1v1.1h-1.1zM218.0 337.5h1.1v1.1h-1.1zM222.2 335.9h1.1v1.1h-1.1zM215.9 339.9h1.1v1.1h-1.1zM217.2 335.0h1.1v1.1h-1.1zM218.1 345.0h1.1v1.1h-1.1zM224.0 331.8h1.1v1.1h-1.1zM220.1 330.8h1.1v1.1h-1.1zM220.4 336.1h1.1v1.1h-1.1zM215.4 336.1h1.1v1.1h-1.1zM221.1 337.5h1.1v1.1h-1.1zM216.6 342.0h1.1v1.1h-1.1zM221.4 333.0h1.1v1.1h-1.1zM215.8 342.2h1.1v1.1h-1.1zM220.6 343.6h1.1v1.1h-1.1zM217.3 336.1h1.1v1.1h-1.1zM221.1 340.6h1.1v1.1h-1.1zM216.9 332.8h1.1v1.1h-1.1zM220.9 334.5h1.1v1.1h-1.1zM219.3 332.6h1.1v1.1h-1.1zM219.7 337.2h1.1v1.1h-1.1zM224.5 332.0h1.1v1.1h-1.1zM217.2 345.7h1.1v1.1h-1.1zM215.7 342.1h1.1v1.1h-1.1zM217.4 344.1h1.1v1.1h-1.1zM220.3 341.5h1.1v1.1h-1.1zM223.0 335.0h1.1v1.1h-1.1zM215.2 332.8h1.1v1.1h-1.1zM222.0 337.2h1.1v1.1h-1.1zM220.2 343.9h1.1v1.1h-1.1zM222.3 337.3h1.1v1.1h-1.1zM215.6 338.1h1.1v1.1h-1.1zM220.4 339.3h1.1v1.1h-1.1zM219.3 336.0h1.1v1.1h-1.1zM216.7 333.6h1.1v1.1h-1.1zM218.4 335.9h1.1v1.1h-1.1zM215.4 336.7h1.1v1.1h-1.1zM217.4 330.6h1.1v1.1h-1.1zM219.5 340.7h1.1v1.1h-1.1zM216.5 333.2h1.1v1.1h-1.1zM215.8 337.4h1.1v1.1h-1.1zM221.5 338.8h1.1v1.1h-1.1zM219.7 332.8h1.1v1.1h-1.1zM219.5 340.8h1.1v1.1h-1.1zM219.2 340.6h1.1v1.1h-1.1zM222.4 333.7h1.1v1.1h-1.1zM215.2 344.4h1.1v1.1h-1.1zM216.7 344.7h1.1v1.1h-1.1zM215.4 331.4h1.1v1.1h-1.1zM218.7 342.1h1.1v1.1h-1.1zM218.5 332.0h1.1v1.1h-1.1zM222.2 339.4h1.1v1.1h-1.1zM221.3 334.7h1.1v1.1h-1.1zM216.1 333.4h1.1v1.1h-1.1zM217.9 332.2h1.1v1.1h-1.1zM216.5 339.1h1.1v1.1h-1.1zM216.3 332.3h1.1v1.1h-1.1zM216.1 331.3h1.1v1.1h-1.1zM218.6 334.4h1.1v1.1h-1.1zM218.6 332.5h1.1v1.1h-1.1zM223.2 336.2h1.1v1.1h-1.1zM222.6 336.9h1.1v1.1h-1.1zM216.0 336.7h1.1v1.1h-1.1zM215.6 338.6h1.1v1.1h-1.1zM215.4 332.4h1.1v1.1h-1.1zM221.5 340.5h1.1v1.1h-1.1zM217.1 335.7h1.1v1.1h-1.1zM217.1 336.0h1.1v1.1h-1.1zM216.9 340.3h1.1v1.1h-1.1zM223.2 332.1h1.1v1.1h-1.1zM215.1 338.3h1.1v1.1h-1.1zM218.8 343.0h1.1v1.1h-1.1zM219.7 334.9h1.1v1.1h-1.1zM216.6 344.3h1.1v1.1h-1.1zM216.7 336.1h1.1v1.1h-1.1zM219.4 338.0h1.1v1.1h-1.1zM221.2 341.0h1.1v1.1h-1.1zM217.5 332.0h1.1v1.1h-1.1zM219.3 343.1h1.1v1.1h-1.1zM219.4 338.6h1.1v1.1h-1.1zM223.4 334.7h1.1v1.1h-1.1zM217.3 337.9h1.1v1.1h-1.1zM215.6 332.5h1.1v1.1h-1.1zM219.1 343.9h1.1v1.1h-1.1zM217.3 330.7h1.1v1.1h-1.1zM218.2 336.8h1.1v1.1h-1.1zM222.6 335.1h1.1v1.1h-1.1zM218.8 334.9h1.1v1.1h-1.1zM217.9 344.5h1.1v1.1h-1.1zM216.9 336.8h1.1v1.1h-1.1zM219.4 335.4h1.1v1.1h-1.1zM216.1 341.9h1.1v1.1h-1.1zM217.4 335.2h1.1v1.1h-1.1zM222.9 335.0h1.1v1.1h-1.1zM216.4 337.8h1.1v1.1h-1.1zM221.9 334.6h1.1v1.1h-1.1zM221.0 332.2h1.1v1.1h-1.1zM216.2 330.7h1.1v1.1h-1.1zM222.7 331.1h1.1v1.1h-1.1zM216.4 332.1h1.1v1.1h-1.1zM216.7 331.0h1.1v1.1h-1.1zM219.2 341.0h1.1v1.1h-1.1zM220.1 344.1h1.1v1.1h-1.1zM222.0 338.0h1.1v1.1h-1.1zM224.3 331.4h1.1v1.1h-1.1zM215.9 336.1h1.1v1.1h-1.1zM220.3 341.3h1.1v1.1h-1.1zM215.4 335.4h1.1v1.1h-1.1zM218.9 343.4h1.1v1.1h-1.1zM222.3 338.7h1.1v1.1h-1.1zM215.3 330.9h1.1v1.1h-1.1zM215.2 331.8h1.1v1.1h-1.1zM218.6 340.6h1.1v1.1h-1.1zM215.9 331.7h1.1v1.1h-1.1zM220.0 332.5h1.1v1.1h-1.1zM221.7 340.0h1.1v1.1h-1.1zM223.7 335.0h1.1v1.1h-1.1zM217.4 336.1h1.1v1.1h-1.1zM216.3 333.5h1.1v1.1h-1.1zM220.0 345.3h1.1v1.1h-1.1zM215.7 340.5h1.1v1.1h-1.1zM215.8 332.5h1.1v1.1h-1.1zM220.9 334.9h1.1v1.1h-1.1zM219.4 331.1h1.1v1.1h-1.1zM215.2 340.1h1.1v1.1h-1.1zM221.1 336.2h1.1v1.1h-1.1zM217.6 338.4h1.1v1.1h-1.1zM217.8 343.6h1.1v1.1h-1.1zM217.6 334.7h1.1v1.1h-1.1zM219.3 344.7h1.1v1.1h-1.1zM217.5 344.2h1.1v1.1h-1.1zM216.0 332.0h1.1v1.1h-1.1zM220.3 335.4h1.1v1.1h-1.1zM222.8 330.6h1.1v1.1h-1.1zM217.6 341.9h1.1v1.1h-1.1zM222.8 330.6h1.1v1.1h-1.1zM220.0 335.8h1.1v1.1h-1.1zM220.0 338.3h1.1v1.1h-1.1zM223.2 335.7h1.1v1.1h-1.1zM219.7 344.9h1.1v1.1h-1.1zM216.6 339.0h1.1v1.1h-1.1zM216.5 335.3h1.1v1.1h-1.1zM219.0 344.0h1.1v1.1h-1.1zM219.8 342.0h1.1v1.1h-1.1zM218.0 345.6h1.1v1.1h-1.1zM221.2 334.4h1.1v1.1h-1.1zM219.8 333.6h1.1v1.1h-1.1zM223.1 332.2h1.1v1.1h-1.1zM216.4 337.0h1.1v1.1h-1.1zM215.3 344.3h1.1v1.1h-1.1zM218.6 344.5h1.1v1.1h-1.1zM221.9 332.1h1.1v1.1h-1.1zM221.7 338.3h1.1v1.1h-1.1zM217.4 338.6h1.1v1.1h-1.1zM215.3 344.5h1.1v1.1h-1.1zM251.9 339.0h1.1v1.1h-1.1zM240.1 339.0h1.1v1.1h-1.1zM254.1 339.4h1.1v1.1h-1.1zM215.6 357.9h1.1v1.1h-1.1zM203.4 321.7h1.1v1.1h-1.1zM199.2 321.6h1.1v1.1h-1.1zM199.1 325.7h1.1v1.1h-1.1zM203.7 321.7h1.1v1.1h-1.1zM203.1 322.3h1.1v1.1h-1.1zM191.5 324.4h1.1v1.1h-1.1zM196.8 319.6h1.1v1.1h-1.1zM198.7 324.0h1.1v1.1h-1.1zM198.3 320.9h1.1v1.1h-1.1zM193.4 323.8h1.1v1.1h-1.1zM191.0 324.2h1.1v1.1h-1.1zM204.1 323.7h1.1v1.1h-1.1zM204.1 321.5h1.1v1.1h-1.1zM204.5 322.1h1.1v1.1h-1.1zM201.9 319.2h1.1v1.1h-1.1zM204.2 321.6h1.1v1.1h-1.1zM202.1 322.4h1.1v1.1h-1.1zM193.0 325.1h1.1v1.1h-1.1zM199.3 325.9h1.1v1.1h-1.1zM191.4 325.8h1.1v1.1h-1.1zM204.6 320.1h1.1v1.1h-1.1zM200.4 323.8h1.1v1.1h-1.1zM197.9 321.7h1.1v1.1h-1.1zM190.9 324.6h1.1v1.1h-1.1zM203.9 325.4h1.1v1.1h-1.1zM204.3 320.9h1.1v1.1h-1.1zM199.1 325.4h1.1v1.1h-1.1zM203.7 324.6h1.1v1.1h-1.1zM202.2 319.8h1.1v1.1h-1.1zM203.5 321.1h1.1v1.1h-1.1zM203.8 319.9h1.1v1.1h-1.1zM200.8 320.0h1.1v1.1h-1.1zM199.7 319.3h1.1v1.1h-1.1zM200.2 322.5h1.1v1.1h-1.1zM202.1 320.5h1.1v1.1h-1.1zM189.8 325.7h1.1v1.1h-1.1zM199.3 321.0h1.1v1.1h-1.1zM203.6 321.5h1.1v1.1h-1.1zM194.3 323.8h1.1v1.1h-1.1zM198.0 319.4h1.1v1.1h-1.1zM195.5 325.5h1.1v1.1h-1.1zM201.5 323.1h1.1v1.1h-1.1zM203.9 325.5h1.1v1.1h-1.1zM200.1 323.7h1.1v1.1h-1.1zM201.4 325.0h1.1v1.1h-1.1zM196.1 323.1h1.1v1.1h-1.1zM203.9 322.8h1.1v1.1h-1.1zM202.8 320.2h1.1v1.1h-1.1zM197.2 319.5h1.1v1.1h-1.1zM197.5 325.6h1.1v1.1h-1.1zM203.0 319.4h1.1v1.1h-1.1zM202.5 323.2h1.1v1.1h-1.1zM203.2 325.9h1.1v1.1h-1.1zM202.3 325.6h1.1v1.1h-1.1zM199.7 322.5h1.1v1.1h-1.1zM200.4 319.6h1.1v1.1h-1.1zM190.7 324.4h1.1v1.1h-1.1zM200.0 322.5h1.1v1.1h-1.1zM199.8 320.4h1.1v1.1h-1.1zM197.8 324.5h1.1v1.1h-1.1zM189.7 324.8h1.1v1.1h-1.1zM189.2 325.1h1.1v1.1h-1.1zM204.6 325.8h1.1v1.1h-1.1zM203.5 323.1h1.1v1.1h-1.1zM204.1 323.5h1.1v1.1h-1.1zM199.7 320.7h1.1v1.1h-1.1zM194.4 322.0h1.1v1.1h-1.1zM200.8 319.1h1.1v1.1h-1.1zM204.6 321.8h1.1v1.1h-1.1zM200.2 325.9h1.1v1.1h-1.1zM203.4 319.4h1.1v1.1h-1.1zM204.6 323.0h1.1v1.1h-1.1zM192.2 324.1h1.1v1.1h-1.1zM195.3 322.8h1.1v1.1h-1.1zM203.2 325.9h1.1v1.1h-1.1zM192.2 325.4h1.1v1.1h-1.1zM189.4 325.7h1.1v1.1h-1.1zM191.6 325.0h1.1v1.1h-1.1zM202.4 323.4h1.1v1.1h-1.1zM202.8 319.4h1.1v1.1h-1.1zM204.4 321.9h1.1v1.1h-1.1zM195.4 320.7h1.1v1.1h-1.1zM194.0 325.7h1.1v1.1h-1.1zM203.8 325.0h1.1v1.1h-1.1zM196.8 324.4h1.1v1.1h-1.1zM192.8 319.3h1.1v1.1h-1.1zM193.9 321.6h1.1v1.1h-1.1zM184.6 324.5h1.1v1.1h-1.1zM186.6 322.1h1.1v1.1h-1.1zM176.5 319.9h1.1v1.1h-1.1zM173.7 324.6h1.1v1.1h-1.1zM171.0 324.6h1.1v1.1h-1.1zM182.8 320.5h1.1v1.1h-1.1zM203.1 316.9h1.1v1.1h-1.1zM202.0 316.6h1.1v1.1h-1.1zM202.5 316.7h1.1v1.1h-1.1zM203.5 318.8h1.1v1.1h-1.1z"/>
<text transform="translate(14.20,244.90) rotate(-90)" x="0" y="0" font-size="6.4" textLength="50.80" lengthAdjust="spacingAndGlyphs" fill="#000" stroke="#000" stroke-width="0.07">RNA-seq enrichment</text>
<text transform="translate(14.20,352.00) rotate(-90)" x="0" y="0" font-size="6.4" textLength="50.00" lengthAdjust="spacingAndGlyphs" fill="#000" stroke="#000" stroke-width="0.07">RNA-seq enrichment</text>
<text x="51.20" y="276.60" font-size="6.4" textLength="60.90" lengthAdjust="spacingAndGlyphs" fill="#000" stroke="#000" stroke-width="0.07" >ATAC-seq enrichment</text>
<text x="176.00" y="276.60" font-size="6.4" textLength="61.00" lengthAdjust="spacingAndGlyphs" fill="#000" stroke="#000" stroke-width="0.07" >ATAC-seq enrichment</text>
<text x="45.60" y="377.40" font-size="6.4" textLength="62.40" lengthAdjust="spacingAndGlyphs" fill="#000" stroke="#000" stroke-width="0.07" >ATAC-seq enrichment</text>
<text x="183.80" y="377.40" font-size="6.4" textLength="61.90" lengthAdjust="spacingAndGlyphs" fill="#000" stroke="#000" stroke-width="0.07" >ATAC-seq enrichment</text>
<text x="40.80" y="253.50" font-size="9.6" textLength="14.30" lengthAdjust="spacingAndGlyphs" fill="#000" stroke="#000" stroke-width="0.06" >(84)</text>
<text x="103.30" y="202.60" font-size="9.6" textLength="14.30" lengthAdjust="spacingAndGlyphs" fill="#000" stroke="#000" stroke-width="0.06" >(88)</text>
<text x="164.30" y="257.90" font-size="9.6" textLength="19.30" lengthAdjust="spacingAndGlyphs" fill="#000" stroke="#000" stroke-width="0.06" >(172)</text>
<text x="225.00" y="202.40" font-size="9.6" textLength="19.30" lengthAdjust="spacingAndGlyphs" fill="#000" stroke="#000" stroke-width="0.06" >(100)</text>
<text x="37.80" y="356.70" font-size="9.6" textLength="14.70" lengthAdjust="spacingAndGlyphs" fill="#000" stroke="#000" stroke-width="0.06" >(85)</text>
<text x="105.00" y="305.90" font-size="9.6" textLength="19.00" lengthAdjust="spacingAndGlyphs" fill="#000" stroke="#000" stroke-width="0.06" >(131)</text>
<text x="163.80" y="359.00" font-size="9.6" textLength="17.70" lengthAdjust="spacingAndGlyphs" fill="#000" stroke="#000" stroke-width="0.06" >(127)</text>
<text x="226.40" y="306.80" font-size="9.6" textLength="17.50" lengthAdjust="spacingAndGlyphs" fill="#000" stroke="#000" stroke-width="0.06" >(131)</text>
<text x="51.80" y="389.80" font-size="9.6" textLength="44.90" lengthAdjust="spacingAndGlyphs" fill="#111" stroke="#111" stroke-width="0.06" >AmV vs AcV</text>
<text x="187.10" y="389.80" font-size="9.6" textLength="47.70" lengthAdjust="spacingAndGlyphs" fill="#111" stroke="#111" stroke-width="0.06" >AmQ vs AcQ</text>
<text transform="translate(285.60,268.80) rotate(-90)" x="0" y="0" font-size="7.4" textLength="83.60" lengthAdjust="spacingAndGlyphs" fill="#000" stroke="#000" stroke-width="0.12"><tspan font-style="italic">A. mellifera</tspan> reference genome</text>
<text transform="translate(285.60,375.00) rotate(-90)" x="0" y="0" font-size="7.4" textLength="79.00" lengthAdjust="spacingAndGlyphs" fill="#000" stroke="#000" stroke-width="0.12"><tspan font-style="italic">A. cerana</tspan>  reference genome</text>
<text x="319.6" y="184.2" font-size="10.5" textLength="3.2" lengthAdjust="spacingAndGlyphs" fill="#222">j</text>
<text x="500.50" y="186.00" font-size="9.5" textLength="5.10" lengthAdjust="spacingAndGlyphs" fill="#000" stroke="#000" stroke-width="0.06" >k</text>
<rect x="400.5" y="181.5" width="62.0" height="179.0" fill="none" stroke="#707070" stroke-width="0.9"/>
<line x1="398.5" y1="189.60" x2="400.5" y2="189.60" stroke="#555" stroke-width="0.6"/>
<text x="358.30" y="191.60" font-size="6.6" textLength="39.40" lengthAdjust="spacingAndGlyphs" fill="#222" stroke="#222" stroke-width="0.07" >Purine metabolism</text>
<ellipse cx="459.3" cy="189.60" rx="1.6" ry="2.0" fill="#ff1010"/>
<line x1="398.5" y1="203.32" x2="400.5" y2="203.32" stroke="#555" stroke-width="0.6"/>
<text x="326.70" y="205.32" font-size="6.6" textLength="71.00" lengthAdjust="spacingAndGlyphs" fill="#222" stroke="#222" stroke-width="0.07" >2-Oxocarboxylic acid metabolism</text>
<circle cx="403.4" cy="203.32" r="0.75" fill="#e01890"/>
<line x1="398.5" y1="217.04" x2="400.5" y2="217.04" stroke="#555" stroke-width="0.6"/>
<text x="348.00" y="219.04" font-size="6.6" textLength="49.70" lengthAdjust="spacingAndGlyphs" fill="#222" stroke="#222" stroke-width="0.07" >Tryptophan metabolism</text>
<circle cx="403.4" cy="217.04" r="0.75" fill="#d020c0"/>
<line x1="398.5" y1="230.76" x2="400.5" y2="230.76" stroke="#555" stroke-width="0.6"/>
<text x="349.70" y="232.76" font-size="6.6" textLength="48.00" lengthAdjust="spacingAndGlyphs" fill="#222" stroke="#222" stroke-width="0.07" >Pyrimidine metabolism</text>
<circle cx="403.4" cy="230.76" r="0.75" fill="#b020e0"/>
<line x1="398.5" y1="244.48" x2="400.5" y2="244.48" stroke="#555" stroke-width="0.6"/>
<text x="316.90" y="246.48" font-size="6.6" textLength="80.80" lengthAdjust="spacingAndGlyphs" fill="#222" stroke="#222" stroke-width="0.07" >Biosynthesis of unsaturated fatty acids</text>
<circle cx="403.4" cy="244.48" r="0.75" fill="#b020e0"/>
<line x1="398.5" y1="258.20" x2="400.5" y2="258.20" stroke="#555" stroke-width="0.6"/>
<text x="353.00" y="260.20" font-size="6.6" textLength="44.70" lengthAdjust="spacingAndGlyphs" fill="#222" stroke="#222" stroke-width="0.07" >Pyruvate metabolism</text>
<circle cx="403.4" cy="258.20" r="0.75" fill="#b020e0"/>
<line x1="398.5" y1="271.92" x2="400.5" y2="271.92" stroke="#555" stroke-width="0.6"/>
<text x="339.50" y="273.92" font-size="6.6" textLength="58.20" lengthAdjust="spacingAndGlyphs" fill="#222" stroke="#222" stroke-width="0.07" >Citrate cycle (TCA cycle)</text>
<circle cx="403.4" cy="271.92" r="0.75" fill="#b020e0"/>
<line x1="398.5" y1="285.64" x2="400.5" y2="285.64" stroke="#555" stroke-width="0.6"/>
<text x="357.20" y="287.64" font-size="6.6" textLength="40.50" lengthAdjust="spacingAndGlyphs" fill="#222" stroke="#222" stroke-width="0.07" >Lysine degradation</text>
<circle cx="403.4" cy="285.64" r="0.75" fill="#b020e0"/>
<line x1="398.5" y1="299.36" x2="400.5" y2="299.36" stroke="#555" stroke-width="0.6"/>
<text x="361.80" y="301.36" font-size="6.6" textLength="35.90" lengthAdjust="spacingAndGlyphs" fill="#222" stroke="#222" stroke-width="0.07" >Drug metabolism</text>
<circle cx="403.4" cy="299.36" r="0.75" fill="#b020e0"/>
<line x1="398.5" y1="313.08" x2="400.5" y2="313.08" stroke="#555" stroke-width="0.6"/>
<text x="338.70" y="315.08" font-size="6.6" textLength="59.00" lengthAdjust="spacingAndGlyphs" fill="#222" stroke="#222" stroke-width="0.07" >Biosynthesis of amino acids</text>
<circle cx="403.4" cy="313.08" r="0.75" fill="#a020f0"/>
<line x1="398.5" y1="326.80" x2="400.5" y2="326.80" stroke="#555" stroke-width="0.6"/>
<text x="345.80" y="328.80" font-size="6.6" textLength="51.90" lengthAdjust="spacingAndGlyphs" fill="#ff2020" stroke="#ff2020" stroke-width="0.07" >Fatty acid metabolism</text>
<circle cx="403.4" cy="326.80" r="0.75" fill="#a020f0"/>
<line x1="398.5" y1="340.52" x2="400.5" y2="340.52" stroke="#555" stroke-width="0.6"/>
<text x="338.20" y="342.52" font-size="6.6" textLength="59.50" lengthAdjust="spacingAndGlyphs" fill="#222" stroke="#222" stroke-width="0.07" >mRNA surveillance pathway</text>
<circle cx="403.4" cy="340.52" r="0.75" fill="#9020f0"/>
<line x1="398.5" y1="354.24" x2="400.5" y2="354.24" stroke="#555" stroke-width="0.6"/>
<text x="356.50" y="356.24" font-size="6.6" textLength="41.20" lengthAdjust="spacingAndGlyphs" fill="#222" stroke="#222" stroke-width="0.07" >Carbon metabolism</text>
<circle cx="403.4" cy="354.24" r="0.75" fill="#2020ff"/>
<line x1="402.0" y1="360.5" x2="402.0" y2="362.1" stroke="#555" stroke-width="0.6"/>
<text x="396.00" y="368.90" font-size="6.4" textLength="12.00" lengthAdjust="spacingAndGlyphs" fill="#111" stroke="#111" stroke-width="0.07" >0.125</text>
<line x1="435.5" y1="360.5" x2="435.5" y2="362.1" stroke="#555" stroke-width="0.6"/>
<text x="430.75" y="368.90" font-size="6.4" textLength="9.50" lengthAdjust="spacingAndGlyphs" fill="#111" stroke="#111" stroke-width="0.07" >0.20</text>
<line x1="460.0" y1="360.5" x2="460.0" y2="362.1" stroke="#555" stroke-width="0.6"/>
<text x="455.85" y="368.90" font-size="6.4" textLength="8.30" lengthAdjust="spacingAndGlyphs" fill="#111" stroke="#111" stroke-width="0.07" >0.25</text>
<text x="420.00" y="375.90" font-size="5.6" textLength="20.30" lengthAdjust="spacingAndGlyphs" fill="#111" stroke="#111" stroke-width="0.07" >Gene ratio</text>
<rect x="585.5" y="182.5" width="63.0" height="178.0" fill="none" stroke="#707070" stroke-width="0.9"/>
<line x1="583.5" y1="186.90" x2="585.5" y2="186.90" stroke="#555" stroke-width="0.6"/>
<text x="545.10" y="189.50" font-size="6.6" textLength="36.40" lengthAdjust="spacingAndGlyphs" fill="#222" stroke="#222" stroke-width="0.07" >Carbon metabolism</text>
<circle cx="588.6" cy="186.90" r="0.75" fill="#2a10ff"/>
<line x1="583.5" y1="199.00" x2="585.5" y2="199.00" stroke="#555" stroke-width="0.6"/>
<text x="534.50" y="201.60" font-size="6.6" textLength="47.00" lengthAdjust="spacingAndGlyphs" fill="#222" stroke="#222" stroke-width="0.07" >MAPK signaling pathway</text>
<circle cx="588.6" cy="199.00" r="0.75" fill="#2a10ff"/>
<line x1="583.5" y1="210.90" x2="585.5" y2="210.90" stroke="#555" stroke-width="0.6"/>
<text x="508.70" y="213.50" font-size="6.6" textLength="72.80" lengthAdjust="spacingAndGlyphs" fill="#222" stroke="#222" stroke-width="0.07" >Neuroactive ligand-receptor interaction</text>
<circle cx="588.6" cy="210.90" r="0.75" fill="#2a10ff"/>
<line x1="583.5" y1="223.50" x2="585.5" y2="223.50" stroke="#555" stroke-width="0.6"/>
<text x="519.30" y="226.10" font-size="6.6" textLength="62.20" lengthAdjust="spacingAndGlyphs" fill="#ff2020" stroke="#ff2020" stroke-width="0.07" >Glycerophospho lipid metabolism</text>
<circle cx="588.6" cy="223.50" r="0.75" fill="#2a10ff"/>
<line x1="583.5" y1="236.10" x2="585.5" y2="236.10" stroke="#555" stroke-width="0.6"/>
<text x="527.30" y="238.70" font-size="6.6" textLength="54.20" lengthAdjust="spacingAndGlyphs" fill="#222" stroke="#222" stroke-width="0.07" >Hedgehog signaling pathway</text>
<circle cx="588.6" cy="236.10" r="0.75" fill="#2a10ff"/>
<line x1="583.5" y1="248.20" x2="585.5" y2="248.20" stroke="#555" stroke-width="0.6"/>
<text x="549.20" y="250.80" font-size="6.6" textLength="32.30" lengthAdjust="spacingAndGlyphs" fill="#222" stroke="#222" stroke-width="0.07" >ABC transporters</text>
<circle cx="588.6" cy="248.20" r="0.75" fill="#2a10ff"/>
<line x1="583.5" y1="260.60" x2="585.5" y2="260.60" stroke="#555" stroke-width="0.6"/>
<text x="534.10" y="263.20" font-size="6.6" textLength="47.40" lengthAdjust="spacingAndGlyphs" fill="#ff2020" stroke="#ff2020" stroke-width="0.07" >mTOR signaling pathway</text>
<circle cx="645.4" cy="260.60" r="0.95" fill="#5a10ee"/>
<line x1="583.5" y1="272.40" x2="585.5" y2="272.40" stroke="#555" stroke-width="0.6"/>
<text x="539.40" y="275.00" font-size="6.6" textLength="42.10" lengthAdjust="spacingAndGlyphs" fill="#ff2020" stroke="#ff2020" stroke-width="0.07" >Wnt signaling pathway</text>
<circle cx="645.4" cy="272.40" r="0.95" fill="#5a10ee"/>
<line x1="583.5" y1="286.50" x2="585.5" y2="286.50" stroke="#555" stroke-width="0.6"/>
<text x="528.20" y="289.10" font-size="6.6" textLength="53.30" lengthAdjust="spacingAndGlyphs" fill="#222" stroke="#222" stroke-width="0.07" >Insect hormone biosynthesis</text>
<circle cx="588.6" cy="286.50" r="0.75" fill="#2a10ff"/>
<line x1="583.5" y1="299.30" x2="585.5" y2="299.30" stroke="#555" stroke-width="0.6"/>
<text x="535.90" y="301.90" font-size="6.6" textLength="45.60" lengthAdjust="spacingAndGlyphs" fill="#222" stroke="#222" stroke-width="0.07" >Hippo signaling pathway</text>
<circle cx="588.6" cy="299.30" r="0.75" fill="#2a10ff"/>
<line x1="583.5" y1="313.00" x2="585.5" y2="313.00" stroke="#555" stroke-width="0.6"/>
<text x="535.90" y="315.60" font-size="6.6" textLength="45.60" lengthAdjust="spacingAndGlyphs" fill="#222" stroke="#222" stroke-width="0.07" >Hippo signaling pathway</text>
<circle cx="645.4" cy="313.00" r="0.95" fill="#7a18d0"/>
<line x1="583.5" y1="326.10" x2="585.5" y2="326.10" stroke="#555" stroke-width="0.6"/>
<text x="524.00" y="328.70" font-size="6.6" textLength="57.50" lengthAdjust="spacingAndGlyphs" fill="#222" stroke="#222" stroke-width="0.07" >Toll and Imd signaling pathway</text>
<circle cx="645.4" cy="326.10" r="0.95" fill="#8a18c0"/>
<line x1="583.5" y1="339.20" x2="585.5" y2="339.20" stroke="#555" stroke-width="0.6"/>
<text x="535.90" y="341.80" font-size="6.6" textLength="45.60" lengthAdjust="spacingAndGlyphs" fill="#222" stroke="#222" stroke-width="0.07" >Sphingolipid metabolism</text>
<circle cx="645.4" cy="339.20" r="0.95" fill="#d02060"/>
<line x1="583.5" y1="351.80" x2="585.5" y2="351.80" stroke="#555" stroke-width="0.6"/>
<text x="534.30" y="354.40" font-size="6.6" textLength="47.20" lengthAdjust="spacingAndGlyphs" fill="#222" stroke="#222" stroke-width="0.07" >Other glycan degradation</text>
<circle cx="645.4" cy="351.80" r="0.95" fill="#ff2020"/>
<line x1="589.5" y1="360.5" x2="589.5" y2="362.1" stroke="#555" stroke-width="0.6"/>
<text x="585.00" y="368.90" font-size="6.4" textLength="9.00" lengthAdjust="spacingAndGlyphs" fill="#111" stroke="#111" stroke-width="0.07" >0.04</text>
<line x1="608.8" y1="360.5" x2="608.8" y2="362.1" stroke="#555" stroke-width="0.6"/>
<text x="604.30" y="368.90" font-size="6.4" textLength="9.00" lengthAdjust="spacingAndGlyphs" fill="#111" stroke="#111" stroke-width="0.07" >0.05</text>
<line x1="628.0" y1="360.5" x2="628.0" y2="362.1" stroke="#555" stroke-width="0.6"/>
<text x="623.50" y="368.90" font-size="6.4" textLength="9.00" lengthAdjust="spacingAndGlyphs" fill="#111" stroke="#111" stroke-width="0.07" >0.06</text>
<line x1="647.0" y1="360.5" x2="647.0" y2="362.1" stroke="#555" stroke-width="0.6"/>
<text x="642.50" y="368.90" font-size="6.4" textLength="9.00" lengthAdjust="spacingAndGlyphs" fill="#111" stroke="#111" stroke-width="0.07" >0.07</text>
<text x="616.00" y="375.90" font-size="5.6" textLength="19.00" lengthAdjust="spacingAndGlyphs" fill="#111" stroke="#111" stroke-width="0.07" >Gene ratio</text>
<defs><linearGradient id="gj" x1="0" y1="0" x2="0" y2="1"><stop offset="0" stop-color="#ff1010"/><stop offset="0.5" stop-color="#c020a0"/><stop offset="1" stop-color="#3010ff"/></linearGradient><linearGradient id="gk" x1="0" y1="0" x2="0" y2="1"><stop offset="0" stop-color="#ff1010"/><stop offset="0.5" stop-color="#8010b0"/><stop offset="1" stop-color="#1010ff"/></linearGradient></defs>
<text x="464.30" y="210.00" font-size="5.2" textLength="31.20" lengthAdjust="spacingAndGlyphs" fill="#111" stroke="#111" stroke-width="0.03" >-log  10  (pvalue)</text>
<rect x="468.4" y="213.5" width="3.6" height="52" fill="url(#gj)"/>
<text x="473.00" y="225.20" font-size="5.8" textLength="6.00" lengthAdjust="spacingAndGlyphs" fill="#111" stroke="#111" stroke-width="0.07" >1.5</text>
<text x="473.00" y="239.40" font-size="5.8" textLength="6.00" lengthAdjust="spacingAndGlyphs" fill="#111" stroke="#111" stroke-width="0.07" >1.2</text>
<text x="473.00" y="254.20" font-size="5.8" textLength="6.00" lengthAdjust="spacingAndGlyphs" fill="#111" stroke="#111" stroke-width="0.07" >0.9</text>
<text x="466.00" y="276.00" font-size="6.4" textLength="12.60" lengthAdjust="spacingAndGlyphs" fill="#111" stroke="#111" stroke-width="0.07" >count</text>
<ellipse cx="468.0" cy="282.2" rx="1.2" ry="1.86" fill="#111"/>
<text x="473.00" y="284.30" font-size="5.8" textLength="2.20" lengthAdjust="spacingAndGlyphs" fill="#111" stroke="#111" stroke-width="0.07" >2</text>
<ellipse cx="468.0" cy="292.6" rx="1.05" ry="1.63" fill="#111"/>
<text x="473.00" y="294.70" font-size="5.8" textLength="6.80" lengthAdjust="spacingAndGlyphs" fill="#111" stroke="#111" stroke-width="0.07" >1.75</text>
<ellipse cx="468.0" cy="302.9" rx="0.95" ry="1.47" fill="#111"/>
<text x="473.00" y="305.00" font-size="5.8" textLength="6.80" lengthAdjust="spacingAndGlyphs" fill="#111" stroke="#111" stroke-width="0.07" >1.50</text>
<ellipse cx="468.0" cy="313.1" rx="0.8" ry="1.24" fill="#111"/>
<text x="473.00" y="315.20" font-size="5.8" textLength="6.80" lengthAdjust="spacingAndGlyphs" fill="#111" stroke="#111" stroke-width="0.07" >1.25</text>
<ellipse cx="468.0" cy="323.9" rx="0.55" ry="0.85" fill="#111"/>
<text x="473.00" y="326.00" font-size="5.8" textLength="2.20" lengthAdjust="spacingAndGlyphs" fill="#111" stroke="#111" stroke-width="0.07" >1</text>
<text x="650.70" y="210.00" font-size="5.2" textLength="32.00" lengthAdjust="spacingAndGlyphs" fill="#111" stroke="#111" stroke-width="0.03" >-log  10  (pvalue)</text>
<rect x="653.9" y="213.5" width="3.8" height="40" fill="url(#gk)"/>
<text x="659.60" y="218.70" font-size="5.8" textLength="6.40" lengthAdjust="spacingAndGlyphs" fill="#111" stroke="#111" stroke-width="0.07" >2.0</text>
<text x="659.60" y="229.00" font-size="5.8" textLength="6.40" lengthAdjust="spacingAndGlyphs" fill="#111" stroke="#111" stroke-width="0.07" >1.5</text>
<text x="659.60" y="239.30" font-size="5.8" textLength="6.40" lengthAdjust="spacingAndGlyphs" fill="#111" stroke="#111" stroke-width="0.07" >1.0</text>
<text x="659.60" y="250.00" font-size="5.8" textLength="6.40" lengthAdjust="spacingAndGlyphs" fill="#111" stroke="#111" stroke-width="0.07" >0.5</text>
<text x="651.30" y="276.20" font-size="6.4" textLength="11.90" lengthAdjust="spacingAndGlyphs" fill="#111" stroke="#111" stroke-width="0.07" >count</text>
<ellipse cx="654.3" cy="282.6" rx="0.9" ry="1.1" fill="#111"/>
<text x="657.60" y="284.60" font-size="5.8" textLength="2.80" lengthAdjust="spacingAndGlyphs" fill="#111" stroke="#111" stroke-width="0.07" >2</text>
<ellipse cx="654.3" cy="288.2" rx="0.6" ry="0.7" fill="#111"/>
<text x="657.60" y="290.10" font-size="5.8" textLength="2.80" lengthAdjust="spacingAndGlyphs" fill="#111" stroke="#111" stroke-width="0.07" >1</text>
<text x="406.4" y="391.2" font-size="10.2" textLength="46.2" lengthAdjust="spacingAndGlyphs" fill="#000">AmV vs AcV</text>
<text x="593.5" y="391.2" font-size="10.2" textLength="49.3" lengthAdjust="spacingAndGlyphs" fill="#000">AmQ vs AcQ</text>
</svg></body></html>
